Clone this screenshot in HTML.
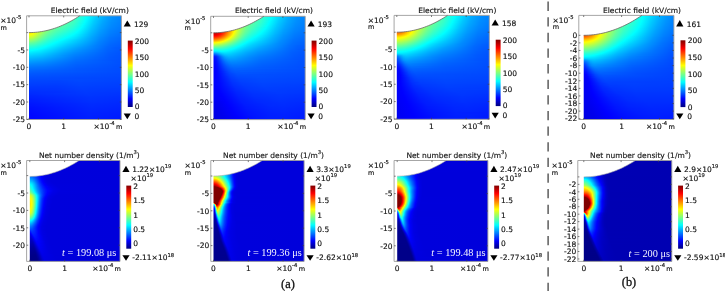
<!DOCTYPE html>
<html><head><meta charset="utf-8"><title>Electric field and net number density</title>
<style>
html,body{margin:0;padding:0;background:#fff}
#fig{position:relative;width:725px;height:291px;overflow:hidden;background:#fff}
.p{position:absolute}
.p i{display:block;height:1px}
svg{position:absolute;left:0;top:0}
.s{font-family:'DejaVu Sans','Liberation Sans',sans-serif;stroke:#111;stroke-width:.15px}
.r{font-family:'Liberation Serif','DejaVu Serif',serif}
</style></head><body>
<div id="fig">
<div class="p" style="clip-path:polygon(0.00px 17.60px,2.11px 17.57px,4.23px 17.48px,6.34px 17.34px,8.45px 17.13px,10.57px 16.87px,12.68px 16.55px,14.79px 16.17px,16.91px 15.73px,19.02px 15.24px,21.13px 14.68px,23.25px 14.07px,25.36px 13.40px,27.47px 12.67px,29.59px 11.88px,31.70px 11.04px,33.81px 10.13px,35.93px 9.17px,38.04px 8.15px,40.16px 7.07px,42.27px 5.93px,44.38px 4.74px,46.50px 3.48px,48.61px 2.17px,50.72px 0.80px,92.40px 0.80px,92.40px 104.50px,0.00px 104.50px);left:29px;top:15px;width:93px">
<i style="background:linear-gradient(90deg,#ff8000 0.5px,#feff01 13.5px,#b4ff4b 21.5px,#82ff7d 28.5px,#6aff95 33.5px,#3dffc2 47.5px,#00feff 58.5px,#00cdff 67.5px,#00a6ff 76.5px,#008eff 84.5px,#0081ff 92.5px)"></i>
<i style="background:linear-gradient(90deg,#ff8f00 0.5px,#ffb200 4.5px,#fffe00 12.5px,#b1ff4e 21.5px,#82ff7d 28.5px,#6bff94 33.5px,#40ffbf 46.5px,#27ffd8 51.5px,#04fffb 57.5px,#00fcff 58.5px,#00c6ff 68.5px,#00a9ff 75.5px,#008eff 84.5px,#0082ff 92.5px)"></i>
<i style="background:linear-gradient(90deg,#ff9d00 0.5px,#ffbd00 4.5px,#fffd00 11.5px,#f8ff07 12.5px,#b5ff4a 20.5px,#86ff79 27.5px,#6bff94 33.5px,#40ffbf 46.5px,#02fffd 57.5px,#00c9ff 67.5px,#00a7ff 75.5px,#0090ff 83.5px,#0081ff 92.5px)"></i>
<i style="background:linear-gradient(90deg,#ffa900 0.5px,#ffc600 4.5px,#fffb00 10.5px,#faff05 11.5px,#b8ff47 19.5px,#84ff7b 27.5px,#6dff92 32.5px,#3effc1 46.5px,#05fffa 56.5px,#00feff 57.5px,#0cf 66.5px,#00a6ff 75.5px,#008fff 83.5px,#0081ff 92.5px)"></i>
<i style="background:linear-gradient(90deg,#ffb300 0.5px,#ffcf00 4.5px,#fff900 9.5px,#fcff03 10.5px,#baff45 18.5px,#87ff78 26.5px,#6cff93 32.5px,#41ffbe 45.5px,#28ffd7 50.5px,#03fffc 56.5px,#00fcff 57.5px,#00c9ff 66.5px,#00a8ff 74.5px,#008eff 83.5px,#0081ff 92.5px)"></i>
<i style="background:linear-gradient(90deg,#fb0 0.5px,#ffd600 4.5px,#feff01 9.5px,#bdff42 17.5px,#8aff75 25.5px,#6eff91 31.5px,#3effc1 45.5px,#25ffda 50.5px,#0ff 56.5px,#0cf 65.5px,#0af 73.5px,#0090ff 82.5px,#0080ff 92.5px)"></i>
<i style="background:linear-gradient(90deg,#ffc200 0.5px,#ffdb00 4.5px,#fffc00 8.5px,#f9ff06 9.5px,#b7ff48 17.5px,#8cff73 24.5px,#6bff94 31.5px,#3cffc3 45.5px,#04fffb 55.5px,#00fcff 56.5px,#00c9ff 65.5px,#00a8ff 73.5px,#008fff 82.5px,#0080ff 92.5px)"></i>
<i style="background:linear-gradient(90deg,#ffc700 0.5px,#ffd800 3.5px,#fdff02 8.5px,#b9ff46 16.5px,#8dff72 23.5px,#6cff93 30.5px,#39ffc6 45.5px,#01fffe 55.5px,#0cf 64.5px,#00a6ff 73.5px,#008dff 82.5px,#007fff 92.5px)"></i>
<i style="background:linear-gradient(90deg,#ffcb00 0.5px,#ffdb00 3.5px,#fffc00 7.5px,#f9ff06 8.5px,#b4ff4b 16.5px,#8f7 23.5px,#69ff96 30.5px,#3affc5 44.5px,#00fcff 55.5px,#00c9ff 64.5px,#00a4ff 73.5px,#008cff 82.5px,#007eff 92.5px)"></i>
<i style="background:linear-gradient(90deg,#ffce00 0.5px,#ffde00 3.5px,#ff0 7.5px,#b7ff48 15.5px,#89ff76 22.5px,#65ff9a 30.5px,#36ffc9 44.5px,#23ffdc 48.5px,#0ff 54.5px,#00cbff 63.5px,#00a5ff 72.5px,#008bff 82.5px,#007dff 92.5px)"></i>
<i style="background:linear-gradient(90deg,#ffcf00 0.5px,#ffdf00 3.5px,#fdff02 7.5px,#b2ff4d 15.5px,#89ff76 21.5px,#64ff9b 29.5px,#32ffcd 44.5px,#02fffd 53.5px,#00c3ff 64.5px,#00a3ff 72.5px,#0089ff 82.5px,#007cff 92.5px)"></i>
<i style="background:linear-gradient(90deg,#ffd100 0.5px,#ffe000 3.5px,#fffa00 6.5px,#faff05 7.5px,#b5ff4a 14.5px,#9dff62 17.5px,#84ff7b 21.5px,#60ff9f 29.5px,#2dffd2 44.5px,#00fdff 53.5px,#00c5ff 63.5px,#00a1ff 72.5px,#08f 82.5px,#007bff 92.5px)"></i>
<i style="background:linear-gradient(90deg,#ffd200 0.5px,#ffe200 3.5px,#fffc00 6.5px,#f8ff07 7.5px,#b0ff4f 14.5px,#97ff68 17.5px,#7eff81 21.5px,#5bffa4 29.5px,#28ffd7 44.5px,#0ff 52.5px,#00c7ff 62.5px,#00a2ff 71.5px,#08f 81.5px,#0079ff 92.5px)"></i>
<i style="background:linear-gradient(90deg,#ffd400 0.5px,#ffe300 3.5px,#ff0 6.5px,#af5 14.5px,#92ff6d 17.5px,#7eff81 20.5px,#59ffa6 28.5px,#23ffdc 44.5px,#01fffe 51.5px,#00c4ff 62.5px,#00a0ff 71.5px,#0086ff 81.5px,#0078ff 92.5px)"></i>
<i style="background:linear-gradient(90deg,#ffd700 0.5px,#ffe000 2.5px,#fcff03 6.5px,#a5ff5a 14.5px,#8cff73 17.5px,#78ff87 20.5px,#57ffa8 27.5px,#25ffda 42.5px,#01fffe 50.5px,#00c1ff 62.5px,#009dff 71.5px,#0084ff 81.5px,#07f 92.5px)"></i>
<i style="background:linear-gradient(90deg,#ffdc00 0.5px,#ffe400 2.5px,#fffc00 5.5px,#f7ff08 6.5px,#9eff61 14.5px,#85ff7a 17.5px,#6cff93 21.5px,#51ffae 27.5px,#20ffdf 42.5px,#02fffd 49.5px,#00bdff 62.5px,#009bff 71.5px,#0082ff 81.5px,#0075ff 92.5px)"></i>
<i style="background:linear-gradient(90deg,#ffe200 0.5px,#ffea00 2.5px,#fcff03 5.5px,#98ff67 14.5px,#7eff81 17.5px,#6f9 21.5px,#4bffb4 27.5px,#1affe5 42.5px,#01fffe 48.5px,#00baff 62.5px,#009cff 70.5px,#0080ff 81.5px,#0073ff 92.5px)"></i>
<i style="background:linear-gradient(90deg,#ffea00 0.5px,#fff200 2.5px,#fdff02 4.5px,#90ff6f 14.5px,#7f8 17.5px,#64ff9b 20.5px,#45ffba 27.5px,#17ffe8 41.5px,#0ff 47.5px,#0bf 61.5px,#09f 70.5px,#007fff 81.5px,#0072ff 92.5px)"></i>
<i style="background:linear-gradient(90deg,#fff500 0.5px,#fffc00 2.5px,#f4ff0b 4.5px,#89ff76 14.5px,#70ff8f 17.5px,#5dffa2 20.5px,#3effc1 27.5px,#02fffd 45.5px,#00f5ff 48.5px,#00b3ff 62.5px,#0097ff 70.5px,#007dff 81.5px,#0070ff 92.5px)"></i>
<i style="background:linear-gradient(90deg,#fdff02 0.5px,#f6ff09 2.5px,#e8ff17 4.5px,#89ff76 13.5px,#6fff90 16.5px,#5bffa4 19.5px,#37ffc8 27.5px,#0ff 44.5px,#00b4ff 61.5px,#0094ff 70.5px,#007bff 81.5px,#006eff 92.5px)"></i>
<i style="background:linear-gradient(90deg,#ef1 0.5px,#e8ff17 2.5px,#dbff24 4.5px,#80ff7f 13.5px,#67ff98 16.5px,#54ffab 19.5px,#30ffcf 27.5px,#0ff 42.5px,#00e9ff 48.5px,#00adff 62.5px,#0092ff 70.5px,#0079ff 81.5px,#006dff 92.5px)"></i>
<i style="background:linear-gradient(90deg,#deff21 0.5px,#d8ff27 2.5px,#cf3 4.5px,#76ff89 13.5px,#5effa1 16.5px,#4cffb3 19.5px,#29ffd6 27.5px,#0ff 40.5px,#00e7ff 47.5px,#00a9ff 62.5px,#008fff 70.5px,#07f 81.5px,#006bff 92.5px)"></i>
<i style="background:linear-gradient(90deg,#cdff32 0.5px,#c7ff38 2.5px,#bcff43 4.5px,#64ff9b 14.5px,#4fb 19.5px,#26ffd9 26.5px,#0ff 38.5px,#00e0ff 47.5px,#00a6ff 62.5px,#008cff 70.5px,#0074ff 81.5px,#0069ff 92.5px)"></i>
<i style="background:linear-gradient(90deg,#bf4 0.5px,#b6ff49 2.5px,#abff54 4.5px,#61ff9e 13.5px,#41ffbe 18.5px,#2fd 25.5px,#01fffe 35.5px,#00e5ff 44.5px,#00a6ff 61.5px,#008aff 70.5px,#0072ff 81.5px,#0067ff 92.5px)"></i>
<i style="background:linear-gradient(90deg,#a8ff57 0.5px,#a3ff5c 2.5px,#94ff6b 5.5px,#56ffa9 13.5px,#38ffc7 18.5px,#1effe1 24.5px,#0ff 33.5px,#0087ff 70.5px,#0071ff 81.5px,#06f 92.5px)"></i>
<i style="background:linear-gradient(90deg,#95ff6a 0.5px,#91ff6e 2.5px,#83ff7c 5.5px,#4cffb3 13.5px,#2fffd0 18.5px,#16ffe9 24.5px,#00feff 31.5px,#0085ff 70.5px,#006fff 81.5px,#0064ff 92.5px)"></i>
<i style="background:linear-gradient(90deg,#82ff7d 0.5px,#7fff80 2.5px,#72ff8d 5.5px,#41ffbe 13.5px,#27ffd8 18.5px,#01fffe 28.5px,#0082ff 70.5px,#006dff 81.5px,#0062ff 92.5px)"></i>
<i style="background:linear-gradient(90deg,#70ff8f 0.5px,#6f9 4.5px,#27ffd8 16.5px,#0ff 26.5px,#0082ff 69.5px,#006bff 81.5px,#0061ff 92.5px)"></i>
<i style="background:linear-gradient(90deg,#5fffa0 0.5px,#53ffac 5.5px,#1effe1 16.5px,#0ff 24.5px,#00d7ff 37.5px,#0080ff 69.5px,#0069ff 81.5px,#005fff 92.5px)"></i>
<i style="background:linear-gradient(90deg,#4fffb0 0.5px,#4fb 5.5px,#15ffea 16.5px,#00feff 22.5px,#00cdff 38.5px,#0080ff 68.5px,#0067ff 81.5px,#005eff 92.5px)"></i>
<i style="background:linear-gradient(90deg,#40ffbf 0.5px,#36ffc9 5.5px,#08fff7 17.5px,#00fdff 20.5px,#00c6ff 38.5px,#007fff 67.5px,#0065ff 81.5px,#005cff 92.5px)"></i>
<i style="background:linear-gradient(90deg,#32ffcd 0.5px,#26ffd9 6.5px,#0ff 17.5px,#00c2ff 37.5px,#0085ff 63.5px,#06f 79.5px,#005bff 92.5px)"></i>
<i style="background:linear-gradient(90deg,#25ffda 0.5px,#1dffe2 5.5px,#00fdff 15.5px,#00c6ff 33.5px,#009dff 50.5px,#0068ff 77.5px,#005dff 85.5px,#0059ff 92.5px)"></i>
<i style="background:linear-gradient(90deg,#18ffe7 0.5px,#1fe 5.5px,#00feff 12.5px,#00c2ff 32.5px,#009eff 47.5px,#06f 77.5px,#005cff 85.5px,#0058ff 92.5px)"></i>
<i style="background:linear-gradient(90deg,#0dfff2 0.5px,#0ff 8.5px,#00b6ff 34.5px,#0095ff 49.5px,#0063ff 78.5px,#0057ff 92.5px)"></i>
<i style="background:linear-gradient(90deg,#02fffd 0.5px,#00feff 3.5px,#00f3ff 9.5px,#00b2ff 33.5px,#0095ff 46.5px,#0061ff 78.5px,#0056ff 92.5px)"></i>
<i style="background:linear-gradient(90deg,#00f7ff 0.5px,#00e8ff 10.5px,#0af 34.5px,#0091ff 46.5px,#005fff 79.5px,#05f 92.5px)"></i>
<i style="background:linear-gradient(90deg,#00edff 0.5px,#0df 11.5px,#00a4ff 34.5px,#008dff 45.5px,#005dff 79.5px,#0054ff 92.5px)"></i>
<i style="background:linear-gradient(90deg,#00e3ff 0.5px,#00d4ff 11.5px,#009eff 34.5px,#0089ff 45.5px,#005cff 79.5px,#0053ff 92.5px)"></i>
<i style="background:linear-gradient(90deg,#00daff 0.5px,#00caff 12.5px,#0097ff 35.5px,#0084ff 45.5px,#005aff 80.5px,#0053ff 92.5px)"></i>
<i style="background:linear-gradient(90deg,#00d0ff 0.5px,#00c2ff 12.5px,#0091ff 35.5px,#0080ff 45.5px,#0059ff 80.5px,#0052ff 92.5px)"></i>
<i style="background:linear-gradient(90deg,#00c7ff 0.5px,#00baff 12.5px,#007cff 45.5px,#0058ff 80.5px,#0052ff 92.5px)"></i>
<i style="background:linear-gradient(90deg,#00bfff 0.5px,#00b1ff 13.5px,#0078ff 45.5px,#0056ff 81.5px,#0051ff 92.5px)"></i>
<i style="background:linear-gradient(90deg,#00b6ff 0.5px,#00a9ff 13.5px,#0075ff 45.5px,#0056ff 81.5px,#0051ff 92.5px)"></i>
<i style="background:linear-gradient(90deg,#00aeff 0.5px,#00a2ff 13.5px,#0070ff 46.5px,#05f 81.5px,#0050ff 92.5px)"></i>
<i style="background:linear-gradient(90deg,#00a5ff 0.5px,#009bff 13.5px,#006dff 46.5px,#0054ff 81.5px,#0050ff 92.5px)"></i>
<i style="background:linear-gradient(90deg,#009dff 0.5px,#0093ff 14.5px,#006aff 46.5px,#004fff 92.5px)"></i>
<i style="background:linear-gradient(90deg,#0096ff 0.5px,#008cff 14.5px,#0067ff 46.5px,#004fff 92.5px)"></i>
<i style="background:linear-gradient(90deg,#008eff 0.5px,#0086ff 14.5px,#0065ff 46.5px,#004fff 92.5px)"></i>
<i style="background:linear-gradient(90deg,#0087ff 0.5px,#007fff 15.5px,#0062ff 46.5px,#004eff 92.5px)"></i>
<i style="background:linear-gradient(90deg,#0080ff 0.5px,#007aff 15.5px,#005fff 47.5px,#004eff 92.5px)"></i>
<i style="background:linear-gradient(90deg,#007aff 0.5px,#0074ff 15.5px,#005dff 47.5px,#004dff 92.5px)"></i>
<i style="background:linear-gradient(90deg,#0074ff 0.5px,#006fff 15.5px,#005bff 47.5px,#004dff 92.5px)"></i>
<i style="background:linear-gradient(90deg,#006fff 0.5px,#006bff 15.5px,#0058ff 48.5px,#004cff 92.5px)"></i>
<i style="background:linear-gradient(90deg,#006aff 0.5px,#06f 15.5px,#0057ff 48.5px,#004cff 92.5px)"></i>
<i style="background:linear-gradient(90deg,#0065ff 0.5px,#05f 49.5px,#004bff 92.5px)"></i>
<i style="background:linear-gradient(90deg,#0061ff 0.5px,#004bff 92.5px)"></i>
<i style="background:linear-gradient(90deg,#005dff 0.5px,#004aff 92.5px)"></i>
<i style="background:linear-gradient(90deg,#0059ff 0.5px,#0049ff 92.5px)"></i>
<i style="background:linear-gradient(90deg,#0056ff 0.5px,#0048ff 92.5px)"></i>
<i style="background:linear-gradient(90deg,#0053ff 0.5px,#0048ff 92.5px)"></i>
<i style="background:linear-gradient(90deg,#0050ff 0.5px,#0047ff 92.5px)"></i>
<i style="background:linear-gradient(90deg,#004dff 0.5px,#0046ff 92.5px)"></i>
<i style="background:linear-gradient(90deg,#004bff 0.5px,#0045ff 92.5px)"></i>
<i style="background:linear-gradient(90deg,#0048ff 0.5px,#0049ff 49.5px,#04f 92.5px)"></i>
<i style="background:linear-gradient(90deg,#0046ff 0.5px,#04f 28.5px,#0048ff 49.5px,#0043ff 92.5px)"></i>
<i style="background:linear-gradient(90deg,#04f 0.5px,#0042ff 28.5px,#0047ff 50.5px,#0042ff 92.5px)"></i>
<i style="background:linear-gradient(90deg,#0042ff 0.5px,#0041ff 28.5px,#0045ff 50.5px,#0041ff 92.5px)"></i>
<i style="background:linear-gradient(90deg,#0040ff 0.5px,#003fff 28.5px,#04f 50.5px,#0040ff 92.5px)"></i>
<i style="background:linear-gradient(90deg,#003eff 0.5px,#003dff 27.5px,#0043ff 51.5px,#003fff 92.5px)"></i>
<i style="background:linear-gradient(90deg,#003cff 0.5px,#003bff 27.5px,#0042ff 51.5px,#003eff 92.5px)"></i>
<i style="background:linear-gradient(90deg,#0039ff 0.5px,#0039ff 27.5px,#0040ff 51.5px,#003dff 92.5px)"></i>
<i style="background:linear-gradient(90deg,#0037ff 0.5px,#0038ff 27.5px,#003fff 52.5px,#003cff 92.5px)"></i>
<i style="background:linear-gradient(90deg,#0035ff 0.5px,#0036ff 27.5px,#003eff 52.5px,#003aff 92.5px)"></i>
<i style="background:linear-gradient(90deg,#03f 0.5px,#0035ff 27.5px,#003dff 53.5px,#0039ff 92.5px)"></i>
<i style="background:linear-gradient(90deg,#0031ff 0.5px,#03f 27.5px,#003bff 54.5px,#0038ff 92.5px)"></i>
<i style="background:linear-gradient(90deg,#002fff 0.5px,#0031ff 27.5px,#003aff 55.5px,#0037ff 92.5px)"></i>
<i style="background:linear-gradient(90deg,#002dff 0.5px,#0030ff 27.5px,#0039ff 56.5px,#0035ff 92.5px)"></i>
<i style="background:linear-gradient(90deg,#002bff 0.5px,#0038ff 57.5px,#0034ff 92.5px)"></i>
<i style="background:linear-gradient(90deg,#0029ff 0.5px,#0037ff 59.5px,#03f 92.5px)"></i>
<i style="background:linear-gradient(90deg,#0026ff 0.5px,#0036ff 60.5px,#0032ff 92.5px)"></i>
<i style="background:linear-gradient(90deg,#0024ff 0.5px,#0034ff 60.5px,#0030ff 92.5px)"></i>
<i style="background:linear-gradient(90deg,#02f 0.5px,#03f 61.5px,#002fff 92.5px)"></i>
<i style="background:linear-gradient(90deg,#0020ff 0.5px,#0032ff 61.5px,#002eff 92.5px)"></i>
<i style="background:linear-gradient(90deg,#001eff 0.5px,#0031ff 61.5px,#002dff 92.5px)"></i>
<i style="background:linear-gradient(90deg,#001cff 0.5px,#0030ff 61.5px,#002bff 92.5px)"></i>
<i style="background:linear-gradient(90deg,#001bff 0.5px,#002fff 61.5px,#002aff 92.5px)"></i>
<i style="background:linear-gradient(90deg,#0019ff 0.5px,#002eff 62.5px,#0029ff 92.5px)"></i>
<i style="background:linear-gradient(90deg,#0017ff 0.5px,#002cff 62.5px,#0028ff 92.5px)"></i>
<i style="background:linear-gradient(90deg,#0015ff 0.5px,#002bff 62.5px,#0027ff 92.5px)"></i>
<i style="background:linear-gradient(90deg,#0014ff 0.5px,#002aff 62.5px,#0026ff 92.5px)"></i>
<i style="background:linear-gradient(90deg,#0012ff 0.5px,#0029ff 62.5px,#0025ff 92.5px)"></i>
<i style="background:linear-gradient(90deg,#0010ff 0.5px,#0028ff 62.5px,#0024ff 92.5px)"></i>
<i style="background:linear-gradient(90deg,#000fff 0.5px,#0027ff 62.5px,#0023ff 92.5px)"></i>
<i style="background:linear-gradient(90deg,#000eff 0.5px,#0026ff 61.5px,#02f 92.5px)"></i>
<i style="background:linear-gradient(90deg,#000cff 0.5px,#0025ff 61.5px,#0021ff 92.5px)"></i>
<i style="background:linear-gradient(90deg,#000bff 0.5px,#0024ff 61.5px,#0020ff 92.5px)"></i>
<i style="background:linear-gradient(90deg,#000aff 0.5px,#0023ff 61.5px,#001fff 92.5px)"></i>
<i style="background:linear-gradient(90deg,#0009ff 0.5px,#02f 61.5px,#001eff 92.5px)"></i>
<i style="background:linear-gradient(90deg,#0008ff 0.5px,#02f 61.5px,#001dff 92.5px)"></i>
<i style="background:linear-gradient(90deg,#0007ff 0.5px,#0021ff 60.5px,#001dff 92.5px)"></i>
<i style="background:linear-gradient(90deg,#0007ff 0.5px,#0020ff 60.5px,#001cff 92.5px)"></i>
<i style="background:linear-gradient(90deg,#0006ff 0.5px,#001fff 59.5px,#001bff 92.5px)"></i>
<i style="background:linear-gradient(90deg,#0006ff 0.5px,#000fff 27.5px,#001fff 58.5px,#001bff 92.5px)"></i>
<i style="background:linear-gradient(90deg,#0005ff 0.5px,#000eff 27.5px,#001eff 57.5px,#001bff 92.5px)"></i>
</div>
<div class="p" style="clip-path:polygon(0.50px 16.80px,2.59px 16.77px,4.69px 16.69px,6.78px 16.54px,8.88px 16.34px,10.97px 16.08px,13.07px 15.77px,15.16px 15.40px,17.26px 14.97px,19.35px 14.48px,21.44px 13.94px,23.54px 13.33px,25.63px 12.67px,27.73px 11.96px,29.82px 11.19px,31.92px 10.35px,34.01px 9.47px,36.11px 8.52px,38.20px 7.52px,40.29px 6.46px,42.39px 5.34px,44.48px 4.17px,46.58px 2.94px,48.67px 1.65px,50.77px 0.30px,92.20px 0.30px,92.20px 103.60px,0.50px 103.60px);left:213px;top:16px;width:93px">
<i style="background:linear-gradient(90deg,#ff5b00 0.5px,#ff9200 6.5px,#feff01 16.5px,#adff52 24.5px,#81ff7e 30.5px,#69ff96 35.5px,#3fffc0 47.5px,#01fffe 58.5px,#00c9ff 68.5px,#00a7ff 76.5px,#008fff 84.5px,#0082ff 92.5px)"></i>
<i style="background:linear-gradient(90deg,#ff5e00 0.5px,#ff9200 6.5px,#ff0 16.5px,#f4ff0b 17.5px,#afff50 24.5px,#82ff7d 30.5px,#6aff95 35.5px,#3effc1 47.5px,#00feff 58.5px,#0cf 67.5px,#00a9ff 75.5px,#008fff 84.5px,#0082ff 92.5px)"></i>
<i style="background:linear-gradient(90deg,#ff5d00 0.5px,#ff8e00 6.5px,#fffb00 16.5px,#f8ff07 17.5px,#b1ff4e 24.5px,#83ff7c 30.5px,#6aff95 35.5px,#3dffc2 47.5px,#03fffc 57.5px,#00fcff 58.5px,#00caff 67.5px,#00a8ff 75.5px,#0091ff 83.5px,#0082ff 92.5px)"></i>
<i style="background:linear-gradient(90deg,#ff5900 0.5px,#ff6d00 3.5px,#ff8700 6.5px,#fcff03 17.5px,#b3ff4c 24.5px,#84ff7b 30.5px,#6aff95 35.5px,#3bffc4 47.5px,#0ff 57.5px,#0cf 66.5px,#0af 74.5px,#0090ff 83.5px,#0081ff 92.5px)"></i>
<i style="background:linear-gradient(90deg,#ff5100 0.5px,#ff6400 3.5px,#ff7e00 6.5px,#ffa800 10.5px,#fffc00 17.5px,#f6ff09 18.5px,#adff52 25.5px,#7fff80 31.5px,#6aff95 35.5px,#39ffc6 47.5px,#00fdff 57.5px,#00cfff 65.5px,#00a8ff 74.5px,#008fff 83.5px,#0081ff 92.5px)"></i>
<i style="background:linear-gradient(90deg,#ff4600 0.5px,#ff5700 3.5px,#ff7b00 7.5px,#fdff02 18.5px,#afff50 25.5px,#7fff80 31.5px,#65ff9a 36.5px,#36ffc9 47.5px,#01fffe 56.5px,#0cf 65.5px,#00a7ff 74.5px,#008eff 83.5px,#0080ff 92.5px)"></i>
<i style="background:linear-gradient(90deg,#ff3700 0.5px,#ff4800 3.5px,#ff6c00 7.5px,#ff9c00 11.5px,#fff900 18.5px,#f8ff07 19.5px,#b2ff4d 25.5px,#96ff69 28.5px,#80ff7f 31.5px,#64ff9b 36.5px,#34ffcb 47.5px,#00fdff 56.5px,#00caff 65.5px,#00a8ff 73.5px,#008fff 82.5px,#0080ff 92.5px)"></i>
<i style="background:linear-gradient(90deg,#ff2700 0.5px,#ff3700 3.5px,#ff5c00 7.5px,#ff8e00 11.5px,#ff0 19.5px,#b5ff4a 25.5px,#98ff67 28.5px,#80ff7f 31.5px,#62ff9d 36.5px,#30ffcf 47.5px,#01fffe 55.5px,#00c7ff 65.5px,#00a6ff 73.5px,#008dff 82.5px,#007fff 92.5px)"></i>
<i style="background:linear-gradient(90deg,#ff1400 0.5px,#ff2400 3.5px,#ff4a00 7.5px,#ff7f00 11.5px,#fff700 19.5px,#f8ff07 20.5px,#d0ff2f 23.5px,#adff52 26.5px,#90ff6f 29.5px,#78ff87 32.5px,#60ff9f 36.5px,#32ffcd 46.5px,#00fdff 55.5px,#00c9ff 64.5px,#00a4ff 73.5px,#008cff 82.5px,#007eff 92.5px)"></i>
<i style="background:linear-gradient(90deg,#ff0100 0.5px,#ff1000 3.5px,#ff2100 5.5px,#ff3700 7.5px,#ff6f00 11.5px,#ff0 20.5px,#d4ff2b 23.5px,#afff50 26.5px,#90ff6f 29.5px,#7f8 32.5px,#5effa1 36.5px,#29ffd6 47.5px,#0ff 54.5px,#00cbff 63.5px,#00a5ff 72.5px,#008aff 82.5px,#007dff 92.5px)"></i>
<i style="background:linear-gradient(90deg,#e00 0.5px,#fc0000 3.5px,#ff0500 4.5px,#ff2600 7.5px,#ff6000 11.5px,#fff900 20.5px,#f6ff09 21.5px,#caff35 24.5px,#a5ff5a 27.5px,#76ff89 32.5px,#56ffa9 37.5px,#25ffda 47.5px,#03fffc 53.5px,#00c4ff 64.5px,#00a3ff 72.5px,#0089ff 82.5px,#007bff 92.5px)"></i>
<i style="background:linear-gradient(90deg,#dc0000 0.5px,#e40000 2.5px,#fc0000 5.5px,#ff0900 6.5px,#ff4200 10.5px,#ffe200 19.5px,#fff300 20.5px,#faff05 21.5px,#cf3 24.5px,#a5ff5a 27.5px,#74ff8b 32.5px,#52ffad 37.5px,#00fdff 53.5px,#00c5ff 63.5px,#00a1ff 72.5px,#0087ff 82.5px,#007aff 92.5px)"></i>
<i style="background:linear-gradient(90deg,#cd0000 0.5px,#db0000 3.5px,#f90000 6.5px,#ff0700 7.5px,#ff4700 11.5px,#fd0 19.5px,#fdff02 21.5px,#cdff32 24.5px,#a5ff5a 27.5px,#71ff8e 32.5px,#4effb1 37.5px,#0ff 52.5px,#00c7ff 62.5px,#00a2ff 71.5px,#0087ff 81.5px,#0079ff 92.5px)"></i>
<i style="background:linear-gradient(90deg,#c20000 0.5px,#d00000 3.5px,#e20000 5.5px,#fc0000 7.5px,#ff0b00 8.5px,#ff3f00 11.5px,#ff0 21.5px,#cdff32 24.5px,#a3ff5c 27.5px,#6eff91 32.5px,#4fb 38.5px,#01fffe 51.5px,#00c4ff 62.5px,#009fff 71.5px,#0086ff 81.5px,#07f 92.5px)"></i>
<i style="background:linear-gradient(90deg,#bc0000 0.5px,#c90000 3.5px,#dc0000 5.5px,#f50000 7.5px,#ff0500 8.5px,#ff3a00 11.5px,#feff01 21.5px,#cf3 24.5px,#a0ff5f 27.5px,#8f7 29.5px,#69ff96 32.5px,#3fffc0 38.5px,#01fffe 50.5px,#00c0ff 62.5px,#009dff 71.5px,#0084ff 81.5px,#0076ff 92.5px)"></i>
<i style="background:linear-gradient(90deg,#b00 0.5px,#c10000 2.5px,#d00000 4.5px,#f40000 7.5px,#ff0400 8.5px,#ff3900 11.5px,#ffdc00 19.5px,#fcff03 21.5px,#c8ff37 24.5px,#9cff63 27.5px,#83ff7c 29.5px,#65ff9a 32.5px,#39ffc6 38.5px,#01fffe 49.5px,#00bdff 62.5px,#009eff 70.5px,#0082ff 81.5px,#0074ff 92.5px)"></i>
<i style="background:linear-gradient(90deg,#bf0000 0.5px,#c00 3.5px,#de0000 5.5px,#f80000 7.5px,#ff0800 8.5px,#ff5100 12.5px,#fff400 20.5px,#f7ff08 21.5px,#c3ff3c 24.5px,#97ff68 27.5px,#7eff81 29.5px,#5fffa0 32.5px,#3fc 38.5px,#01fffe 48.5px,#00beff 61.5px,#009bff 70.5px,#0080ff 81.5px,#0072ff 92.5px)"></i>
<i style="background:linear-gradient(90deg,#ca0000 0.5px,#d60000 3.5px,#ff0300 7.5px,#ff4700 11.5px,#fffc00 20.5px,#efff10 21.5px,#bcff43 24.5px,#90ff6f 27.5px,#7f8 29.5px,#58ffa7 32.5px,#2dffd2 38.5px,#0ff 47.5px,#0bf 61.5px,#09f 70.5px,#007eff 81.5px,#0071ff 92.5px)"></i>
<i style="background:linear-gradient(90deg,#db0000 0.5px,#e60000 3.5px,#f80000 5.5px,#ff0500 6.5px,#ff2100 8.5px,#ff4200 10.5px,#fff300 19.5px,#f8ff07 20.5px,#c3ff3c 23.5px,#95ff6a 26.5px,#7bff84 28.5px,#5affa5 31.5px,#40ffbf 34.5px,#2cffd3 37.5px,#03fffc 45.5px,#00feff 46.5px,#00b3ff 62.5px,#0096ff 70.5px,#007cff 81.5px,#006fff 92.5px)"></i>
<i style="background:linear-gradient(90deg,#f20000 0.5px,#fd0000 3.5px,#ff0500 4.5px,#ff2700 7.5px,#ff6700 11.5px,#feff01 19.5px,#c8ff37 22.5px,#9f6 25.5px,#7eff81 27.5px,#5cffa3 30.5px,#40ffbf 33.5px,#2bffd4 36.5px,#01fffe 44.5px,#00b3ff 61.5px,#0093ff 70.5px,#007aff 81.5px,#006dff 92.5px)"></i>
<i style="background:linear-gradient(90deg,#ff0f00 0.5px,#ff1900 3.5px,#ff2900 5.5px,#ff4000 7.5px,#ff7d00 11.5px,#fffe00 18.5px,#9cff63 24.5px,#5dffa2 29.5px,#40ffbf 32.5px,#29ffd6 35.5px,#03fffc 42.5px,#00feff 43.5px,#00b0ff 61.5px,#0091ff 70.5px,#0078ff 81.5px,#006cff 92.5px)"></i>
<i style="background:linear-gradient(90deg,#ff2f00 0.5px,#ff3900 3.5px,#ff4800 5.5px,#ff5e00 7.5px,#ff9700 11.5px,#ff0 17.5px,#9dff62 23.5px,#5dffa2 28.5px,#3fffc0 31.5px,#28ffd7 34.5px,#01fffe 41.5px,#00b4ff 59.5px,#0091ff 69.5px,#0076ff 81.5px,#006aff 92.5px)"></i>
<i style="background:linear-gradient(90deg,#ff5300 0.5px,#ff5c00 3.5px,#ff6a00 5.5px,#ff7e00 7.5px,#ffa500 10.5px,#fff400 15.5px,#f9ff06 16.5px,#9bff64 22.5px,#5cffa3 27.5px,#3effc1 30.5px,#26ffd9 33.5px,#02fffd 39.5px,#00b0ff 59.5px,#008fff 69.5px,#0074ff 81.5px,#0068ff 92.5px)"></i>
<i style="background:linear-gradient(90deg,#ff7a00 0.5px,#ff8200 3.5px,#ff9700 6.5px,#ffc500 10.5px,#ff0 14.5px,#97ff68 21.5px,#59ffa6 26.5px,#3bffc4 29.5px,#23ffdc 32.5px,#00feff 38.5px,#00b7ff 56.5px,#008fff 68.5px,#0073ff 80.5px,#06f 92.5px)"></i>
<i style="background:linear-gradient(90deg,#ffa100 0.5px,#ffa500 2.5px,#ffb400 5.5px,#ffcf00 8.5px,#ff0 12.5px,#91ff6e 20.5px,#56ffa9 25.5px,#27ffd8 30.5px,#01fffe 36.5px,#00c0ff 52.5px,#008cff 68.5px,#0071ff 80.5px,#0065ff 92.5px)"></i>
<i style="background:linear-gradient(90deg,#ffc900 0.5px,#fc0 2.5px,#ffd500 4.5px,#ffe200 6.5px,#fffd00 9.5px,#ecff13 11.5px,#7dff82 20.5px,#51ffae 24.5px,#23ffdc 29.5px,#02fffd 34.5px,#00cfff 46.5px,#008cff 67.5px,#006fff 80.5px,#0063ff 92.5px)"></i>
<i style="background:linear-gradient(90deg,#fff000 0.5px,#fff300 2.5px,#feff01 5.5px,#f0ff0f 7.5px,#cf3 11.5px,#69ff96 20.5px,#41ffbe 24.5px,#18ffe7 29.5px,#00fdff 33.5px,#00eaff 37.5px,#00d3ff 43.5px,#008cff 66.5px,#006dff 80.5px,#0061ff 92.5px)"></i>
<i style="background:linear-gradient(90deg,#e8ff17 0.5px,#deff21 4.5px,#c7ff38 8.5px,#a4ff5b 12.5px,#3affc5 23.5px,#1affe5 27.5px,#0ff 31.5px,#00e5ff 36.5px,#00cfff 42.5px,#008eff 64.5px,#006dff 79.5px,#0060ff 92.5px)"></i>
<i style="background:linear-gradient(90deg,#c4ff3b 0.5px,#bf4 4.5px,#a6ff59 8.5px,#8f7 12.5px,#2affd5 23.5px,#01fffe 29.5px,#00e5ff 34.5px,#00ceff 40.5px,#0093ff 61.5px,#006dff 78.5px,#005eff 92.5px)"></i>
<i style="background:linear-gradient(90deg,#a2ff5d 0.5px,#9bff64 4.5px,#8f7 8.5px,#6eff91 12.5px,#2fd 22.5px,#01fffe 27.5px,#00e1ff 33.5px,#00cdff 38.5px,#00a0ff 54.5px,#006eff 76.5px,#0062ff 84.5px,#005dff 92.5px)"></i>
<i style="background:linear-gradient(90deg,#80ff7f 0.5px,#78ff87 5.5px,#67ff98 9.5px,#01fffe 25.5px,#00d0ff 35.5px,#00a7ff 49.5px,#006dff 76.5px,#0061ff 84.5px,#005bff 92.5px)"></i>
<i style="background:linear-gradient(90deg,#5fffa0 0.5px,#5affa5 5.5px,#4effb1 9.5px,#00feff 23.5px,#00cfff 33.5px,#00a9ff 46.5px,#006bff 76.5px,#005fff 84.5px,#005aff 92.5px)"></i>
<i style="background:linear-gradient(90deg,#3effc1 0.5px,#3dffc2 6.5px,#37ffc8 9.5px,#26ffd9 13.5px,#02fffd 20.5px,#00fcff 21.5px,#00cbff 32.5px,#00a5ff 45.5px,#0069ff 76.5px,#005dff 85.5px,#0058ff 92.5px)"></i>
<i style="background:linear-gradient(90deg,#1effe1 0.5px,#23ffdc 6.5px,#21ffde 9.5px,#00fdff 18.5px,#00c6ff 31.5px,#00a2ff 44.5px,#06f 77.5px,#005bff 85.5px,#0057ff 92.5px)"></i>
<i style="background:linear-gradient(90deg,#00feff 0.5px,#0efff1 8.5px,#0afff5 11.5px,#01fffe 14.5px,#00c2ff 30.5px,#009eff 43.5px,#0064ff 77.5px,#0056ff 92.5px)"></i>
<i style="background:linear-gradient(90deg,#00e0ff 0.5px,#00e3ff 2.5px,#00f8ff 8.5px,#00f8ff 11.5px,#00efff 15.5px,#00b4ff 32.5px,#0096ff 44.5px,#0061ff 78.5px,#05f 92.5px)"></i>
<i style="background:linear-gradient(90deg,#00b5ff 0.5px,#00baff 2.5px,#00e0ff 8.5px,#00e6ff 10.5px,#00e7ff 12.5px,#00dfff 16.5px,#0af 33.5px,#0091ff 44.5px,#005eff 79.5px,#0054ff 92.5px)"></i>
<i style="background:linear-gradient(90deg,#0086ff 0.5px,#0087ff 1.5px,#0094ff 3.5px,#00beff 7.5px,#00cdff 9.5px,#00d6ff 11.5px,#00d8ff 13.5px,#00d1ff 17.5px,#009fff 35.5px,#008bff 45.5px,#005dff 79.5px,#0054ff 92.5px)"></i>
<i style="background:linear-gradient(90deg,#005dff 0.5px,#005fff 1.5px,#006fff 3.5px,#00a2ff 7.5px,#00b8ff 9.5px,#00c5ff 11.5px,#00caff 14.5px,#00c5ff 18.5px,#009cff 34.5px,#0086ff 45.5px,#005bff 80.5px,#0053ff 92.5px)"></i>
<i style="background:linear-gradient(90deg,#0037ff 0.5px,#0039ff 1.5px,#004bff 3.5px,#0095ff 8.5px,#00acff 10.5px,#00b9ff 12.5px,#00bfff 15.5px,#00baff 19.5px,#0094ff 35.5px,#0080ff 46.5px,#005aff 80.5px,#0052ff 92.5px)"></i>
<i style="background:linear-gradient(90deg,#0018ff 0.5px,#001bff 1.5px,#002dff 3.5px,#007fff 8.5px,#09f 10.5px,#0af 12.5px,#00b4ff 15.5px,#00b1ff 19.5px,#008dff 36.5px,#007cff 46.5px,#0058ff 81.5px,#0052ff 92.5px)"></i>
<i style="background:linear-gradient(90deg,#000eff 0.5px,#0010ff 1.5px,#02f 3.5px,#0071ff 8.5px,#0096ff 11.5px,#00a3ff 13.5px,#00abff 16.5px,#00a8ff 20.5px,#08f 36.5px,#0078ff 46.5px,#0057ff 81.5px,#0051ff 92.5px)"></i>
<i style="background:linear-gradient(90deg,#000aff 0.5px,#000cff 1.5px,#001cff 3.5px,#0075ff 9.5px,#008bff 11.5px,#09f 13.5px,#00a2ff 16.5px,#009fff 21.5px,#0082ff 37.5px,#0074ff 47.5px,#0056ff 81.5px,#0051ff 92.5px)"></i>
<i style="background:linear-gradient(90deg,#0007ff 0.5px,#0009ff 1.5px,#0018ff 3.5px,#006aff 9.5px,#0080ff 11.5px,#0094ff 14.5px,#009aff 17.5px,#0097ff 22.5px,#0070ff 47.5px,#05f 81.5px,#0050ff 92.5px)"></i>
<i style="background:linear-gradient(90deg,#0005ff 0.5px,#0007ff 1.5px,#0014ff 3.5px,#002bff 5.5px,#0061ff 9.5px,#07f 11.5px,#008bff 14.5px,#0092ff 17.5px,#0090ff 22.5px,#006dff 47.5px,#0050ff 92.5px)"></i>
<i style="background:linear-gradient(90deg,#0004ff 0.5px,#0005ff 1.5px,#01f 3.5px,#0026ff 5.5px,#0059ff 9.5px,#0076ff 12.5px,#0086ff 15.5px,#008bff 18.5px,#0089ff 23.5px,#006aff 47.5px,#004fff 92.5px)"></i>
<i style="background:linear-gradient(90deg,#0003ff 0.5px,#0008ff 2.5px,#0018ff 4.5px,#0052ff 9.5px,#006eff 12.5px,#007eff 15.5px,#0084ff 18.5px,#0083ff 23.5px,#0067ff 48.5px,#004fff 92.5px)"></i>
<i style="background:linear-gradient(90deg,#0002ff 0.5px,#0007ff 2.5px,#0015ff 4.5px,#05f 10.5px,#006dff 13.5px,#007aff 16.5px,#007fff 19.5px,#007dff 24.5px,#0064ff 48.5px,#004fff 92.5px)"></i>
<i style="background:linear-gradient(90deg,#0002ff 0.5px,#0006ff 2.5px,#0013ff 4.5px,#004eff 10.5px,#0065ff 13.5px,#0073ff 16.5px,#0078ff 19.5px,#07f 25.5px,#0062ff 48.5px,#004eff 92.5px)"></i>
<i style="background:linear-gradient(90deg,#0001ff 0.5px,#0005ff 2.5px,#01f 4.5px,#0048ff 10.5px,#005eff 13.5px,#006cff 16.5px,#0072ff 19.5px,#0072ff 25.5px,#005fff 49.5px,#004eff 92.5px)"></i>
<i style="background:linear-gradient(90deg,#0001ff 0.5px,#0004ff 2.5px,#000fff 4.5px,#004aff 11.5px,#005dff 14.5px,#0069ff 17.5px,#006eff 20.5px,#006dff 26.5px,#005dff 49.5px,#004dff 92.5px)"></i>
<i style="background:linear-gradient(90deg,#00f 0.5px,#0003ff 2.5px,#000dff 4.5px,#0045ff 11.5px,#0057ff 14.5px,#0063ff 17.5px,#0068ff 20.5px,#0069ff 25.5px,#005bff 48.5px,#004dff 92.5px)"></i>
<i style="background:linear-gradient(90deg,#0000fe 0.5px,#0002ff 2.5px,#000bff 4.5px,#003fff 11.5px,#0052ff 14.5px,#005dff 17.5px,#0064ff 21.5px,#004dff 92.5px)"></i>
<i style="background:linear-gradient(90deg,#0000fd 0.5px,#0001ff 2.5px,#000aff 4.5px,#0041ff 12.5px,#0051ff 15.5px,#005bff 18.5px,#0060ff 21.5px,#0061ff 27.5px,#0057ff 49.5px,#004cff 92.5px)"></i>
<i style="background:linear-gradient(90deg,#0000fd 0.5px,#0001ff 2.5px,#0008ff 4.5px,#003dff 12.5px,#004cff 15.5px,#0056ff 18.5px,#005cff 22.5px,#004bff 92.5px)"></i>
<i style="background:linear-gradient(90deg,#0000fd 0.5px,#00f 2.5px,#0007ff 4.5px,#0048ff 15.5px,#0052ff 18.5px,#0058ff 22.5px,#005aff 29.5px,#004bff 92.5px)"></i>
<i style="background:linear-gradient(90deg,#0000fd 0.5px,#00f 2.5px,#0007ff 4.5px,#003aff 13.5px,#0047ff 16.5px,#0050ff 19.5px,#0056ff 23.5px,#004aff 92.5px)"></i>
<i style="background:linear-gradient(90deg,#0000fd 0.5px,#00f 2.5px,#0006ff 4.5px,#04f 16.5px,#0052ff 23.5px,#0054ff 31.5px,#0049ff 92.5px)"></i>
<i style="background:linear-gradient(90deg,#0000fd 0.5px,#00f 2.5px,#000aff 5.5px,#03f 13.5px,#0043ff 17.5px,#0050ff 24.5px,#0049ff 92.5px)"></i>
<i style="background:linear-gradient(90deg,#0000fd 0.5px,#00f 2.5px,#0009ff 5.5px,#0030ff 13.5px,#0040ff 17.5px,#004dff 24.5px,#004eff 44.5px,#0048ff 92.5px)"></i>
<i style="background:linear-gradient(90deg,#0000fd 0.5px,#00f 2.5px,#0009ff 5.5px,#003dff 17.5px,#004aff 24.5px,#004dff 45.5px,#0047ff 92.5px)"></i>
<i style="background:linear-gradient(90deg,#0000fe 0.5px,#00f 2.5px,#0008ff 5.5px,#003aff 17.5px,#0048ff 25.5px,#004cff 46.5px,#0046ff 92.5px)"></i>
<i style="background:linear-gradient(90deg,#0000fe 0.5px,#0001ff 2.5px,#0008ff 5.5px,#003aff 18.5px,#0045ff 25.5px,#004aff 47.5px,#0045ff 92.5px)"></i>
<i style="background:linear-gradient(90deg,#0000fe 0.5px,#0007ff 5.5px,#0037ff 18.5px,#0043ff 26.5px,#0049ff 47.5px,#04f 92.5px)"></i>
<i style="background:linear-gradient(90deg,#0000fe 0.5px,#0007ff 5.5px,#0035ff 18.5px,#0041ff 26.5px,#0048ff 48.5px,#04f 92.5px)"></i>
<i style="background:linear-gradient(90deg,#0000fe 0.5px,#0007ff 5.5px,#0035ff 19.5px,#0040ff 27.5px,#0047ff 48.5px,#0043ff 92.5px)"></i>
<i style="background:linear-gradient(90deg,#0000fe 0.5px,#0006ff 5.5px,#0032ff 19.5px,#003eff 28.5px,#0046ff 48.5px,#0042ff 92.5px)"></i>
<i style="background:linear-gradient(90deg,#0000fe 0.5px,#0008ff 6.5px,#0030ff 19.5px,#003cff 28.5px,#04f 49.5px,#0041ff 92.5px)"></i>
<i style="background:linear-gradient(90deg,#0000fe 0.5px,#0008ff 6.5px,#0030ff 20.5px,#003bff 29.5px,#0043ff 49.5px,#003fff 92.5px)"></i>
<i style="background:linear-gradient(90deg,#0000fe 0.5px,#0007ff 6.5px,#002eff 20.5px,#003aff 30.5px,#0042ff 50.5px,#003eff 92.5px)"></i>
<i style="background:linear-gradient(90deg,#0000fd 0.5px,#00f 3.5px,#0006ff 6.5px,#002dff 21.5px,#0039ff 32.5px,#0041ff 51.5px,#003dff 92.5px)"></i>
<i style="background:linear-gradient(90deg,#0000fc 0.5px,#0005ff 6.5px,#002dff 22.5px,#0038ff 33.5px,#003fff 51.5px,#003cff 92.5px)"></i>
<i style="background:linear-gradient(90deg,#0000fc 0.5px,#0002ff 5.5px,#002cff 23.5px,#0038ff 35.5px,#003eff 53.5px,#003bff 92.5px)"></i>
<i style="background:linear-gradient(90deg,#0000fb 0.5px,#0001ff 5.5px,#002aff 23.5px,#0037ff 36.5px,#003dff 54.5px,#003aff 92.5px)"></i>
<i style="background:linear-gradient(90deg,#0000fa 0.5px,#00f 5.5px,#0027ff 22.5px,#0036ff 37.5px,#003cff 56.5px,#0038ff 92.5px)"></i>
<i style="background:linear-gradient(90deg,#0000fa 0.5px,#0001ff 6.5px,#0026ff 23.5px,#0035ff 38.5px,#003bff 60.5px,#0037ff 92.5px)"></i>
<i style="background:linear-gradient(90deg,#0000f9 0.5px,#00f 6.5px,#0024ff 23.5px,#0034ff 39.5px,#003aff 66.5px,#0036ff 92.5px)"></i>
<i style="background:linear-gradient(90deg,#0000f8 0.5px,#00f 7.5px,#0024ff 24.5px,#0032ff 39.5px,#0039ff 65.5px,#0035ff 92.5px)"></i>
<i style="background:linear-gradient(90deg,#0000f7 0.5px,#0001ff 8.5px,#02f 24.5px,#0031ff 40.5px,#0037ff 66.5px,#03f 92.5px)"></i>
<i style="background:linear-gradient(90deg,#0000f6 0.5px,#00f 8.5px,#02f 25.5px,#0030ff 40.5px,#0036ff 66.5px,#0032ff 92.5px)"></i>
<i style="background:linear-gradient(90deg,#0000f5 0.5px,#00f 9.5px,#0020ff 25.5px,#002fff 41.5px,#0035ff 66.5px,#0031ff 92.5px)"></i>
<i style="background:linear-gradient(90deg,#0000f4 0.5px,#0001ff 10.5px,#0020ff 26.5px,#002dff 41.5px,#0034ff 66.5px,#0030ff 92.5px)"></i>
<i style="background:linear-gradient(90deg,#0000f3 0.5px,#00f 10.5px,#001eff 26.5px,#002cff 42.5px,#03f 66.5px,#002eff 92.5px)"></i>
<i style="background:linear-gradient(90deg,#0000f2 0.5px,#00f 11.5px,#001eff 27.5px,#002aff 42.5px,#0032ff 66.5px,#002dff 92.5px)"></i>
<i style="background:linear-gradient(90deg,#0000f1 0.5px,#0001ff 12.5px,#001cff 27.5px,#0029ff 43.5px,#0030ff 66.5px,#002cff 92.5px)"></i>
<i style="background:linear-gradient(90deg,#0000f0 0.5px,#0000f4 6.5px,#0000fe 12.5px,#001cff 28.5px,#0028ff 44.5px,#002fff 66.5px,#002bff 92.5px)"></i>
<i style="background:linear-gradient(90deg,#0000ef 0.5px,#0000f3 6.5px,#00f 13.5px,#001cff 29.5px,#0029ff 48.5px,#002eff 68.5px,#0029ff 92.5px)"></i>
<i style="background:linear-gradient(90deg,#00e 0.5px,#0000f2 6.5px,#0001ff 14.5px,#001dff 31.5px,#0029ff 52.5px,#002dff 69.5px,#0028ff 92.5px)"></i>
<i style="background:linear-gradient(90deg,#0000ed 0.5px,#0000f1 6.5px,#0001ff 15.5px,#001bff 31.5px,#0029ff 54.5px,#002cff 70.5px,#0027ff 92.5px)"></i>
<i style="background:linear-gradient(90deg,#0000ec 0.5px,#0000f2 7.5px,#00f 15.5px,#001bff 32.5px,#0029ff 56.5px,#002bff 70.5px,#0026ff 92.5px)"></i>
<i style="background:linear-gradient(90deg,#0000eb 0.5px,#0000f1 7.5px,#0001ff 16.5px,#0019ff 32.5px,#0028ff 57.5px,#002aff 71.5px,#0025ff 92.5px)"></i>
<i style="background:linear-gradient(90deg,#0000ea 0.5px,#0000f0 7.5px,#0001ff 17.5px,#0019ff 33.5px,#0026ff 55.5px,#0029ff 70.5px,#0024ff 92.5px)"></i>
<i style="background:linear-gradient(90deg,#0000ea 0.5px,#0000ef 7.5px,#00f 17.5px,#0018ff 33.5px,#0025ff 55.5px,#0028ff 69.5px,#0023ff 92.5px)"></i>
<i style="background:linear-gradient(90deg,#0000e9 0.5px,#00e 7.5px,#0001ff 18.5px,#0016ff 33.5px,#0024ff 56.5px,#0027ff 70.5px,#02f 92.5px)"></i>
<i style="background:linear-gradient(90deg,#0000e8 0.5px,#0000ed 7.5px,#0001ff 19.5px,#0016ff 34.5px,#0024ff 57.5px,#0026ff 70.5px,#0021ff 92.5px)"></i>
<i style="background:linear-gradient(90deg,#0000e7 0.5px,#00e 8.5px,#00f 19.5px,#0014ff 34.5px,#0023ff 57.5px,#0025ff 70.5px,#0020ff 92.5px)"></i>
<i style="background:linear-gradient(90deg,#0000e7 0.5px,#0000ed 8.5px,#00f 20.5px,#0014ff 35.5px,#02f 57.5px,#0024ff 70.5px,#001fff 92.5px)"></i>
<i style="background:linear-gradient(90deg,#0000e6 0.5px,#0000ec 8.5px,#0001ff 21.5px,#0014ff 36.5px,#0021ff 57.5px,#0023ff 71.5px,#001eff 92.5px)"></i>
<i style="background:linear-gradient(90deg,#0000e6 0.5px,#0000ec 8.5px,#0001ff 22.5px,#0014ff 37.5px,#0020ff 57.5px,#02f 71.5px,#001eff 92.5px)"></i>
<i style="background:linear-gradient(90deg,#0000e5 0.5px,#0000ec 9.5px,#00f 22.5px,#0013ff 37.5px,#001fff 56.5px,#02f 70.5px,#001dff 92.5px)"></i>
<i style="background:linear-gradient(90deg,#0000e5 0.5px,#0000ec 9.5px,#00f 23.5px,#0013ff 39.5px,#001fff 56.5px,#0021ff 71.5px,#001cff 92.5px)"></i>
<i style="background:linear-gradient(90deg,#0000e5 0.5px,#0000eb 9.5px,#00f 24.5px,#0014ff 41.5px,#001eff 56.5px,#0020ff 71.5px,#001cff 92.5px)"></i>
<i style="background:linear-gradient(90deg,#0000e4 0.5px,#0000eb 9.5px,#0001ff 25.5px,#0015ff 42.5px,#001dff 55.5px,#0020ff 71.5px,#001bff 92.5px)"></i>
<i style="background:linear-gradient(90deg,#0000e4 0.5px,#0000ec 10.5px,#0001ff 26.5px,#0014ff 42.5px,#001dff 54.5px,#001fff 71.5px,#001bff 92.5px)"></i>
</div>
<div class="p" style="clip-path:polygon(0.80px 17.20px,2.91px 17.17px,5.03px 17.08px,7.14px 16.94px,9.25px 16.73px,11.37px 16.47px,13.48px 16.15px,15.59px 15.77px,17.71px 15.33px,19.82px 14.84px,21.93px 14.28px,24.05px 13.67px,26.16px 13.00px,28.27px 12.27px,30.39px 11.48px,32.50px 10.64px,34.61px 9.73px,36.73px 8.77px,38.84px 7.75px,40.96px 6.67px,43.07px 5.53px,45.18px 4.34px,47.30px 3.08px,49.41px 1.77px,51.52px 0.40px,93.30px 0.40px,93.30px 104.30px,0.80px 104.30px);left:396px;top:15px;width:94px">
<i style="background:linear-gradient(90deg,#ff5e00 0.5px,#ff6d00 2.5px,#ff9300 6.5px,#fffc00 16.5px,#f7ff08 17.5px,#af5 25.5px,#80ff7f 31.5px,#68ff97 36.5px,#41ffbe 47.5px,#00fdff 59.5px,#00cbff 68.5px,#00a9ff 76.5px,#008eff 85.5px,#0081ff 93.5px)"></i>
<i style="background:linear-gradient(90deg,#ff6900 0.5px,#ff7600 2.5px,#f90 6.5px,#fffe00 16.5px,#f6ff09 17.5px,#abff54 25.5px,#81ff7e 31.5px,#6aff95 36.5px,#41ffbe 47.5px,#02fffd 58.5px,#00c9ff 68.5px,#00a7ff 76.5px,#008eff 85.5px,#0081ff 93.5px)"></i>
<i style="background:linear-gradient(90deg,#ff7100 0.5px,#ff7d00 2.5px,#ff9e00 6.5px,#fffe00 16.5px,#f6ff09 17.5px,#b4ff4b 24.5px,#8f7 30.5px,#6eff91 35.5px,#40ffbf 47.5px,#0ff 58.5px,#0cf 67.5px,#0af 75.5px,#008fff 84.5px,#0081ff 93.5px)"></i>
<i style="background:linear-gradient(90deg,#ff7800 0.5px,#ff8300 2.5px,#ffa100 6.5px,#ff0 16.5px,#f5ff0a 17.5px,#adff52 25.5px,#83ff7c 31.5px,#6fff90 35.5px,#3effc1 47.5px,#00fcff 58.5px,#00cfff 66.5px,#00a8ff 75.5px,#008fff 84.5px,#0081ff 93.5px)"></i>
<i style="background:linear-gradient(90deg,#ff7e00 0.5px,#ff8e00 3.5px,#ffac00 7.5px,#ff0 16.5px,#f6ff09 17.5px,#b6ff49 24.5px,#89ff76 30.5px,#6fff90 35.5px,#3dffc2 47.5px,#01fffe 57.5px,#0cf 66.5px,#00a7ff 75.5px,#008eff 84.5px,#0081ff 93.5px)"></i>
<i style="background:linear-gradient(90deg,#ff8200 0.5px,#ff9100 3.5px,#ffad00 7.5px,#fffe00 16.5px,#b6ff49 24.5px,#89ff76 30.5px,#6eff91 35.5px,#3affc5 47.5px,#05fffa 56.5px,#00fdff 57.5px,#00c5ff 67.5px,#00a5ff 75.5px,#008dff 84.5px,#0080ff 93.5px)"></i>
<i style="background:linear-gradient(90deg,#ff8500 0.5px,#ff9300 3.5px,#ffae00 7.5px,#fffe00 16.5px,#b7ff48 24.5px,#89ff76 30.5px,#6dff92 35.5px,#38ffc7 47.5px,#02fffd 56.5px,#00c7ff 66.5px,#00a6ff 74.5px,#008eff 83.5px,#007fff 93.5px)"></i>
<i style="background:linear-gradient(90deg,#f80 0.5px,#ff9400 3.5px,#ffa600 6.5px,#ffc600 10.5px,#fffd00 16.5px,#f8ff07 17.5px,#aeff51 25.5px,#82ff7d 31.5px,#67ff98 36.5px,#35ffca 47.5px,#05fffa 55.5px,#00feff 56.5px,#00c5ff 66.5px,#00a5ff 74.5px,#008cff 83.5px,#007eff 93.5px)"></i>
<i style="background:linear-gradient(90deg,#ff8900 0.5px,#ff9500 3.5px,#ffa600 6.5px,#ffc500 10.5px,#fffc00 16.5px,#f8ff07 17.5px,#aeff51 25.5px,#81ff7e 31.5px,#65ff9a 36.5px,#31ffce 47.5px,#02fffd 55.5px,#00c7ff 65.5px,#00a6ff 73.5px,#008bff 83.5px,#007dff 93.5px)"></i>
<i style="background:linear-gradient(90deg,#ff8b00 0.5px,#ff9500 3.5px,#ffad00 7.5px,#ffcd00 11.5px,#fffc00 16.5px,#f9ff06 17.5px,#adff52 25.5px,#7fff80 31.5px,#62ff9d 36.5px,#2effd1 47.5px,#04fffb 54.5px,#00fdff 55.5px,#00c4ff 65.5px,#00a4ff 73.5px,#008aff 83.5px,#007cff 93.5px)"></i>
<i style="background:linear-gradient(90deg,#ff8b00 0.5px,#ff9400 3.5px,#ffac00 7.5px,#fc0 11.5px,#fffb00 16.5px,#f9ff06 17.5px,#acff53 25.5px,#7dff82 31.5px,#60ff9f 36.5px,#2affd5 47.5px,#01fffe 54.5px,#00c6ff 64.5px,#00a5ff 72.5px,#008aff 82.5px,#007bff 93.5px)"></i>
<i style="background:linear-gradient(90deg,#ff8900 0.5px,#ff9200 3.5px,#ffa300 6.5px,#ffc200 10.5px,#fffc00 16.5px,#f8ff07 17.5px,#af5 25.5px,#7aff85 31.5px,#5cffa3 36.5px,#2bffd4 46.5px,#03fffc 53.5px,#00fcff 54.5px,#00c3ff 64.5px,#00a3ff 72.5px,#08f 82.5px,#007aff 93.5px)"></i>
<i style="background:linear-gradient(90deg,#ff8500 0.5px,#ff8e00 3.5px,#ff9f00 6.5px,#ffc000 10.5px,#fffc00 16.5px,#f7ff08 17.5px,#a8ff57 25.5px,#7f8 31.5px,#58ffa7 36.5px,#04fffb 52.5px,#00feff 53.5px,#00c0ff 64.5px,#00a0ff 72.5px,#0087ff 82.5px,#0079ff 93.5px)"></i>
<i style="background:linear-gradient(90deg,#ff7c00 0.5px,#ff8500 3.5px,#ff9800 6.5px,#ffbd00 10.5px,#fffd00 16.5px,#a5ff5a 25.5px,#73ff8c 31.5px,#54ffab 36.5px,#06fff9 51.5px,#0ff 52.5px,#00bdff 64.5px,#009eff 72.5px,#0085ff 82.5px,#07f 93.5px)"></i>
<i style="background:linear-gradient(90deg,#ff7000 0.5px,#ff7400 2.5px,#ff8700 5.5px,#ffae00 9.5px,#ff0 16.5px,#f4ff0b 17.5px,#af5 24.5px,#6fff90 31.5px,#49ffb6 37.5px,#01fffe 51.5px,#00c3ff 62.5px,#009fff 71.5px,#0083ff 82.5px,#0076ff 93.5px)"></i>
<i style="background:linear-gradient(90deg,#ff6300 0.5px,#ff6800 2.5px,#ff7d00 5.5px,#ff9d00 8.5px,#fff500 15.5px,#fdff02 16.5px,#a6ff59 24.5px,#6aff95 31.5px,#4fb 37.5px,#01fffe 50.5px,#00c0ff 62.5px,#009dff 71.5px,#0081ff 82.5px,#0074ff 93.5px)"></i>
<i style="background:linear-gradient(90deg,#ff5e00 0.5px,#ff6200 2.5px,#ff7900 5.5px,#ff9c00 8.5px,#fffa00 15.5px,#f8ff07 16.5px,#caff35 20.5px,#a0ff5f 24.5px,#64ff9b 31.5px,#3effc1 37.5px,#01fffe 49.5px,#00bdff 62.5px,#009aff 71.5px,#007fff 82.5px,#0073ff 93.5px)"></i>
<i style="background:linear-gradient(90deg,#ff6400 0.5px,#ff6900 2.5px,#ff8000 5.5px,#ff9600 7.5px,#fdff02 15.5px,#ceff31 19.5px,#a4ff5b 23.5px,#65ff9a 30.5px,#38ffc7 37.5px,#01fffe 48.5px,#00beff 61.5px,#009bff 70.5px,#007fff 81.5px,#0071ff 93.5px)"></i>
<i style="background:linear-gradient(90deg,#ff7900 0.5px,#ff7d00 2.5px,#ff9200 5.5px,#ffb200 8.5px,#fffe00 14.5px,#a6ff59 22.5px,#6f9 29.5px,#37ffc8 36.5px,#05fffa 46.5px,#0ff 47.5px,#00b6ff 62.5px,#0095ff 71.5px,#007bff 82.5px,#006fff 93.5px)"></i>
<i style="background:linear-gradient(90deg,#ff9700 0.5px,#ff9a00 2.5px,#ffac00 5.5px,#ffc800 8.5px,#feff01 13.5px,#9dff62 22.5px,#5fffa0 29.5px,#30ffcf 36.5px,#00fdff 46.5px,#00b6ff 61.5px,#0095ff 70.5px,#007bff 81.5px,#006eff 93.5px)"></i>
<i style="background:linear-gradient(90deg,#ffb700 0.5px,#ffba00 2.5px,#ffc800 5.5px,#ffdf00 8.5px,#fffc00 11.5px,#f8ff07 12.5px,#8aff75 23.5px,#56ffa9 29.5px,#28ffd7 36.5px,#01fffe 44.5px,#00b7ff 60.5px,#0093ff 70.5px,#0079ff 81.5px,#006cff 93.5px)"></i>
<i style="background:linear-gradient(90deg,#ffd500 0.5px,#ffde00 4.5px,#fffe00 9.5px,#e7ff18 12.5px,#76ff89 24.5px,#4effb1 29.5px,#21ffde 36.5px,#00fdff 43.5px,#00b7ff 59.5px,#0093ff 69.5px,#07f 81.5px,#006aff 93.5px)"></i>
<i style="background:linear-gradient(90deg,#ffef00 0.5px,#fff400 3.5px,#feff01 6.5px,#f3ff0c 8.5px,#cdff32 13.5px,#6cff93 24.5px,#4fb 29.5px,#1effe1 35.5px,#0ff 41.5px,#00b3ff 59.5px,#0091ff 69.5px,#0075ff 81.5px,#0068ff 93.5px)"></i>
<i style="background:linear-gradient(90deg,#f8ff07 0.5px,#f2ff0d 4.5px,#d9ff26 9.5px,#b5ff4a 14.5px,#42ffbd 28.5px,#21ffde 33.5px,#01fffe 39.5px,#00b2ff 58.5px,#008eff 69.5px,#0073ff 81.5px,#0067ff 93.5px)"></i>
<i style="background:linear-gradient(90deg,#e3ff1c 0.5px,#df2 4.5px,#c7ff38 9.5px,#a5ff5a 14.5px,#37ffc8 28.5px,#12ffed 34.5px,#00fdff 38.5px,#00b5ff 56.5px,#008eff 68.5px,#0071ff 81.5px,#0065ff 93.5px)"></i>
<i style="background:linear-gradient(90deg,#cfff30 0.5px,#c7ff38 5.5px,#afff50 10.5px,#95ff6a 14.5px,#2dffd2 28.5px,#00feff 36.5px,#00bfff 52.5px,#008bff 68.5px,#006fff 81.5px,#0063ff 93.5px)"></i>
<i style="background:linear-gradient(90deg,#bf4 0.5px,#b3ff4c 5.5px,#9dff62 10.5px,#7eff81 15.5px,#29ffd6 27.5px,#0ff 34.5px,#00caff 47.5px,#008bff 67.5px,#006dff 81.5px,#0062ff 93.5px)"></i>
<i style="background:linear-gradient(90deg,#a8ff57 0.5px,#a0ff5f 5.5px,#8bff74 10.5px,#6eff91 15.5px,#24ffdb 26.5px,#01fffe 32.5px,#00cbff 45.5px,#008bff 66.5px,#006dff 80.5px,#0060ff 93.5px)"></i>
<i style="background:linear-gradient(90deg,#94ff6b 0.5px,#8dff72 5.5px,#79ff86 10.5px,#5effa1 15.5px,#13ffec 27.5px,#02fffd 30.5px,#00fcff 31.5px,#00e0ff 37.5px,#00c7ff 44.5px,#008aff 65.5px,#006bff 80.5px,#005eff 93.5px)"></i>
<i style="background:linear-gradient(90deg,#81ff7e 0.5px,#7aff85 5.5px,#68ff97 10.5px,#4effb1 15.5px,#08fff7 27.5px,#00fcff 29.5px,#00e0ff 35.5px,#00c6ff 42.5px,#0091ff 61.5px,#006bff 79.5px,#0061ff 86.5px,#005dff 93.5px)"></i>
<i style="background:linear-gradient(90deg,#6eff91 0.5px,#67ff98 5.5px,#57ffa8 10.5px,#02fffd 26.5px,#00fcff 27.5px,#00e0ff 33.5px,#00c9ff 39.5px,#009cff 55.5px,#006aff 78.5px,#0060ff 86.5px,#005bff 93.5px)"></i>
<i style="background:linear-gradient(90deg,#5cffa3 0.5px,#58ffa7 4.5px,#4affb5 9.5px,#30ffcf 15.5px,#02fffd 24.5px,#00fcff 25.5px,#00c8ff 37.5px,#00a1ff 51.5px,#006aff 77.5px,#005fff 85.5px,#005aff 93.5px)"></i>
<i style="background:linear-gradient(90deg,#4affb5 0.5px,#46ffb9 4.5px,#39ffc6 9.5px,#0ff 22.5px,#00c7ff 35.5px,#00a2ff 48.5px,#0068ff 77.5px,#005dff 86.5px,#0059ff 93.5px)"></i>
<i style="background:linear-gradient(90deg,#39ffc6 0.5px,#36ffc9 4.5px,#2dffd2 8.5px,#00fdff 20.5px,#00c3ff 34.5px,#009fff 47.5px,#0067ff 77.5px,#005bff 86.5px,#0058ff 93.5px)"></i>
<i style="background:linear-gradient(90deg,#29ffd6 0.5px,#20ffdf 7.5px,#00feff 17.5px,#00c2ff 32.5px,#009eff 45.5px,#0064ff 78.5px,#005aff 86.5px,#0057ff 93.5px)"></i>
<i style="background:linear-gradient(90deg,#1affe5 0.5px,#13ffec 6.5px,#01fffe 13.5px,#0bf 32.5px,#0098ff 45.5px,#0062ff 78.5px,#0056ff 93.5px)"></i>
<i style="background:linear-gradient(90deg,#0bfff4 0.5px,#00feff 9.5px,#00b0ff 33.5px,#0091ff 46.5px,#005fff 79.5px,#05f 93.5px)"></i>
<i style="background:linear-gradient(90deg,#00f9ff 0.5px,#00f6ff 6.5px,#00ecff 11.5px,#00a9ff 33.5px,#008cff 46.5px,#005dff 80.5px,#0054ff 93.5px)"></i>
<i style="background:linear-gradient(90deg,#00e4ff 0.5px,#00e7ff 6.5px,#00e2ff 10.5px,#00a0ff 34.5px,#0086ff 47.5px,#005cff 80.5px,#0053ff 93.5px)"></i>
<i style="background:linear-gradient(90deg,#00c2ff 0.5px,#00c5ff 2.5px,#00d7ff 7.5px,#00d6ff 10.5px,#0098ff 35.5px,#0084ff 45.5px,#005aff 80.5px,#0052ff 93.5px)"></i>
<i style="background:linear-gradient(90deg,#009aff 0.5px,#009fff 2.5px,#00c6ff 7.5px,#00cbff 10.5px,#00c0ff 16.5px,#0090ff 36.5px,#0080ff 45.5px,#0058ff 81.5px,#0052ff 93.5px)"></i>
<i style="background:linear-gradient(90deg,#007cff 0.5px,#007dff 1.5px,#0083ff 2.5px,#00a6ff 5.5px,#00b8ff 7.5px,#00bfff 9.5px,#00c0ff 11.5px,#008bff 36.5px,#007cff 45.5px,#0058ff 81.5px,#0051ff 93.5px)"></i>
<i style="background:linear-gradient(90deg,#006aff 0.5px,#006bff 1.5px,#0072ff 2.5px,#0098ff 5.5px,#00acff 7.5px,#00b5ff 9.5px,#00b6ff 11.5px,#0084ff 37.5px,#07f 46.5px,#0057ff 81.5px,#0051ff 93.5px)"></i>
<i style="background:linear-gradient(90deg,#005aff 0.5px,#005cff 1.5px,#0063ff 2.5px,#008cff 5.5px,#00a2ff 7.5px,#00abff 9.5px,#00adff 11.5px,#0073ff 46.5px,#05f 82.5px,#0050ff 93.5px)"></i>
<i style="background:linear-gradient(90deg,#004dff 0.5px,#004fff 1.5px,#0057ff 2.5px,#0081ff 5.5px,#0098ff 7.5px,#00a2ff 9.5px,#00a4ff 11.5px,#0070ff 46.5px,#0054ff 82.5px,#0050ff 93.5px)"></i>
<i style="background:linear-gradient(90deg,#0042ff 0.5px,#0043ff 1.5px,#004bff 2.5px,#0082ff 6.5px,#008dff 7.5px,#09f 9.5px,#009cff 11.5px,#006dff 46.5px,#0054ff 82.5px,#0050ff 93.5px)"></i>
<i style="background:linear-gradient(90deg,#0038ff 0.5px,#0039ff 1.5px,#0040ff 2.5px,#0075ff 6.5px,#08f 8.5px,#0091ff 10.5px,#0093ff 12.5px,#006aff 46.5px,#004fff 93.5px)"></i>
<i style="background:linear-gradient(90deg,#002eff 0.5px,#0036ff 2.5px,#0068ff 6.5px,#007dff 8.5px,#08f 10.5px,#008bff 12.5px,#0089ff 17.5px,#06f 47.5px,#004fff 93.5px)"></i>
<i style="background:linear-gradient(90deg,#0026ff 0.5px,#002cff 2.5px,#0068ff 7.5px,#0079ff 9.5px,#0081ff 11.5px,#0084ff 13.5px,#0063ff 47.5px,#004eff 93.5px)"></i>
<i style="background:linear-gradient(90deg,#001dff 0.5px,#001fff 1.5px,#002cff 3.5px,#005cff 7.5px,#006eff 9.5px,#0079ff 11.5px,#007dff 14.5px,#0061ff 47.5px,#004eff 93.5px)"></i>
<i style="background:linear-gradient(90deg,#0016ff 0.5px,#0017ff 1.5px,#0024ff 3.5px,#0052ff 7.5px,#0065ff 9.5px,#0070ff 11.5px,#07f 14.5px,#0076ff 19.5px,#005eff 48.5px,#004eff 93.5px)"></i>
<i style="background:linear-gradient(90deg,#000fff 0.5px,#0010ff 1.5px,#001cff 3.5px,#0052ff 8.5px,#0062ff 10.5px,#006cff 12.5px,#0071ff 15.5px,#005cff 48.5px,#004dff 93.5px)"></i>
<i style="background:linear-gradient(90deg,#0009ff 0.5px,#000aff 1.5px,#0015ff 3.5px,#0049ff 8.5px,#005aff 10.5px,#0064ff 12.5px,#006bff 15.5px,#006bff 21.5px,#0059ff 49.5px,#004dff 93.5px)"></i>
<i style="background:linear-gradient(90deg,#0004ff 0.5px,#0005ff 1.5px,#000fff 3.5px,#0041ff 8.5px,#0058ff 11.5px,#0061ff 13.5px,#06f 16.5px,#0058ff 49.5px,#004cff 93.5px)"></i>
<i style="background:linear-gradient(90deg,#00f 0.5px,#0001ff 1.5px,#000aff 3.5px,#0042ff 9.5px,#0051ff 11.5px,#005eff 14.5px,#0062ff 17.5px,#0056ff 50.5px,#004bff 93.5px)"></i>
<i style="background:linear-gradient(90deg,#0000fc 0.5px,#0001ff 2.5px,#0006ff 3.5px,#003cff 9.5px,#0050ff 12.5px,#0058ff 14.5px,#005eff 17.5px,#004bff 93.5px)"></i>
<i style="background:linear-gradient(90deg,#0000fa 0.5px,#0003ff 3.5px,#0036ff 9.5px,#004aff 12.5px,#05f 15.5px,#005aff 18.5px,#004aff 93.5px)"></i>
<i style="background:linear-gradient(90deg,#0000f9 0.5px,#0001ff 3.5px,#0045ff 12.5px,#0051ff 15.5px,#0056ff 18.5px,#004aff 93.5px)"></i>
<i style="background:linear-gradient(90deg,#0000f8 0.5px,#00f 3.5px,#0040ff 12.5px,#004cff 15.5px,#0053ff 19.5px,#0049ff 93.5px)"></i>
<i style="background:linear-gradient(90deg,#0000f7 0.5px,#0000fe 3.5px,#0004ff 4.5px,#002fff 10.5px,#0040ff 13.5px,#004aff 16.5px,#0050ff 20.5px,#0048ff 93.5px)"></i>
<i style="background:linear-gradient(90deg,#0000f7 0.5px,#0002ff 4.5px,#003cff 13.5px,#0046ff 16.5px,#004dff 20.5px,#004dff 47.5px,#0047ff 93.5px)"></i>
<i style="background:linear-gradient(90deg,#0000f7 0.5px,#0002ff 4.5px,#002dff 11.5px,#003cff 14.5px,#0045ff 17.5px,#004bff 21.5px,#004cff 48.5px,#0046ff 93.5px)"></i>
<i style="background:linear-gradient(90deg,#0000f7 0.5px,#0001ff 4.5px,#0038ff 14.5px,#0042ff 17.5px,#0048ff 21.5px,#004bff 48.5px,#0045ff 93.5px)"></i>
<i style="background:linear-gradient(90deg,#0000f8 0.5px,#0001ff 4.5px,#0035ff 14.5px,#0041ff 18.5px,#0046ff 22.5px,#004aff 48.5px,#0045ff 93.5px)"></i>
<i style="background:linear-gradient(90deg,#0000f8 0.5px,#0001ff 4.5px,#0032ff 14.5px,#003eff 18.5px,#0043ff 22.5px,#0048ff 48.5px,#04f 93.5px)"></i>
<i style="background:linear-gradient(90deg,#0000f9 0.5px,#0001ff 4.5px,#0032ff 15.5px,#003dff 19.5px,#0041ff 23.5px,#0047ff 49.5px,#0043ff 93.5px)"></i>
<i style="background:linear-gradient(90deg,#0000f9 0.5px,#0001ff 4.5px,#0030ff 15.5px,#003aff 19.5px,#003fff 23.5px,#0046ff 49.5px,#0042ff 93.5px)"></i>
<i style="background:linear-gradient(90deg,#0000fa 0.5px,#0001ff 4.5px,#0030ff 16.5px,#003dff 24.5px,#0045ff 49.5px,#0041ff 93.5px)"></i>
<i style="background:linear-gradient(90deg,#0000fa 0.5px,#00f 4.5px,#002dff 16.5px,#0036ff 20.5px,#003cff 25.5px,#04f 50.5px,#0040ff 93.5px)"></i>
<i style="background:linear-gradient(90deg,#0000fa 0.5px,#00f 4.5px,#002bff 16.5px,#0034ff 20.5px,#0039ff 25.5px,#0042ff 50.5px,#003eff 93.5px)"></i>
<i style="background:linear-gradient(90deg,#0000fa 0.5px,#00f 4.5px,#002bff 17.5px,#0038ff 26.5px,#0041ff 50.5px,#003dff 93.5px)"></i>
<i style="background:linear-gradient(90deg,#0000fa 0.5px,#0002ff 5.5px,#0029ff 17.5px,#0037ff 27.5px,#0040ff 51.5px,#003cff 93.5px)"></i>
<i style="background:linear-gradient(90deg,#0000fa 0.5px,#0001ff 5.5px,#0029ff 18.5px,#0035ff 28.5px,#003fff 51.5px,#003bff 93.5px)"></i>
<i style="background:linear-gradient(90deg,#0000fa 0.5px,#0001ff 5.5px,#0026ff 18.5px,#0034ff 29.5px,#003dff 52.5px,#003aff 93.5px)"></i>
<i style="background:linear-gradient(90deg,#0000fa 0.5px,#00f 5.5px,#0026ff 19.5px,#03f 30.5px,#003cff 53.5px,#003cff 78.5px,#0039ff 93.5px)"></i>
<i style="background:linear-gradient(90deg,#0000f9 0.5px,#00f 5.5px,#0026ff 20.5px,#0032ff 32.5px,#003bff 55.5px,#0037ff 93.5px)"></i>
<i style="background:linear-gradient(90deg,#0000f9 0.5px,#0001ff 6.5px,#0026ff 21.5px,#0032ff 34.5px,#003aff 58.5px,#0036ff 93.5px)"></i>
<i style="background:linear-gradient(90deg,#0000f9 0.5px,#00f 6.5px,#0024ff 21.5px,#0031ff 35.5px,#0039ff 62.5px,#0035ff 93.5px)"></i>
<i style="background:linear-gradient(90deg,#0000f9 0.5px,#00f 6.5px,#0023ff 22.5px,#0030ff 36.5px,#0038ff 64.5px,#0034ff 93.5px)"></i>
<i style="background:linear-gradient(90deg,#0000f8 0.5px,#0001ff 7.5px,#0021ff 22.5px,#002fff 37.5px,#0037ff 65.5px,#0032ff 93.5px)"></i>
<i style="background:linear-gradient(90deg,#0000f8 0.5px,#00f 7.5px,#0021ff 23.5px,#002eff 38.5px,#0036ff 66.5px,#0031ff 93.5px)"></i>
<i style="background:linear-gradient(90deg,#0000f7 0.5px,#0001ff 8.5px,#001fff 23.5px,#002cff 38.5px,#0034ff 66.5px,#0030ff 93.5px)"></i>
<i style="background:linear-gradient(90deg,#0000f7 0.5px,#00f 8.5px,#001fff 24.5px,#002bff 39.5px,#03f 66.5px,#002fff 93.5px)"></i>
<i style="background:linear-gradient(90deg,#0000f7 0.5px,#0000fe 8.5px,#001dff 24.5px,#002aff 39.5px,#0032ff 66.5px,#002dff 93.5px)"></i>
<i style="background:linear-gradient(90deg,#0000f6 0.5px,#00f 9.5px,#001dff 25.5px,#0029ff 40.5px,#0031ff 66.5px,#002cff 93.5px)"></i>
<i style="background:linear-gradient(90deg,#0000f6 0.5px,#00f 9.5px,#001bff 25.5px,#0027ff 40.5px,#0030ff 66.5px,#002bff 93.5px)"></i>
<i style="background:linear-gradient(90deg,#0000f5 0.5px,#00f 10.5px,#001bff 26.5px,#0026ff 41.5px,#002fff 66.5px,#002aff 93.5px)"></i>
<i style="background:linear-gradient(90deg,#0000f5 0.5px,#00f 10.5px,#001bff 27.5px,#0025ff 42.5px,#002eff 66.5px,#0029ff 93.5px)"></i>
<i style="background:linear-gradient(90deg,#0000f4 0.5px,#00f 11.5px,#001dff 30.5px,#0029ff 53.5px,#002cff 70.5px,#0027ff 93.5px)"></i>
<i style="background:linear-gradient(90deg,#0000f4 0.5px,#0001ff 12.5px,#001bff 30.5px,#0028ff 55.5px,#002bff 70.5px,#0026ff 93.5px)"></i>
<i style="background:linear-gradient(90deg,#0000f4 0.5px,#00f 12.5px,#001bff 31.5px,#0028ff 57.5px,#002aff 71.5px,#0025ff 93.5px)"></i>
<i style="background:linear-gradient(90deg,#0000f3 0.5px,#0001ff 13.5px,#0019ff 31.5px,#0027ff 57.5px,#0029ff 71.5px,#0024ff 93.5px)"></i>
<i style="background:linear-gradient(90deg,#0000f3 0.5px,#00f 13.5px,#0018ff 31.5px,#0026ff 58.5px,#0028ff 71.5px,#0023ff 93.5px)"></i>
<i style="background:linear-gradient(90deg,#0000f3 0.5px,#0001ff 14.5px,#0018ff 32.5px,#0026ff 59.5px,#0027ff 72.5px,#02f 93.5px)"></i>
<i style="background:linear-gradient(90deg,#0000f2 0.5px,#00f 14.5px,#0016ff 32.5px,#0025ff 59.5px,#0026ff 72.5px,#0021ff 93.5px)"></i>
<i style="background:linear-gradient(90deg,#0000f2 0.5px,#0001ff 15.5px,#0016ff 33.5px,#0024ff 59.5px,#0025ff 72.5px,#0020ff 93.5px)"></i>
<i style="background:linear-gradient(90deg,#0000f2 0.5px,#00f 15.5px,#0015ff 33.5px,#0023ff 59.5px,#0024ff 72.5px,#001fff 93.5px)"></i>
<i style="background:linear-gradient(90deg,#0000f2 0.5px,#0001ff 16.5px,#0014ff 34.5px,#02f 60.5px,#001eff 93.5px)"></i>
<i style="background:linear-gradient(90deg,#0000f2 0.5px,#00f 16.5px,#0014ff 35.5px,#02f 60.5px,#001eff 93.5px)"></i>
<i style="background:linear-gradient(90deg,#0000f2 0.5px,#0001ff 17.5px,#0014ff 36.5px,#0021ff 59.5px,#02f 72.5px,#001dff 93.5px)"></i>
<i style="background:linear-gradient(90deg,#0000f2 0.5px,#00f 17.5px,#0014ff 38.5px,#0020ff 59.5px,#0021ff 73.5px,#001cff 93.5px)"></i>
<i style="background:linear-gradient(90deg,#0000f2 0.5px,#00f 17.5px,#0016ff 41.5px,#001fff 59.5px,#0020ff 73.5px,#001cff 93.5px)"></i>
<i style="background:linear-gradient(90deg,#0000f2 0.5px,#00f 18.5px,#0017ff 43.5px,#001eff 58.5px,#0020ff 73.5px,#001bff 93.5px)"></i>
<i style="background:linear-gradient(90deg,#0000f3 0.5px,#00f 19.5px,#0017ff 44.5px,#001eff 57.5px,#001fff 73.5px,#001bff 93.5px)"></i>
<i style="background:linear-gradient(90deg,#0000f3 0.5px,#00f 19.5px,#0018ff 45.5px,#001eff 57.5px,#001fff 74.5px,#001aff 93.5px)"></i>
</div>
<div class="p" style="clip-path:polygon(0.70px 20.30px,3.12px 20.27px,5.54px 20.16px,7.97px 19.99px,10.39px 19.75px,12.81px 19.44px,15.23px 19.06px,17.65px 18.61px,20.08px 18.09px,22.50px 17.50px,24.92px 16.85px,27.34px 16.12px,29.76px 15.32px,32.18px 14.46px,34.61px 13.53px,37.03px 12.53px,39.45px 11.46px,41.87px 10.32px,44.29px 9.11px,46.72px 7.83px,49.14px 6.48px,51.56px 5.06px,53.98px 3.58px,56.40px 2.02px,58.83px 0.40px,90.90px 0.40px,90.90px 104.50px,0.70px 104.50px);left:583px;top:15px;width:91px">
<i style="background:linear-gradient(90deg,#ff7b00 0.5px,#ffa300 5.5px,#fff900 14.5px,#fbff04 15.5px,#9eff61 25.5px,#7fff80 29.5px,#6f9 33.5px,#4cffb3 39.5px,#27ffd8 51.5px,#03fffc 59.5px,#00fdff 60.5px,#00d0ff 69.5px,#00adff 77.5px,#0094ff 84.5px,#0084ff 90.5px)"></i>
<i style="background:linear-gradient(90deg,#ff7600 0.5px,#ffa600 6.5px,#fffe00 15.5px,#f6ff09 16.5px,#a1ff5e 25.5px,#82ff7d 29.5px,#68ff97 33.5px,#4dffb2 39.5px,#27ffd8 51.5px,#03fffc 59.5px,#00fdff 60.5px,#00cfff 69.5px,#00b0ff 76.5px,#0097ff 83.5px,#0084ff 90.5px)"></i>
<i style="background:linear-gradient(90deg,#ff7d00 0.5px,#fa0 6.5px,#ff0 15.5px,#f6ff09 16.5px,#9aff65 26.5px,#6aff95 33.5px,#4fffb0 39.5px,#27ffd8 51.5px,#02fffd 59.5px,#00afff 76.5px,#0096ff 83.5px,#0083ff 90.5px)"></i>
<i style="background:linear-gradient(90deg,#ff8300 0.5px,#ffad00 6.5px,#fffe00 15.5px,#a4ff5b 25.5px,#85ff7a 29.5px,#6cff93 33.5px,#50ffaf 39.5px,#27ffd8 51.5px,#01fffe 59.5px,#00d1ff 68.5px,#00b1ff 75.5px,#0095ff 83.5px,#0083ff 90.5px)"></i>
<i style="background:linear-gradient(90deg,#ff8700 0.5px,#ffaf00 6.5px,#fffe00 15.5px,#9eff61 26.5px,#6dff92 33.5px,#51ffae 39.5px,#26ffd9 51.5px,#04fffb 58.5px,#00feff 59.5px,#00cfff 68.5px,#00acff 76.5px,#0094ff 83.5px,#0082ff 90.5px)"></i>
<i style="background:linear-gradient(90deg,#ff8b00 0.5px,#ffaf00 6.5px,#fffc00 15.5px,#f8ff07 16.5px,#9fff60 26.5px,#6eff91 33.5px,#51ffae 39.5px,#25ffda 51.5px,#03fffc 58.5px,#00c8ff 69.5px,#00aeff 75.5px,#0096ff 82.5px,#0081ff 90.5px)"></i>
<i style="background:linear-gradient(90deg,#ff8d00 0.5px,#ffaf00 6.5px,#fffb00 15.5px,#faff05 16.5px,#a1ff5e 26.5px,#6fff90 33.5px,#51ffae 39.5px,#24ffdb 51.5px,#01fffe 58.5px,#00cfff 67.5px,#00b0ff 74.5px,#0094ff 82.5px,#0081ff 90.5px)"></i>
<i style="background:linear-gradient(90deg,#ff8e00 0.5px,#ff9c00 3.5px,#ffae00 6.5px,#ffcd00 10.5px,#fff900 15.5px,#fcff03 16.5px,#a2ff5d 26.5px,#70ff8f 33.5px,#5fa 38.5px,#26ffd9 50.5px,#04fffb 57.5px,#00fdff 58.5px,#00c8ff 68.5px,#0af 75.5px,#0093ff 82.5px,#0080ff 90.5px)"></i>
<i style="background:linear-gradient(90deg,#ff8f00 0.5px,#ff9b00 3.5px,#ffb400 7.5px,#feff01 16.5px,#a3ff5c 26.5px,#70ff8f 33.5px,#5fa 38.5px,#24ffdb 50.5px,#01fffe 57.5px,#00cbff 67.5px,#00acff 74.5px,#0091ff 82.5px,#007fff 90.5px)"></i>
<i style="background:linear-gradient(90deg,#ff8e00 0.5px,#ff9a00 3.5px,#ffb200 7.5px,#ffd000 11.5px,#fffd00 16.5px,#a4ff5b 26.5px,#70ff8f 33.5px,#4fffb0 39.5px,#2fd 50.5px,#04fffb 56.5px,#00feff 57.5px,#00c8ff 67.5px,#0af 74.5px,#0090ff 82.5px,#007eff 90.5px)"></i>
<i style="background:linear-gradient(90deg,#ff8e00 0.5px,#ff9800 3.5px,#ffaf00 7.5px,#ffce00 11.5px,#fffb00 16.5px,#f9ff06 17.5px,#a5ff5a 26.5px,#6fff90 33.5px,#4effb1 39.5px,#1fffe0 50.5px,#01fffe 56.5px,#00c6ff 67.5px,#00acff 73.5px,#0091ff 81.5px,#007cff 90.5px)"></i>
<i style="background:linear-gradient(90deg,#ff8d00 0.5px,#ff9600 3.5px,#ffad00 7.5px,#ffcb00 11.5px,#fff900 16.5px,#fbff04 17.5px,#9dff62 27.5px,#68ff97 34.5px,#48ffb7 40.5px,#03fffc 55.5px,#00fdff 56.5px,#00c8ff 66.5px,#00a9ff 73.5px,#008fff 81.5px,#007bff 90.5px)"></i>
<i style="background:linear-gradient(90deg,#ff8b00 0.5px,#ff9400 3.5px,#fa0 7.5px,#ffc900 11.5px,#fdff02 17.5px,#9dff62 27.5px,#67ff98 34.5px,#45ffba 40.5px,#0ff 55.5px,#00c5ff 66.5px,#00a7ff 73.5px,#008dff 81.5px,#007aff 90.5px)"></i>
<i style="background:linear-gradient(90deg,#ff8900 0.5px,#ff9100 3.5px,#ffa700 7.5px,#ffc600 11.5px,#feff01 17.5px,#9cff63 27.5px,#65ff9a 34.5px,#43ffbc 40.5px,#02fffd 54.5px,#00c2ff 66.5px,#00a5ff 73.5px,#008cff 81.5px,#0079ff 90.5px)"></i>
<i style="background:linear-gradient(90deg,#ff8400 0.5px,#ff8c00 3.5px,#ffa300 7.5px,#ffc400 11.5px,#ff0 17.5px,#9bff64 27.5px,#63ff9c 34.5px,#40ffbf 40.5px,#03fffc 53.5px,#00fdff 54.5px,#0bf 67.5px,#00a2ff 73.5px,#008aff 81.5px,#07f 90.5px)"></i>
<i style="background:linear-gradient(90deg,#ff7c00 0.5px,#ff8400 3.5px,#ff9d00 7.5px,#ffc000 11.5px,#fffe00 17.5px,#a3ff5c 26.5px,#67ff98 33.5px,#3cffc3 40.5px,#04fffb 52.5px,#00feff 53.5px,#00c1ff 65.5px,#00a0ff 73.5px,#08f 81.5px,#0076ff 90.5px)"></i>
<i style="background:linear-gradient(90deg,#ff7000 0.5px,#ff7900 3.5px,#ff8c00 6.5px,#ffb100 10.5px,#fffe00 17.5px,#f5ff0a 18.5px,#97ff68 27.5px,#5dffa2 34.5px,#3fc 41.5px,#0ff 52.5px,#00beff 65.5px,#00a1ff 72.5px,#0086ff 81.5px,#0074ff 90.5px)"></i>
<i style="background:linear-gradient(90deg,#ff6100 0.5px,#ff6a00 3.5px,#ff8000 6.5px,#fa0 10.5px,#fffe00 17.5px,#f4ff0b 18.5px,#9dff62 26.5px,#61ff9e 33.5px,#34ffcb 40.5px,#0ff 51.5px,#0bf 65.5px,#009fff 72.5px,#0084ff 81.5px,#0073ff 90.5px)"></i>
<i style="background:linear-gradient(90deg,#ff5300 0.5px,#ff5d00 3.5px,#ff7600 6.5px,#ff9800 9.5px,#feff01 17.5px,#a4ff5b 25.5px,#7dff82 29.5px,#5cffa3 33.5px,#30ffcf 40.5px,#0ff 50.5px,#00bcff 64.5px,#00a0ff 71.5px,#0085ff 80.5px,#0071ff 90.5px)"></i>
<i style="background:linear-gradient(90deg,#ff4b00 0.5px,#f50 3.5px,#ff7000 6.5px,#ff9600 9.5px,#fff600 16.5px,#fbff04 17.5px,#9fff60 25.5px,#5fffa0 32.5px,#30ffcf 39.5px,#0ff 49.5px,#00b9ff 64.5px,#009dff 71.5px,#0083ff 80.5px,#006fff 90.5px)"></i>
<i style="background:linear-gradient(90deg,#ff4f00 0.5px,#ff5400 2.5px,#ff6a00 5.5px,#ff8d00 8.5px,#fffc00 16.5px,#f5ff0a 17.5px,#c5ff3a 21.5px,#9aff65 25.5px,#5affa5 32.5px,#2bffd4 39.5px,#03fffc 47.5px,#00feff 48.5px,#00baff 63.5px,#009bff 71.5px,#0081ff 80.5px,#006eff 90.5px)"></i>
<i style="background:linear-gradient(90deg,#ff6100 0.5px,#ff6500 2.5px,#ff7a00 5.5px,#ff9b00 8.5px,#fff800 15.5px,#f9ff06 16.5px,#9dff62 24.5px,#5cffa3 31.5px,#2bffd4 38.5px,#02fffd 46.5px,#00b2ff 64.5px,#0098ff 71.5px,#007fff 80.5px,#006cff 90.5px)"></i>
<i style="background:linear-gradient(90deg,#ff7c00 0.5px,#ff8000 2.5px,#ff9200 5.5px,#ffaf00 8.5px,#fff800 14.5px,#faff05 15.5px,#a0ff5f 23.5px,#5effa1 30.5px,#2bffd4 37.5px,#01fffe 45.5px,#00b7ff 62.5px,#0098ff 70.5px,#007cff 80.5px,#006aff 90.5px)"></i>
<i style="background:linear-gradient(90deg,#ff9c00 0.5px,#ff9f00 2.5px,#ffae00 5.5px,#ffc700 8.5px,#fffb00 13.5px,#f8ff07 14.5px,#8dff72 24.5px,#56ffa9 30.5px,#24ffdb 37.5px,#00feff 44.5px,#00b7ff 61.5px,#0096ff 70.5px,#007aff 80.5px,#0069ff 90.5px)"></i>
<i style="background:linear-gradient(90deg,#fb0 0.5px,#ffbe00 2.5px,#ffca00 5.5px,#ffdf00 8.5px,#fff900 11.5px,#fcff03 12.5px,#8dff72 23.5px,#57ffa8 29.5px,#2affd5 35.5px,#02fffd 42.5px,#0096ff 69.5px,#007bff 79.5px,#0067ff 90.5px)"></i>
<i style="background:linear-gradient(90deg,#ffd700 0.5px,#ffdf00 4.5px,#fffc00 9.5px,#fbff04 10.5px,#4effb1 29.5px,#2fd 35.5px,#01fffe 41.5px,#00c5ff 55.5px,#0096ff 68.5px,#0079ff 79.5px,#0065ff 90.5px)"></i>
<i style="background:linear-gradient(90deg,#fe0 0.5px,#fff200 3.5px,#fffd00 6.5px,#efff10 9.5px,#c9ff36 14.5px,#6f9 25.5px,#3dffc2 30.5px,#1affe5 35.5px,#00feff 40.5px,#00cfff 51.5px,#0093ff 68.5px,#07f 79.5px,#0063ff 90.5px)"></i>
<i style="background:linear-gradient(90deg,#fbff04 0.5px,#f1ff0e 5.5px,#d7ff28 10.5px,#b2ff4d 15.5px,#3bffc4 29.5px,#18ffe7 34.5px,#01fffe 38.5px,#00d1ff 49.5px,#0093ff 67.5px,#0074ff 79.5px,#0062ff 90.5px)"></i>
<i style="background:linear-gradient(90deg,#e7ff18 0.5px,#deff21 5.5px,#c6ff39 10.5px,#a2ff5d 15.5px,#31ffce 29.5px,#10ffef 34.5px,#00feff 37.5px,#00d2ff 47.5px,#0096ff 65.5px,#0074ff 78.5px,#0060ff 90.5px)"></i>
<i style="background:linear-gradient(90deg,#d4ff2b 0.5px,#cbff34 5.5px,#aeff51 11.5px,#8bff74 16.5px,#2effd1 28.5px,#02fffd 35.5px,#00cfff 46.5px,#0098ff 63.5px,#0075ff 77.5px,#005eff 90.5px)"></i>
<i style="background:linear-gradient(90deg,#c0ff3f 0.5px,#b8ff47 5.5px,#9dff62 11.5px,#7cff83 16.5px,#24ffdb 28.5px,#00feff 34.5px,#00d0ff 44.5px,#009dff 60.5px,#0074ff 76.5px,#005dff 90.5px)"></i>
<i style="background:linear-gradient(90deg,#adff52 0.5px,#a5ff5a 5.5px,#8cff73 11.5px,#01fffe 32.5px,#00d0ff 42.5px,#00a4ff 56.5px,#07f 74.5px,#005bff 90.5px)"></i>
<i style="background:linear-gradient(90deg,#9aff65 0.5px,#92ff6d 5.5px,#7fff80 10.5px,#63ff9c 15.5px,#09fff6 29.5px,#00fcff 31.5px,#00cdff 41.5px,#00a7ff 53.5px,#0074ff 74.5px,#0059ff 90.5px)"></i>
<i style="background:linear-gradient(90deg,#86ff79 0.5px,#80ff7f 5.5px,#6eff91 10.5px,#54ffab 15.5px,#00fdff 29.5px,#00cdff 39.5px,#00a7ff 51.5px,#0074ff 73.5px,#0058ff 90.5px)"></i>
<i style="background:linear-gradient(90deg,#74ff8b 0.5px,#6dff92 5.5px,#5cffa3 10.5px,#4fb 15.5px,#00feff 27.5px,#00ceff 37.5px,#00a7ff 49.5px,#0074ff 72.5px,#0056ff 90.5px)"></i>
<i style="background:linear-gradient(90deg,#61ff9e 0.5px,#5bffa4 5.5px,#4bffb4 10.5px,#35ffca 15.5px,#00feff 25.5px,#00caff 36.5px,#00a3ff 48.5px,#0071ff 72.5px,#05f 90.5px)"></i>
<i style="background:linear-gradient(90deg,#4fffb0 0.5px,#4cffb3 4.5px,#3fffc0 9.5px,#00fdff 23.5px,#00c6ff 35.5px,#00a0ff 47.5px,#0071ff 71.5px,#0054ff 90.5px)"></i>
<i style="background:linear-gradient(90deg,#3effc1 0.5px,#3bffc4 4.5px,#31ffce 8.5px,#20ffdf 13.5px,#01fffe 20.5px,#00fbff 21.5px,#00c2ff 34.5px,#009dff 46.5px,#007fff 61.5px,#0052ff 90.5px)"></i>
<i style="background:linear-gradient(90deg,#2effd1 0.5px,#2fd 8.5px,#00fdff 18.5px,#00baff 34.5px,#0097ff 46.5px,#007fff 59.5px,#0051ff 90.5px)"></i>
<i style="background:linear-gradient(90deg,#1effe1 0.5px,#15ffea 7.5px,#01fffe 14.5px,#00b6ff 33.5px,#0094ff 45.5px,#007eff 57.5px,#0050ff 90.5px)"></i>
<i style="background:linear-gradient(90deg,#0ffff0 0.5px,#0afff5 5.5px,#00feff 10.5px,#00acff 34.5px,#0089ff 48.5px,#004fff 90.5px)"></i>
<i style="background:linear-gradient(90deg,#00fdff 0.5px,#00f9ff 6.5px,#00efff 11.5px,#00a5ff 34.5px,#08f 46.5px,#0078ff 56.5px,#004eff 90.5px)"></i>
<i style="background:linear-gradient(90deg,#00e9ff 0.5px,#00e9ff 6.5px,#00e2ff 11.5px,#009cff 35.5px,#0080ff 48.5px,#004dff 90.5px)"></i>
<i style="background:linear-gradient(90deg,#00cfff 0.5px,#00d9ff 7.5px,#00d8ff 10.5px,#00cbff 16.5px,#0096ff 35.5px,#007fff 46.5px,#004cff 90.5px)"></i>
<i style="background:linear-gradient(90deg,#0af 0.5px,#00aeff 2.5px,#00c8ff 7.5px,#00caff 11.5px,#0090ff 35.5px,#007aff 46.5px,#004bff 90.5px)"></i>
<i style="background:linear-gradient(90deg,#08f 0.5px,#008eff 2.5px,#00b7ff 7.5px,#00beff 9.5px,#00bfff 11.5px,#00b7ff 16.5px,#0086ff 37.5px,#0075ff 47.5px,#004aff 90.5px)"></i>
<i style="background:linear-gradient(90deg,#0071ff 0.5px,#0078ff 2.5px,#0af 7.5px,#00b3ff 9.5px,#00b5ff 11.5px,#00b0ff 15.5px,#0083ff 36.5px,#0071ff 47.5px,#004aff 90.5px)"></i>
<i style="background:linear-gradient(90deg,#005fff 0.5px,#0067ff 2.5px,#009eff 7.5px,#00a9ff 9.5px,#00acff 11.5px,#00a6ff 16.5px,#007dff 37.5px,#006cff 48.5px,#0049ff 90.5px)"></i>
<i style="background:linear-gradient(90deg,#0050ff 0.5px,#0052ff 1.5px,#0058ff 2.5px,#0094ff 7.5px,#009fff 9.5px,#00a3ff 11.5px,#009eff 16.5px,#0078ff 37.5px,#0069ff 48.5px,#0048ff 90.5px)"></i>
<i style="background:linear-gradient(90deg,#0043ff 0.5px,#0045ff 1.5px,#004cff 2.5px,#007fff 6.5px,#0091ff 8.5px,#09f 10.5px,#009aff 12.5px,#06f 48.5px,#0048ff 90.5px)"></i>
<i style="background:linear-gradient(90deg,#0038ff 0.5px,#0039ff 1.5px,#0041ff 2.5px,#0076ff 6.5px,#0089ff 8.5px,#0091ff 10.5px,#0093ff 12.5px,#0062ff 48.5px,#0047ff 90.5px)"></i>
<i style="background:linear-gradient(90deg,#002eff 0.5px,#0036ff 2.5px,#0069ff 6.5px,#007dff 8.5px,#0087ff 10.5px,#008aff 12.5px,#0087ff 17.5px,#005fff 49.5px,#0047ff 90.5px)"></i>
<i style="background:linear-gradient(90deg,#0025ff 0.5px,#002cff 2.5px,#0067ff 7.5px,#07f 9.5px,#0080ff 11.5px,#0083ff 13.5px,#005cff 49.5px,#0046ff 90.5px)"></i>
<i style="background:linear-gradient(90deg,#001dff 0.5px,#001eff 1.5px,#002cff 3.5px,#005bff 7.5px,#006cff 9.5px,#0076ff 11.5px,#007bff 14.5px,#0059ff 50.5px,#0045ff 90.5px)"></i>
<i style="background:linear-gradient(90deg,#0016ff 0.5px,#0017ff 1.5px,#0023ff 3.5px,#0059ff 8.5px,#0068ff 10.5px,#0071ff 12.5px,#0075ff 15.5px,#0057ff 50.5px,#0045ff 90.5px)"></i>
<i style="background:linear-gradient(90deg,#000fff 0.5px,#0010ff 1.5px,#001bff 3.5px,#004eff 8.5px,#005eff 10.5px,#0068ff 12.5px,#006eff 15.5px,#006cff 21.5px,#0054ff 51.5px,#04f 90.5px)"></i>
<i style="background:linear-gradient(90deg,#0009ff 0.5px,#000aff 1.5px,#0014ff 3.5px,#04f 8.5px,#005bff 11.5px,#0063ff 13.5px,#0068ff 16.5px,#0067ff 22.5px,#0052ff 51.5px,#04f 90.5px)"></i>
<i style="background:linear-gradient(90deg,#0004ff 0.5px,#000eff 3.5px,#04f 9.5px,#0052ff 11.5px,#005fff 14.5px,#0063ff 17.5px,#0050ff 51.5px,#0043ff 90.5px)"></i>
<i style="background:linear-gradient(90deg,#00f 0.5px,#0009ff 3.5px,#003cff 9.5px,#0050ff 12.5px,#0058ff 14.5px,#005eff 17.5px,#005eff 23.5px,#004dff 53.5px,#0043ff 90.5px)"></i>
<i style="background:linear-gradient(90deg,#0000fb 0.5px,#00f 2.5px,#0004ff 3.5px,#0048ff 12.5px,#0054ff 15.5px,#0059ff 18.5px,#005aff 24.5px,#004cff 53.5px,#0042ff 90.5px)"></i>
<i style="background:linear-gradient(90deg,#0000f9 0.5px,#0001ff 3.5px,#0042ff 12.5px,#004eff 15.5px,#05f 19.5px,#0042ff 90.5px)"></i>
<i style="background:linear-gradient(90deg,#0000f7 0.5px,#0003ff 4.5px,#0041ff 13.5px,#004cff 16.5px,#0052ff 20.5px,#0041ff 90.5px)"></i>
<i style="background:linear-gradient(90deg,#0000f5 0.5px,#0000f7 2.5px,#0001ff 4.5px,#0030ff 11.5px,#003fff 14.5px,#0049ff 17.5px,#004eff 21.5px,#0041ff 90.5px)"></i>
<i style="background:linear-gradient(90deg,#0000f4 0.5px,#0000f6 2.5px,#0000fd 4.5px,#0003ff 5.5px,#003aff 14.5px,#04f 17.5px,#004bff 21.5px,#0040ff 90.5px)"></i>
<i style="background:linear-gradient(90deg,#0000f3 0.5px,#0000f5 2.5px,#0001ff 5.5px,#0035ff 14.5px,#0042ff 18.5px,#0048ff 22.5px,#0040ff 90.5px)"></i>
<i style="background:linear-gradient(90deg,#0000f2 0.5px,#0000f4 2.5px,#0000fe 5.5px,#0035ff 15.5px,#0040ff 19.5px,#0045ff 23.5px,#003fff 90.5px)"></i>
<i style="background:linear-gradient(90deg,#0000f1 0.5px,#0000f3 2.5px,#0002ff 6.5px,#0031ff 15.5px,#003dff 19.5px,#0042ff 23.5px,#003eff 90.5px)"></i>
<i style="background:linear-gradient(90deg,#0000f1 0.5px,#0000f5 3.5px,#0001ff 6.5px,#0030ff 16.5px,#003bff 20.5px,#0040ff 24.5px,#003eff 90.5px)"></i>
<i style="background:linear-gradient(90deg,#0000f1 0.5px,#0000f4 3.5px,#0000fe 6.5px,#0030ff 17.5px,#003eff 25.5px,#0040ff 49.5px,#003dff 90.5px)"></i>
<i style="background:linear-gradient(90deg,#0000f1 0.5px,#0000f4 3.5px,#0000fd 6.5px,#002dff 17.5px,#0036ff 21.5px,#003cff 26.5px,#003fff 50.5px,#003cff 90.5px)"></i>
<i style="background:linear-gradient(90deg,#0000f1 0.5px,#0000f4 3.5px,#0001ff 7.5px,#0029ff 17.5px,#03f 21.5px,#0039ff 26.5px,#003eff 50.5px,#003cff 90.5px)"></i>
<i style="background:linear-gradient(90deg,#0000f1 0.5px,#0000f4 3.5px,#00f 7.5px,#0029ff 18.5px,#0038ff 27.5px,#003dff 51.5px,#003bff 90.5px)"></i>
<i style="background:linear-gradient(90deg,#0000f1 0.5px,#0000f4 3.5px,#0000fe 7.5px,#0029ff 19.5px,#0036ff 28.5px,#003cff 51.5px,#003aff 90.5px)"></i>
<i style="background:linear-gradient(90deg,#0000f1 0.5px,#0000f4 3.5px,#0002ff 8.5px,#0026ff 19.5px,#0034ff 29.5px,#003bff 51.5px,#0039ff 90.5px)"></i>
<i style="background:linear-gradient(90deg,#0000f1 0.5px,#0000f5 4.5px,#0001ff 8.5px,#0026ff 20.5px,#03f 30.5px,#003aff 52.5px,#0039ff 90.5px)"></i>
<i style="background:linear-gradient(90deg,#0000f1 0.5px,#0000f5 4.5px,#00f 8.5px,#0024ff 20.5px,#0032ff 31.5px,#0039ff 52.5px,#0038ff 90.5px)"></i>
<i style="background:linear-gradient(90deg,#0000f1 0.5px,#0000f5 4.5px,#0001ff 9.5px,#0023ff 21.5px,#0030ff 32.5px,#0038ff 52.5px,#0037ff 90.5px)"></i>
<i style="background:linear-gradient(90deg,#0000f1 0.5px,#0000f4 4.5px,#00f 9.5px,#0023ff 22.5px,#002fff 33.5px,#0036ff 52.5px,#0036ff 90.5px)"></i>
<i style="background:linear-gradient(90deg,#0000f1 0.5px,#0000f4 4.5px,#0000fe 9.5px,#02f 23.5px,#002fff 35.5px,#0035ff 53.5px,#0035ff 90.5px)"></i>
<i style="background:linear-gradient(90deg,#0000f0 0.5px,#0000f5 5.5px,#00f 10.5px,#0020ff 23.5px,#002eff 37.5px,#0034ff 54.5px,#0034ff 90.5px)"></i>
<i style="background:linear-gradient(90deg,#0000f0 0.5px,#0000f4 5.5px,#0000fe 10.5px,#0020ff 24.5px,#002eff 39.5px,#03f 55.5px,#03f 90.5px)"></i>
<i style="background:linear-gradient(90deg,#0000ef 0.5px,#0000f3 5.5px,#00f 11.5px,#001fff 25.5px,#002dff 41.5px,#0032ff 56.5px,#0032ff 90.5px)"></i>
<i style="background:linear-gradient(90deg,#0000ef 0.5px,#0000f3 5.5px,#0000fe 11.5px,#001eff 26.5px,#002cff 42.5px,#0031ff 57.5px,#0031ff 90.5px)"></i>
<i style="background:linear-gradient(90deg,#00e 0.5px,#0000f2 5.5px,#00f 12.5px,#001eff 27.5px,#002cff 43.5px,#0030ff 58.5px,#0030ff 90.5px)"></i>
<i style="background:linear-gradient(90deg,#00e 0.5px,#0000f3 6.5px,#0001ff 13.5px,#001cff 27.5px,#002bff 44.5px,#002fff 59.5px,#002fff 90.5px)"></i>
<i style="background:linear-gradient(90deg,#0000ed 0.5px,#0000f2 6.5px,#0001ff 14.5px,#001cff 28.5px,#002aff 45.5px,#002eff 61.5px,#002eff 90.5px)"></i>
<i style="background:linear-gradient(90deg,#0000ed 0.5px,#0000f1 6.5px,#00f 14.5px,#001bff 29.5px,#0029ff 46.5px,#002dff 63.5px,#002dff 90.5px)"></i>
<i style="background:linear-gradient(90deg,#0000ec 0.5px,#0000f0 6.5px,#0001ff 15.5px,#001bff 30.5px,#0027ff 46.5px,#002cff 65.5px,#002cff 90.5px)"></i>
<i style="background:linear-gradient(90deg,#0000ec 0.5px,#0000f0 6.5px,#0001ff 16.5px,#001aff 31.5px,#0026ff 47.5px,#002bff 67.5px,#002bff 90.5px)"></i>
<i style="background:linear-gradient(90deg,#0000eb 0.5px,#0000f0 7.5px,#00f 16.5px,#0017ff 30.5px,#0023ff 44.5px,#002aff 65.5px,#0029ff 90.5px)"></i>
<i style="background:linear-gradient(90deg,#0000eb 0.5px,#0000ef 7.5px,#00f 17.5px,#0017ff 31.5px,#0023ff 45.5px,#0029ff 66.5px,#0028ff 90.5px)"></i>
<i style="background:linear-gradient(90deg,#0000ea 0.5px,#00e 7.5px,#0001ff 18.5px,#0016ff 32.5px,#02f 46.5px,#0028ff 67.5px,#0027ff 90.5px)"></i>
<i style="background:linear-gradient(90deg,#0000e9 0.5px,#00e 7.5px,#0001ff 19.5px,#0016ff 33.5px,#0021ff 47.5px,#0027ff 68.5px,#0026ff 90.5px)"></i>
<i style="background:linear-gradient(90deg,#0000e9 0.5px,#00e 8.5px,#00f 19.5px,#0015ff 33.5px,#001fff 47.5px,#0026ff 68.5px,#0025ff 90.5px)"></i>
<i style="background:linear-gradient(90deg,#0000e8 0.5px,#0000ed 8.5px,#00f 20.5px,#0014ff 34.5px,#001fff 48.5px,#0025ff 69.5px,#0024ff 90.5px)"></i>
<i style="background:linear-gradient(90deg,#0000e7 0.5px,#0000ec 8.5px,#0001ff 21.5px,#0014ff 35.5px,#001eff 49.5px,#0024ff 69.5px,#0023ff 90.5px)"></i>
<i style="background:linear-gradient(90deg,#0000e7 0.5px,#0000ed 9.5px,#0001ff 22.5px,#0013ff 36.5px,#001dff 51.5px,#0023ff 70.5px,#02f 90.5px)"></i>
<i style="background:linear-gradient(90deg,#0000e6 0.5px,#0000ec 9.5px,#0001ff 23.5px,#0013ff 37.5px,#001dff 53.5px,#0023ff 70.5px,#0021ff 90.5px)"></i>
<i style="background:linear-gradient(90deg,#0000e6 0.5px,#0000eb 9.5px,#00f 23.5px,#01f 37.5px,#001dff 55.5px,#02f 71.5px,#0020ff 90.5px)"></i>
<i style="background:linear-gradient(90deg,#0000e5 0.5px,#0000ec 10.5px,#00f 24.5px,#01f 38.5px,#001dff 57.5px,#0021ff 72.5px,#001fff 90.5px)"></i>
<i style="background:linear-gradient(90deg,#0000e4 0.5px,#0000eb 10.5px,#0001ff 25.5px,#01f 39.5px,#001cff 59.5px,#0020ff 73.5px,#001eff 90.5px)"></i>
<i style="background:linear-gradient(90deg,#0000e4 0.5px,#0000ea 10.5px,#0001ff 26.5px,#0010ff 40.5px,#001cff 60.5px,#001fff 73.5px,#001dff 90.5px)"></i>
<i style="background:linear-gradient(90deg,#0000e3 0.5px,#0000ea 10.5px,#0001ff 27.5px,#0010ff 41.5px,#001bff 61.5px,#001eff 74.5px,#001cff 90.5px)"></i>
<i style="background:linear-gradient(90deg,#0000e3 0.5px,#0000ea 11.5px,#00f 27.5px,#000eff 41.5px,#001bff 62.5px,#001bff 90.5px)"></i>
<i style="background:linear-gradient(90deg,#0000e3 0.5px,#0000e9 11.5px,#00f 28.5px,#000eff 42.5px,#001aff 62.5px,#001aff 90.5px)"></i>
</div>
<div class="p" style="clip-path:polygon(0.80px 16.40px,2.86px 16.37px,4.91px 16.29px,6.97px 16.15px,9.02px 15.96px,11.08px 15.71px,13.14px 15.41px,15.19px 15.05px,17.25px 14.63px,19.30px 14.16px,21.36px 13.64px,23.42px 13.06px,25.47px 12.43px,27.53px 11.73px,29.58px 10.99px,31.64px 10.19px,33.70px 9.33px,35.75px 8.42px,37.81px 7.46px,39.86px 6.43px,41.92px 5.36px,43.98px 4.23px,46.03px 3.04px,48.09px 1.80px,50.14px 0.50px,91.00px 0.50px,91.00px 101.40px,0.80px 101.40px);left:29px;top:160px;width:91px">
<i style="background:linear-gradient(90deg,#0068ff 0.5px,#0063ff 2.5px,#0053ff 4.5px,#0015ff 9.5px,#00f 11.5px,#0000f0 13.5px,#0000e6 15.5px,#0000dc 21.5px,#0000db 90.5px)"></i>
<i style="background:linear-gradient(90deg,#0068ff 0.5px,#0063ff 2.5px,#0053ff 4.5px,#0015ff 9.5px,#00f 11.5px,#0000f0 13.5px,#0000e6 15.5px,#0000dc 21.5px,#0000db 90.5px)"></i>
<i style="background:linear-gradient(90deg,#0068ff 0.5px,#0063ff 2.5px,#0053ff 4.5px,#0015ff 9.5px,#00f 11.5px,#0000f0 13.5px,#0000e6 15.5px,#0000dc 21.5px,#0000db 90.5px)"></i>
<i style="background:linear-gradient(90deg,#0068ff 0.5px,#0064ff 2.5px,#0054ff 4.5px,#0016ff 9.5px,#0001ff 11.5px,#0000e6 15.5px,#0000dc 21.5px,#0000db 90.5px)"></i>
<i style="background:linear-gradient(90deg,#0069ff 0.5px,#0064ff 2.5px,#0054ff 4.5px,#0016ff 9.5px,#0001ff 11.5px,#0000e6 15.5px,#0000dc 21.5px,#0000db 90.5px)"></i>
<i style="background:linear-gradient(90deg,#006aff 0.5px,#0065ff 2.5px,#05f 4.5px,#0016ff 9.5px,#0001ff 11.5px,#0000e6 15.5px,#0000dc 21.5px,#0000db 90.5px)"></i>
<i style="background:linear-gradient(90deg,#006bff 0.5px,#06f 2.5px,#0056ff 4.5px,#0017ff 9.5px,#0001ff 11.5px,#0000e6 15.5px,#0000dc 21.5px,#0000db 90.5px)"></i>
<i style="background:linear-gradient(90deg,#006cff 0.5px,#006bff 1.5px,#0060ff 3.5px,#004bff 5.5px,#000cff 10.5px,#0001ff 11.5px,#0000f8 12.5px,#0000eb 14.5px,#0000e3 16.5px,#0000dc 21.5px,#0000db 90.5px)"></i>
<i style="background:linear-gradient(90deg,#006dff 0.5px,#006cff 1.5px,#0061ff 3.5px,#004cff 5.5px,#000cff 10.5px,#0002ff 11.5px,#0000f8 12.5px,#0000eb 14.5px,#0000e3 16.5px,#0000dc 21.5px,#0000db 90.5px)"></i>
<i style="background:linear-gradient(90deg,#006fff 0.5px,#006eff 1.5px,#0063ff 3.5px,#004dff 5.5px,#000cff 10.5px,#0002ff 11.5px,#0000f8 12.5px,#0000eb 14.5px,#0000e3 16.5px,#0000dc 21.5px,#0000db 90.5px)"></i>
<i style="background:linear-gradient(90deg,#0070ff 0.5px,#0070ff 1.5px,#0064ff 3.5px,#004eff 5.5px,#000dff 10.5px,#0003ff 11.5px,#0000f9 12.5px,#0000eb 14.5px,#0000e3 16.5px,#0000dc 21.5px,#0000db 90.5px)"></i>
<i style="background:linear-gradient(90deg,#0072ff 0.5px,#0072ff 1.5px,#06f 3.5px,#0050ff 5.5px,#000eff 10.5px,#0003ff 11.5px,#0000f9 12.5px,#0000ec 14.5px,#0000e3 16.5px,#0000dc 21.5px,#0000db 90.5px)"></i>
<i style="background:linear-gradient(90deg,#0074ff 0.5px,#0074ff 1.5px,#0068ff 3.5px,#0052ff 5.5px,#000eff 10.5px,#0004ff 11.5px,#0000f9 12.5px,#0000ec 14.5px,#0000e4 16.5px,#0000dc 21.5px,#0000db 90.5px)"></i>
<i style="background:linear-gradient(90deg,#07f 0.5px,#0076ff 1.5px,#006aff 3.5px,#0053ff 5.5px,#000fff 10.5px,#0004ff 11.5px,#0000fa 12.5px,#0000ec 14.5px,#0000e4 16.5px,#0000dc 21.5px,#0000db 90.5px)"></i>
<i style="background:linear-gradient(90deg,#0079ff 0.5px,#0078ff 1.5px,#006cff 3.5px,#05f 5.5px,#0010ff 10.5px,#0005ff 11.5px,#0000fa 12.5px,#0000ec 14.5px,#0000e4 16.5px,#0000dc 21.5px,#0000db 90.5px)"></i>
<i style="background:linear-gradient(90deg,#007cff 0.5px,#007bff 1.5px,#006fff 3.5px,#0057ff 5.5px,#01f 10.5px,#0006ff 11.5px,#0000fb 12.5px,#0000ed 14.5px,#0000e4 16.5px,#0000dc 21.5px,#0000db 90.5px)"></i>
<i style="background:linear-gradient(90deg,#007fff 0.5px,#007eff 1.5px,#0072ff 3.5px,#005aff 5.5px,#0012ff 10.5px,#0006ff 11.5px,#0000fc 12.5px,#0000ed 14.5px,#0000e4 16.5px,#0000dc 21.5px,#0000db 90.5px)"></i>
<i style="background:linear-gradient(90deg,#0087ff 0.5px,#0086ff 1.5px,#0079ff 3.5px,#0060ff 5.5px,#0014ff 10.5px,#0000fd 12.5px,#00e 14.5px,#0000e5 16.5px,#0000dc 21.5px,#0000db 90.5px)"></i>
<i style="background:linear-gradient(90deg,#0094ff 0.5px,#0093ff 1.5px,#0085ff 3.5px,#006aff 5.5px,#0019ff 10.5px,#0001ff 12.5px,#0000ef 14.5px,#0000e5 16.5px,#0000dc 22.5px,#0000db 90.5px)"></i>
<i style="background:linear-gradient(90deg,#00a5ff 0.5px,#00a4ff 1.5px,#0094ff 3.5px,#07f 5.5px,#001eff 10.5px,#0004ff 12.5px,#0000f9 13.5px,#0000eb 15.5px,#0000e3 17.5px,#0000dc 22.5px,#0000db 90.5px)"></i>
<i style="background:linear-gradient(90deg,#00b5ff 0.5px,#00b4ff 1.5px,#00a3ff 3.5px,#0083ff 5.5px,#0024ff 10.5px,#0007ff 12.5px,#0000fc 13.5px,#0000ec 15.5px,#0000e3 17.5px,#0000dc 22.5px,#0000db 90.5px)"></i>
<i style="background:linear-gradient(90deg,#00c7ff 0.5px,#00c6ff 1.5px,#00b3ff 3.5px,#0090ff 5.5px,#002aff 10.5px,#0001ff 13.5px,#0000ef 15.5px,#0000e5 17.5px,#0000dc 22.5px,#0000db 90.5px)"></i>
<i style="background:linear-gradient(90deg,#00dcff 0.5px,#00daff 1.5px,#00d2ff 2.5px,#00c4ff 3.5px,#009fff 5.5px,#005bff 8.5px,#03f 10.5px,#0012ff 12.5px,#0006ff 13.5px,#0000fb 14.5px,#0000ec 16.5px,#0000e4 18.5px,#0000dc 23.5px,#0000db 90.5px)"></i>
<i style="background:linear-gradient(90deg,#00f0ff 0.5px,#00edff 1.5px,#00e4ff 2.5px,#00d5ff 3.5px,#00acff 5.5px,#0065ff 8.5px,#003bff 10.5px,#001aff 12.5px,#0001ff 14.5px,#0000e6 18.5px,#0000dc 24.5px,#0000db 90.5px)"></i>
<i style="background:linear-gradient(90deg,#02fffd 0.5px,#00feff 1.5px,#00f3ff 2.5px,#00e2ff 3.5px,#00b6ff 5.5px,#006eff 8.5px,#0043ff 10.5px,#0013ff 13.5px,#0000fd 15.5px,#0000ef 17.5px,#0000e6 19.5px,#00d 25.5px,#0000db 90.5px)"></i>
<i style="background:linear-gradient(90deg,#1fe 0.5px,#0dfff2 1.5px,#0ff 2.5px,#00d6ff 4.5px,#005fff 9.5px,#0038ff 11.5px,#000eff 14.5px,#0004ff 15.5px,#0000fb 16.5px,#00e 18.5px,#0000e4 21.5px,#00d 27.5px,#0000db 90.5px)"></i>
<i style="background:linear-gradient(90deg,#1fffe0 0.5px,#1affe5 1.5px,#0afff5 2.5px,#00f5ff 3.5px,#007bff 8.5px,#0051ff 10.5px,#0021ff 13.5px,#0002ff 16.5px,#0000e7 21.5px,#00d 28.5px,#0000db 90.5px)"></i>
<i style="background:linear-gradient(90deg,#2cffd3 0.5px,#26ffd9 1.5px,#00fdff 3.5px,#09f 7.5px,#0058ff 10.5px,#0027ff 13.5px,#0010ff 15.5px,#00f 17.5px,#0000f3 19.5px,#0000e7 22.5px,#00d 30.5px,#0000db 90.5px)"></i>
<i style="background:linear-gradient(90deg,#3affc5 0.5px,#32ffcd 1.5px,#07fff8 3.5px,#00ecff 4.5px,#0087ff 8.5px,#004cff 11.5px,#002dff 13.5px,#0016ff 15.5px,#0004ff 17.5px,#0000fd 18.5px,#0000e7 23.5px,#00d 31.5px,#0000db 90.5px)"></i>
<i style="background:linear-gradient(90deg,#49ffb6 0.5px,#40ffbf 1.5px,#12ffed 3.5px,#00f6ff 4.5px,#008eff 8.5px,#0051ff 11.5px,#0026ff 14.5px,#01f 16.5px,#0001ff 18.5px,#0000f0 21.5px,#0000e7 24.5px,#00d 32.5px,#0000db 90.5px)"></i>
<i style="background:linear-gradient(90deg,#59ffa6 0.5px,#50ffaf 1.5px,#3affc5 2.5px,#04fffb 4.5px,#00e6ff 5.5px,#0096ff 8.5px,#0057ff 11.5px,#0029ff 14.5px,#0013ff 16.5px,#0003ff 18.5px,#0000e7 24.5px,#00d 32.5px,#0000db 90.5px)"></i>
<i style="background:linear-gradient(90deg,#6bff94 0.5px,#62ff9d 1.5px,#4cffb3 2.5px,#13ffec 4.5px,#00f4ff 5.5px,#009fff 8.5px,#005bff 11.5px,#002aff 14.5px,#0013ff 16.5px,#0002ff 18.5px,#0000e6 24.5px,#0000de 31.5px,#0000db 90.5px)"></i>
<i style="background:linear-gradient(90deg,#7fff80 0.5px,#7f8 1.5px,#61ff9e 2.5px,#07fff8 5.5px,#00e6ff 6.5px,#008fff 9.5px,#004cff 12.5px,#001eff 15.5px,#00f 18.5px,#0000f3 20.5px,#0000e7 23.5px,#00d 30.5px,#0000db 90.5px)"></i>
<i style="background:linear-gradient(90deg,#9dff62 0.5px,#95ff6a 1.5px,#80ff7f 2.5px,#64ff9b 3.5px,#00fdff 6.5px,#009bff 9.5px,#06f 11.5px,#0050ff 12.5px,#003cff 13.5px,#001dff 15.5px,#0006ff 17.5px,#0000fd 18.5px,#0000f0 20.5px,#0000e5 23.5px,#00d 29.5px,#0000db 90.5px)"></i>
<i style="background:linear-gradient(90deg,#c0ff3f 0.5px,#baff45 1.5px,#a5ff5a 2.5px,#8f7 3.5px,#65ff9a 4.5px,#19ffe6 6.5px,#00f1ff 7.5px,#00a9ff 9.5px,#0089ff 10.5px,#006dff 11.5px,#003dff 13.5px,#002bff 14.5px,#000eff 16.5px,#0003ff 17.5px,#0000f9 18.5px,#0000e5 22.5px,#0000dc 29.5px,#0000db 90.5px)"></i>
<i style="background:linear-gradient(90deg,#df2 0.5px,#d7ff28 1.5px,#c4ff3b 2.5px,#a6ff59 3.5px,#5affa5 5.5px,#05fffa 7.5px,#00daff 8.5px,#0090ff 10.5px,#0054ff 12.5px,#0028ff 14.5px,#0009ff 16.5px,#0000fe 17.5px,#00e 19.5px,#0000e5 21.5px,#0000dc 27.5px,#0000db 90.5px)"></i>
<i style="background:linear-gradient(90deg,#eaff15 0.5px,#e6ff19 1.5px,#d4ff2b 2.5px,#b7ff48 3.5px,#92ff6d 4.5px,#68ff97 5.5px,#0efff1 7.5px,#00e0ff 8.5px,#0090ff 10.5px,#006eff 11.5px,#0037ff 13.5px,#01f 15.5px,#0004ff 16.5px,#0000f8 17.5px,#0000ea 19.5px,#0000e2 21.5px,#0000dc 26.5px,#0000db 90.5px)"></i>
<i style="background:linear-gradient(90deg,#f4ff0b 0.5px,#f0ff0f 1.5px,#dfff20 2.5px,#c3ff3c 3.5px,#9eff61 4.5px,#72ff8d 5.5px,#13ffec 7.5px,#00e3ff 8.5px,#008eff 10.5px,#006aff 11.5px,#004bff 12.5px,#001cff 14.5px,#000bff 15.5px,#0000fd 16.5px,#0000ec 18.5px,#0000e3 20.5px,#0000dc 25.5px,#0000db 90.5px)"></i>
<i style="background:linear-gradient(90deg,#fcff03 0.5px,#f9ff06 1.5px,#e9ff16 2.5px,#cdff32 3.5px,#a7ff58 4.5px,#7aff85 5.5px,#17ffe8 7.5px,#00e4ff 8.5px,#008bff 10.5px,#0065ff 11.5px,#0045ff 12.5px,#002bff 13.5px,#0016ff 14.5px,#0006ff 15.5px,#0000f8 16.5px,#0000e4 19.5px,#0000dc 24.5px,#0000db 90.5px)"></i>
<i style="background:linear-gradient(90deg,#fffa00 0.5px,#fffe00 1.5px,#f0ff0f 2.5px,#d4ff2b 3.5px,#adff52 4.5px,#7fff80 5.5px,#18ffe7 7.5px,#00e3ff 8.5px,#0087ff 10.5px,#0061ff 11.5px,#0041ff 12.5px,#0026ff 13.5px,#0002ff 15.5px,#0000e7 18.5px,#0000e0 20.5px,#0000dc 23.5px,#0000db 90.5px)"></i>
<i style="background:linear-gradient(90deg,#fff400 0.5px,#fff800 1.5px,#f6ff09 2.5px,#d8ff27 3.5px,#b0ff4f 4.5px,#81ff7e 5.5px,#17ffe8 7.5px,#00e1ff 8.5px,#0084ff 10.5px,#005dff 11.5px,#003dff 12.5px,#0023ff 13.5px,#000fff 14.5px,#0000fe 15.5px,#0000f3 16.5px,#0000e5 18.5px,#0000dc 23.5px,#0000db 90.5px)"></i>
<i style="background:linear-gradient(90deg,#fff000 0.5px,#fff300 1.5px,#faff05 2.5px,#dbff24 3.5px,#b2ff4d 4.5px,#81ff7e 5.5px,#15ffea 7.5px,#00deff 8.5px,#00adff 9.5px,#0080ff 10.5px,#005aff 11.5px,#003aff 12.5px,#0020ff 13.5px,#000cff 14.5px,#0000fc 15.5px,#0000f2 16.5px,#0000e5 18.5px,#0000dc 23.5px,#0000db 90.5px)"></i>
<i style="background:linear-gradient(90deg,#ffec00 0.5px,#fff000 1.5px,#fcff03 2.5px,#df2 3.5px,#b3ff4c 4.5px,#81ff7e 5.5px,#13ffec 7.5px,#00dbff 8.5px,#00a9ff 9.5px,#007cff 10.5px,#0056ff 11.5px,#0037ff 12.5px,#001dff 13.5px,#000aff 14.5px,#0000fb 15.5px,#0000f0 16.5px,#0000e4 18.5px,#0000dc 23.5px,#0000db 90.5px)"></i>
<i style="background:linear-gradient(90deg,#ffeb00 0.5px,#fe0 1.5px,#fdff02 2.5px,#deff21 3.5px,#b3ff4c 4.5px,#80ff7f 5.5px,#10ffef 7.5px,#00d8ff 8.5px,#00a6ff 9.5px,#0079ff 10.5px,#0053ff 11.5px,#0034ff 12.5px,#001bff 13.5px,#0008ff 14.5px,#0000f9 15.5px,#0000ef 16.5px,#0000e3 18.5px,#0000dc 23.5px,#0000db 90.5px)"></i>
<i style="background:linear-gradient(90deg,#ffeb00 0.5px,#ffef00 1.5px,#fdff02 2.5px,#df2 3.5px,#b1ff4e 4.5px,#7eff81 5.5px,#0cfff3 7.5px,#00d4ff 8.5px,#00a2ff 9.5px,#0075ff 10.5px,#004fff 11.5px,#0031ff 12.5px,#0018ff 13.5px,#0006ff 14.5px,#0000f7 15.5px,#00e 16.5px,#0000e3 18.5px,#0000dc 22.5px,#0000db 90.5px)"></i>
<i style="background:linear-gradient(90deg,#ffed00 0.5px,#fff100 1.5px,#fbff04 2.5px,#daff25 3.5px,#aeff51 4.5px,#7aff85 5.5px,#08fff7 7.5px,#00d0ff 8.5px,#009dff 9.5px,#0071ff 10.5px,#004cff 11.5px,#002dff 12.5px,#0016ff 13.5px,#0004ff 14.5px,#0000f6 15.5px,#0000ec 16.5px,#0000e2 18.5px,#0000dc 22.5px,#0000db 90.5px)"></i>
<i style="background:linear-gradient(90deg,#fff000 0.5px,#fff400 1.5px,#f7ff08 2.5px,#d6ff29 3.5px,#a9ff56 4.5px,#75ff8a 5.5px,#03fffc 7.5px,#00cbff 8.5px,#0098ff 9.5px,#006cff 10.5px,#0048ff 11.5px,#002aff 12.5px,#0013ff 13.5px,#0002ff 14.5px,#0000eb 16.5px,#0000e5 17.5px,#0000df 19.5px,#0000dc 22.5px,#0000db 90.5px)"></i>
<i style="background:linear-gradient(90deg,#fff500 0.5px,#fff900 1.5px,#f2ff0d 2.5px,#d0ff2f 3.5px,#a4ff5b 4.5px,#00fbff 7.5px,#00c5ff 8.5px,#0093ff 9.5px,#0068ff 10.5px,#04f 11.5px,#0027ff 12.5px,#0010ff 13.5px,#00f 14.5px,#0000f2 15.5px,#0000e5 17.5px,#0000dc 22.5px,#0000db 90.5px)"></i>
<i style="background:linear-gradient(90deg,#fffc00 0.5px,#feff01 1.5px,#ebff14 2.5px,#caff35 3.5px,#9dff62 4.5px,#2fffd0 6.5px,#00f5ff 7.5px,#00beff 8.5px,#008dff 9.5px,#0063ff 10.5px,#003fff 11.5px,#0023ff 12.5px,#000dff 13.5px,#0000fc 14.5px,#0000f1 15.5px,#0000e4 17.5px,#0000dc 21.5px,#0000db 90.5px)"></i>
<i style="background:linear-gradient(90deg,#fbff04 0.5px,#f7ff08 1.5px,#e4ff1b 2.5px,#c2ff3d 3.5px,#95ff6a 4.5px,#27ffd8 6.5px,#0ef 7.5px,#00b8ff 8.5px,#0087ff 9.5px,#005dff 10.5px,#003bff 11.5px,#001fff 12.5px,#000bff 13.5px,#0000fa 14.5px,#0000ef 15.5px,#0000e3 17.5px,#0000dc 21.5px,#0000db 90.5px)"></i>
<i style="background:linear-gradient(90deg,#f3ff0c 0.5px,#efff10 1.5px,#dbff24 2.5px,#baff45 3.5px,#8dff72 4.5px,#1fffe0 6.5px,#00e6ff 7.5px,#00b1ff 8.5px,#0081ff 9.5px,#0058ff 10.5px,#0036ff 11.5px,#001cff 12.5px,#0008ff 13.5px,#0000f8 14.5px,#00e 15.5px,#0000e2 17.5px,#0000dc 21.5px,#0000db 90.5px)"></i>
<i style="background:linear-gradient(90deg,#eaff15 0.5px,#e6ff19 1.5px,#d2ff2d 2.5px,#b1ff4e 3.5px,#84ff7b 4.5px,#17ffe8 6.5px,#00deff 7.5px,#0af 8.5px,#007bff 9.5px,#0053ff 10.5px,#0032ff 11.5px,#0019ff 12.5px,#0005ff 13.5px,#0000f6 14.5px,#0000ed 15.5px,#0000e2 17.5px,#0000dc 21.5px,#0000db 90.5px)"></i>
<i style="background:linear-gradient(90deg,#e0ff1f 0.5px,#dcff23 1.5px,#c8ff37 2.5px,#a7ff58 3.5px,#7aff85 4.5px,#0efff1 6.5px,#00d6ff 7.5px,#00a2ff 8.5px,#0074ff 9.5px,#004dff 10.5px,#002eff 11.5px,#0015ff 12.5px,#0003ff 13.5px,#0000eb 15.5px,#0000e5 16.5px,#0000df 18.5px,#0000dc 21.5px,#0000db 90.5px)"></i>
<i style="background:linear-gradient(90deg,#d0ff2f 0.5px,#cf3 1.5px,#b9ff46 2.5px,#98ff67 3.5px,#6cff93 4.5px,#02fffd 6.5px,#09f 8.5px,#006dff 9.5px,#0047ff 10.5px,#0029ff 11.5px,#01f 12.5px,#00f 13.5px,#0000f2 14.5px,#0000e4 16.5px,#0000dc 20.5px,#0000db 90.5px)"></i>
<i style="background:linear-gradient(90deg,#bcff43 0.5px,#b8ff47 1.5px,#a5ff5a 2.5px,#85ff7a 3.5px,#5affa5 4.5px,#28ffd7 5.5px,#00f3ff 6.5px,#008eff 8.5px,#0064ff 9.5px,#0040ff 10.5px,#0023ff 11.5px,#000dff 12.5px,#0000fc 13.5px,#0000f0 14.5px,#0000e3 16.5px,#0000dc 20.5px,#0000db 90.5px)"></i>
<i style="background:linear-gradient(90deg,#a5ff5a 0.5px,#a1ff5e 1.5px,#8fff70 2.5px,#70ff8f 3.5px,#46ffb9 4.5px,#16ffe9 5.5px,#00e2ff 6.5px,#0083ff 8.5px,#005aff 9.5px,#0038ff 10.5px,#001dff 11.5px,#0009ff 12.5px,#0000f9 13.5px,#00e 14.5px,#0000e2 16.5px,#0000dc 20.5px,#0000db 90.5px)"></i>
<i style="background:linear-gradient(90deg,#8cff73 0.5px,#8f7 1.5px,#7f8 2.5px,#59ffa6 3.5px,#31ffce 4.5px,#03fffc 5.5px,#07f 8.5px,#0051ff 9.5px,#0031ff 10.5px,#0018ff 11.5px,#0005ff 12.5px,#0000f6 13.5px,#0000ec 14.5px,#0000e1 16.5px,#0000dc 20.5px,#0000db 90.5px)"></i>
<i style="background:linear-gradient(90deg,#71ff8e 0.5px,#6eff91 1.5px,#5dffa2 2.5px,#41ffbe 3.5px,#1bffe4 4.5px,#0ef 5.5px,#0094ff 7.5px,#006bff 8.5px,#0047ff 9.5px,#0029ff 10.5px,#0012ff 11.5px,#0001ff 12.5px,#0000f3 13.5px,#0000e4 15.5px,#0000dc 19.5px,#0000db 90.5px)"></i>
<i style="background:linear-gradient(90deg,#51ffae 0.5px,#4effb1 1.5px,#3effc1 2.5px,#23ffdc 3.5px,#0ff 4.5px,#0083ff 7.5px,#005dff 8.5px,#003cff 9.5px,#0021ff 10.5px,#000cff 11.5px,#0000fb 12.5px,#0000f0 13.5px,#0000e3 15.5px,#0000dc 19.5px,#0000db 90.5px)"></i>
<i style="background:linear-gradient(90deg,#2effd1 0.5px,#2bffd4 1.5px,#1cffe3 2.5px,#04fffb 3.5px,#00e2ff 4.5px,#0071ff 7.5px,#0031ff 9.5px,#0019ff 10.5px,#0006ff 11.5px,#0000f7 12.5px,#0000ed 13.5px,#0000e2 15.5px,#0000dc 19.5px,#0000db 90.5px)"></i>
<i style="background:linear-gradient(90deg,#0cfff3 0.5px,#09fff6 1.5px,#00fbff 2.5px,#00e5ff 3.5px,#00c7ff 4.5px,#0060ff 7.5px,#0041ff 8.5px,#0027ff 9.5px,#00f 11.5px,#0000f3 12.5px,#0000e5 14.5px,#0000dc 18.5px,#0000db 90.5px)"></i>
<i style="background:linear-gradient(90deg,#0ef 0.5px,#00ecff 1.5px,#00e0ff 2.5px,#00cbff 3.5px,#00b0ff 4.5px,#0052ff 7.5px,#0036ff 8.5px,#000bff 10.5px,#0000fb 11.5px,#0000f0 12.5px,#0000e3 14.5px,#0000dc 18.5px,#0000db 90.5px)"></i>
<i style="background:linear-gradient(90deg,#00d3ff 0.5px,#00d1ff 1.5px,#00c6ff 2.5px,#00b3ff 3.5px,#002bff 8.5px,#0005ff 10.5px,#0000f7 11.5px,#0000ed 12.5px,#0000e2 14.5px,#0000dc 18.5px,#0000db 90.5px)"></i>
<i style="background:linear-gradient(90deg,#00b9ff 0.5px,#00b7ff 1.5px,#00adff 2.5px,#009cff 3.5px,#02f 8.5px,#0000fe 10.5px,#0000f3 11.5px,#0000e5 13.5px,#0000df 15.5px,#0000dc 18.5px,#0000db 90.5px)"></i>
<i style="background:linear-gradient(90deg,#00a2ff 0.5px,#00a0ff 1.5px,#0097ff 2.5px,#0087ff 3.5px,#0019ff 8.5px,#0008ff 9.5px,#0000fa 10.5px,#0000f0 11.5px,#0000e3 13.5px,#0000dc 18.5px,#0000db 90.5px)"></i>
<i style="background:linear-gradient(90deg,#008dff 0.5px,#008bff 1.5px,#0083ff 2.5px,#0062ff 4.5px,#01f 8.5px,#0002ff 9.5px,#0000f6 10.5px,#0000e2 13.5px,#0000dc 17.5px,#0000db 90.5px)"></i>
<i style="background:linear-gradient(90deg,#007aff 0.5px,#0079ff 1.5px,#0072ff 2.5px,#0065ff 3.5px,#001cff 7.5px,#0000fd 9.5px,#0000f2 10.5px,#0000e5 12.5px,#0000df 14.5px,#0000dc 17.5px,#0000db 90.5px)"></i>
<i style="background:linear-gradient(90deg,#0067ff 0.5px,#0069ff 1.5px,#0063ff 2.5px,#0059ff 3.5px,#0008ff 8.5px,#0000fb 9.5px,#0000e4 12.5px,#0000dc 17.5px,#0000db 90.5px)"></i>
<i style="background:linear-gradient(90deg,#004fff 0.5px,#0059ff 1.5px,#004eff 3.5px,#0008ff 8.5px,#0000fb 9.5px,#0000e5 12.5px,#0000dc 17.5px,#0000db 90.5px)"></i>
<i style="background:linear-gradient(90deg,#0037ff 0.5px,#0046ff 1.5px,#004aff 2.5px,#0045ff 3.5px,#0030ff 5.5px,#0008ff 8.5px,#0000fb 9.5px,#0000e5 12.5px,#0000df 14.5px,#0000dc 17.5px,#0000db 90.5px)"></i>
<i style="background:linear-gradient(90deg,#02f 0.5px,#003eff 2.5px,#003cff 3.5px,#002cff 5.5px,#0008ff 8.5px,#0000fc 9.5px,#0000e6 12.5px,#0000df 14.5px,#0000dc 17.5px,#0000db 90.5px)"></i>
<i style="background:linear-gradient(90deg,#01f 0.5px,#001dff 1.5px,#0030ff 2.5px,#03f 3.5px,#0029ff 5.5px,#0000fd 9.5px,#0000ed 11.5px,#0000e3 13.5px,#0000dc 17.5px,#0000db 90.5px)"></i>
<i style="background:linear-gradient(90deg,#0003ff 0.5px,#000cff 1.5px,#0021ff 2.5px,#002cff 3.5px,#0026ff 5.5px,#0000fe 9.5px,#00e 11.5px,#0000e3 13.5px,#0000dc 17.5px,#0000db 90.5px)"></i>
<i style="background:linear-gradient(90deg,#0000f4 0.5px,#0000fb 1.5px,#0023ff 3.5px,#0026ff 4.5px,#001cff 6.5px,#00f 9.5px,#0000ef 11.5px,#0000e4 13.5px,#0000dc 18.5px,#0000db 90.5px)"></i>
<i style="background:linear-gradient(90deg,#0000e9 0.5px,#0000ed 1.5px,#00f 2.5px,#0016ff 3.5px,#0020ff 4.5px,#001aff 6.5px,#0002ff 9.5px,#0000f8 10.5px,#0000ea 12.5px,#0000e1 14.5px,#0000dc 18.5px,#0000db 90.5px)"></i>
<i style="background:linear-gradient(90deg,#0000df 0.5px,#0000e1 1.5px,#0000f0 2.5px,#0007ff 3.5px,#0018ff 4.5px,#001bff 5.5px,#0012ff 7.5px,#0002ff 9.5px,#0000e6 13.5px,#0000dc 18.5px,#0000db 90.5px)"></i>
<i style="background:linear-gradient(90deg,#0000d8 0.5px,#0000d8 1.5px,#0000e2 2.5px,#0000f7 3.5px,#000dff 4.5px,#0016ff 5.5px,#0015ff 6.5px,#0003ff 9.5px,#0000fa 10.5px,#0000e3 14.5px,#0000dc 18.5px,#0000db 90.5px)"></i>
<i style="background:linear-gradient(90deg,#0000d1 0.5px,#0000d1 1.5px,#0000d7 2.5px,#0000fe 4.5px,#000fff 5.5px,#01f 6.5px,#000fff 7.5px,#0004ff 9.5px,#0000fb 10.5px,#0000e4 14.5px,#0000dc 19.5px,#0000db 90.5px)"></i>
<i style="background:linear-gradient(90deg,#0000ca 0.5px,#0000cd 2.5px,#0000dc 3.5px,#0000f1 4.5px,#0005ff 5.5px,#000dff 6.5px,#0004ff 9.5px,#0000fc 10.5px,#0000e5 14.5px,#0000dc 19.5px,#0000db 90.5px)"></i>
<i style="background:linear-gradient(90deg,#0000c4 0.5px,#0000c5 2.5px,#0000d0 3.5px,#0000f8 5.5px,#0007ff 6.5px,#000aff 7.5px,#0000fc 10.5px,#0000e6 14.5px,#0000dc 19.5px,#0000db 90.5px)"></i>
<i style="background:linear-gradient(90deg,#0000be 0.5px,#0000be 2.5px,#0000c6 3.5px,#0000fd 6.5px,#0006ff 7.5px,#0000fc 10.5px,#0000e7 14.5px,#0000e0 16.5px,#0000dc 20.5px,#0000db 90.5px)"></i>
<i style="background:linear-gradient(90deg,#0000b8 0.5px,#0000b8 2.5px,#0000bc 3.5px,#0000cb 4.5px,#0000f3 6.5px,#0001ff 7.5px,#0000fc 10.5px,#0000e1 16.5px,#0000dc 20.5px,#0000db 90.5px)"></i>
<i style="background:linear-gradient(90deg,#0000b3 0.5px,#0000b5 3.5px,#0000c0 4.5px,#0000f9 7.5px,#00f 8.5px,#0000fc 10.5px,#0000e1 16.5px,#0000dc 20.5px,#0000db 90.5px)"></i>
<i style="background:linear-gradient(90deg,#0000ae 0.5px,#0000ae 3.5px,#0000b7 4.5px,#0000f0 7.5px,#0000fb 8.5px,#0000fd 9.5px,#0000e2 16.5px,#0000dc 20.5px,#0000db 90.5px)"></i>
<i style="background:linear-gradient(90deg,#0000a9 0.5px,#0000a9 3.5px,#0000af 4.5px,#0000be 5.5px,#0000e6 7.5px,#0000f5 8.5px,#0000fb 9.5px,#0000f7 11.5px,#0000e0 17.5px,#0000dc 21.5px,#0000db 90.5px)"></i>
<i style="background:linear-gradient(90deg,#0000a5 0.5px,#0000a8 4.5px,#0000b5 5.5px,#0000ed 8.5px,#0000f8 9.5px,#0000f6 11.5px,#0000e1 17.5px,#0000dc 21.5px,#0000db 90.5px)"></i>
<i style="background:linear-gradient(90deg,#0000a1 0.5px,#0000a2 4.5px,#0000ac 5.5px,#0000e4 8.5px,#0000f2 9.5px,#0000f6 10.5px,#0000e0 18.5px,#0000dc 22.5px,#0000db 90.5px)"></i>
<i style="background:linear-gradient(90deg,#00009d 0.5px,#00009d 4.5px,#0000a5 5.5px,#0000eb 9.5px,#0000f4 10.5px,#0000f2 12.5px,#0000e0 18.5px,#0000dc 22.5px,#0000db 90.5px)"></i>
<i style="background:linear-gradient(90deg,#009 0.5px,#009 4.5px,#00009e 5.5px,#0000ab 6.5px,#0000e3 9.5px,#0000ef 10.5px,#0000f2 11.5px,#0000e1 18.5px,#0000dc 23.5px,#0000db 90.5px)"></i>
<i style="background:linear-gradient(90deg,#000096 0.5px,#000098 5.5px,#0000a3 6.5px,#0000e9 10.5px,#0000f0 11.5px,#00e 13.5px,#0000df 19.5px,#0000dc 23.5px,#0000db 90.5px)"></i>
<i style="background:linear-gradient(90deg,#000092 0.5px,#000093 5.5px,#00009c 6.5px,#0000ac 7.5px,#0000e2 10.5px,#0000ed 11.5px,#00e 12.5px,#0000df 19.5px,#0000dc 24.5px,#0000db 90.5px)"></i>
<i style="background:linear-gradient(90deg,#00008f 0.5px,#000090 5.5px,#000096 6.5px,#0000a4 7.5px,#0000da 10.5px,#0000e7 11.5px,#0000ed 12.5px,#0000de 20.5px,#0000dc 24.5px,#0000db 90.5px)"></i>
<i style="background:linear-gradient(90deg,#00008d 0.5px,#00008d 5.5px,#000091 6.5px,#00009d 7.5px,#0000e1 11.5px,#0000ea 12.5px,#0000eb 13.5px,#0000df 20.5px,#0000dc 24.5px,#0000db 90.5px)"></i>
<i style="background:linear-gradient(90deg,#00008b 0.5px,#00008d 6.5px,#000097 7.5px,#0000a6 8.5px,#0000da 11.5px,#0000e6 12.5px,#0000e9 13.5px,#0000de 21.5px,#0000dc 25.5px,#0000db 90.5px)"></i>
<i style="background:linear-gradient(90deg,#000089 0.5px,#00008a 6.5px,#000092 7.5px,#00009f 8.5px,#0000d3 11.5px,#0000e1 12.5px,#0000e8 13.5px,#0000dc 25.5px,#0000db 90.5px)"></i>
<i style="background:linear-gradient(90deg,#008 0.5px,#008 6.5px,#00008e 7.5px,#00009a 8.5px,#0000db 12.5px,#0000e4 13.5px,#0000e7 14.5px,#0000db 26.5px,#0000db 90.5px)"></i>
<i style="background:linear-gradient(90deg,#000087 0.5px,#000087 6.5px,#00008b 7.5px,#0000a4 9.5px,#0000d5 12.5px,#0000e0 13.5px,#0000e5 14.5px,#0000dc 26.5px,#0000db 90.5px)"></i>
<i style="background:linear-gradient(90deg,#000086 0.5px,#008 7.5px,#00009e 9.5px,#0000cf 12.5px,#0000dc 13.5px,#0000e3 14.5px,#0000e4 15.5px,#0000dc 26.5px,#0000db 90.5px)"></i>
<i style="background:linear-gradient(90deg,#000086 0.5px,#000087 7.5px,#00008d 8.5px,#009 9.5px,#0000d7 13.5px,#0000e0 14.5px,#0000e4 15.5px,#0000db 27.5px,#0000db 90.5px)"></i>
<i style="background:linear-gradient(90deg,#000085 0.5px,#000085 7.5px,#00008a 8.5px,#0000a3 10.5px,#0000d2 13.5px,#0000e3 15.5px,#0000db 27.5px,#0000db 90.5px)"></i>
<i style="background:linear-gradient(90deg,#000085 0.5px,#000085 7.5px,#008 8.5px,#00009f 10.5px,#0000d9 14.5px,#0000e1 15.5px,#0000e3 16.5px,#0000db 28.5px,#0000db 90.5px)"></i>
<i style="background:linear-gradient(90deg,#000084 0.5px,#000087 8.5px,#00009a 10.5px,#0000d5 14.5px,#0000de 15.5px,#0000e2 16.5px,#0000db 28.5px,#0000db 90.5px)"></i>
</div>
<div class="p" style="clip-path:polygon(0.50px 16.00px,2.53px 15.97px,4.56px 15.89px,6.59px 15.76px,8.62px 15.57px,10.65px 15.33px,12.68px 15.03px,14.71px 14.68px,16.74px 14.28px,18.77px 13.82px,20.80px 13.31px,22.83px 12.74px,24.86px 12.12px,26.89px 11.45px,28.92px 10.73px,30.95px 9.95px,32.98px 9.11px,35.01px 8.22px,37.04px 7.28px,39.07px 6.29px,41.10px 5.24px,43.13px 4.13px,45.16px 2.98px,47.19px 1.76px,49.22px 0.50px,91.10px 0.50px,91.10px 101.40px,0.50px 101.40px);left:213px;top:160px;width:92px">
<i style="background:linear-gradient(90deg,#7fff80 0.5px,#78ff87 2.5px,#62ff9d 4.5px,#41ffbe 6.5px,#01fffe 9.5px,#005eff 16.5px,#0013ff 19.5px,#00f 20.5px,#0000e6 22.5px,#0000df 23.5px,#0000db 25.5px,#0000db 91.5px)"></i>
<i style="background:linear-gradient(90deg,#80ff7f 0.5px,#78ff87 2.5px,#63ff9c 4.5px,#42ffbd 6.5px,#01fffe 9.5px,#005fff 16.5px,#0013ff 19.5px,#00f 20.5px,#0000e6 22.5px,#0000df 23.5px,#0000db 25.5px,#0000db 91.5px)"></i>
<i style="background:linear-gradient(90deg,#80ff7f 0.5px,#79ff86 2.5px,#64ff9b 4.5px,#42ffbd 6.5px,#02fffd 9.5px,#005fff 16.5px,#0013ff 19.5px,#00f 20.5px,#0000e6 22.5px,#0000df 23.5px,#0000db 25.5px,#0000db 91.5px)"></i>
<i style="background:linear-gradient(90deg,#82ff7d 0.5px,#7bff84 2.5px,#65ff9a 4.5px,#4fb 6.5px,#03fffc 9.5px,#07f 15.5px,#0013ff 19.5px,#00f 20.5px,#0000e6 22.5px,#0000df 23.5px,#0000db 25.5px,#0000db 91.5px)"></i>
<i style="background:linear-gradient(90deg,#84ff7b 0.5px,#7cff83 2.5px,#67ff98 4.5px,#45ffba 6.5px,#04fffb 9.5px,#00ebff 10.5px,#0078ff 15.5px,#002bff 18.5px,#00f 20.5px,#0000e6 22.5px,#0000df 23.5px,#0000db 25.5px,#0000db 91.5px)"></i>
<i style="background:linear-gradient(90deg,#86ff79 0.5px,#7fff80 2.5px,#69ff96 4.5px,#48ffb7 6.5px,#06fff9 9.5px,#00edff 10.5px,#0061ff 16.5px,#002bff 18.5px,#00f 20.5px,#0000e6 22.5px,#0000e0 23.5px,#0000db 25.5px,#0000db 91.5px)"></i>
<i style="background:linear-gradient(90deg,#89ff76 0.5px,#82ff7d 2.5px,#6cff93 4.5px,#4affb5 6.5px,#08fff7 9.5px,#00efff 10.5px,#0062ff 16.5px,#002cff 18.5px,#00f 20.5px,#0000e6 22.5px,#0000e0 23.5px,#0000db 25.5px,#0000db 91.5px)"></i>
<i style="background:linear-gradient(90deg,#8dff72 0.5px,#85ff7a 2.5px,#6fff90 4.5px,#4dffb2 6.5px,#0bfff4 9.5px,#00f1ff 10.5px,#0063ff 16.5px,#002dff 18.5px,#0001ff 20.5px,#0000e6 22.5px,#0000e0 23.5px,#0000db 25.5px,#0000db 91.5px)"></i>
<i style="background:linear-gradient(90deg,#91ff6e 0.5px,#8aff75 2.5px,#73ff8c 4.5px,#51ffae 6.5px,#0dfff2 9.5px,#00f4ff 10.5px,#0064ff 16.5px,#002dff 18.5px,#0001ff 20.5px,#0000e6 22.5px,#0000e0 23.5px,#0000db 25.5px,#0000db 91.5px)"></i>
<i style="background:linear-gradient(90deg,#96ff69 0.5px,#8eff71 2.5px,#78ff87 4.5px,#5fa 6.5px,#1fe 9.5px,#00f7ff 10.5px,#06f 16.5px,#002eff 18.5px,#0002ff 20.5px,#0000e6 22.5px,#0000e0 23.5px,#0000db 25.5px,#0000db 91.5px)"></i>
<i style="background:linear-gradient(90deg,#9bff64 0.5px,#94ff6b 2.5px,#7dff82 4.5px,#59ffa6 6.5px,#15ffea 9.5px,#00faff 10.5px,#0067ff 16.5px,#002fff 18.5px,#0002ff 20.5px,#0000e7 22.5px,#0000e0 23.5px,#0000db 25.5px,#0000db 91.5px)"></i>
<i style="background:linear-gradient(90deg,#a1ff5e 0.5px,#9f6 2.5px,#82ff7d 4.5px,#72ff8d 5.5px,#49ffb6 7.5px,#00feff 10.5px,#0069ff 16.5px,#0030ff 18.5px,#0003ff 20.5px,#0000e7 22.5px,#0000e0 23.5px,#0000db 25.5px,#0000db 91.5px)"></i>
<i style="background:linear-gradient(90deg,#a8ff57 0.5px,#a0ff5f 2.5px,#89ff76 4.5px,#78ff87 5.5px,#4effb1 7.5px,#03fffc 10.5px,#00e8ff 11.5px,#0085ff 15.5px,#0018ff 19.5px,#0003ff 20.5px,#0000f2 21.5px,#0000e0 23.5px,#0000db 25.5px,#0000db 91.5px)"></i>
<i style="background:linear-gradient(90deg,#afff50 0.5px,#a7ff58 2.5px,#8fff70 4.5px,#7eff81 5.5px,#54ffab 7.5px,#08fff7 10.5px,#00edff 11.5px,#08f 15.5px,#0019ff 19.5px,#0004ff 20.5px,#0000f2 21.5px,#0000e0 23.5px,#0000db 25.5px,#0000db 91.5px)"></i>
<i style="background:linear-gradient(90deg,#b7ff48 0.5px,#afff50 2.5px,#97ff68 4.5px,#86ff79 5.5px,#5bffa4 7.5px,#0dfff2 10.5px,#00f1ff 11.5px,#0070ff 16.5px,#001aff 19.5px,#0004ff 20.5px,#0000f3 21.5px,#0000e0 23.5px,#0000db 25.5px,#0000db 91.5px)"></i>
<i style="background:linear-gradient(90deg,#c0ff3f 0.5px,#b8ff47 2.5px,#9fff60 4.5px,#8dff72 5.5px,#62ff9d 7.5px,#13ffec 10.5px,#00f6ff 11.5px,#0073ff 16.5px,#001bff 19.5px,#0005ff 20.5px,#0000f3 21.5px,#0000e0 23.5px,#0000db 25.5px,#0000db 91.5px)"></i>
<i style="background:linear-gradient(90deg,#cdff32 0.5px,#c4ff3b 2.5px,#b9ff46 3.5px,#9f6 5.5px,#6cff93 7.5px,#00feff 11.5px,#07f 16.5px,#001dff 19.5px,#0006ff 20.5px,#0000f4 21.5px,#0000e0 23.5px,#0000db 25.5px,#0000db 91.5px)"></i>
<i style="background:linear-gradient(90deg,#ecff13 0.5px,#e3ff1c 2.5px,#d7ff28 3.5px,#b5ff4a 5.5px,#85ff7a 7.5px,#1fe 11.5px,#00f2ff 12.5px,#0080ff 16.5px,#003eff 18.5px,#0021ff 19.5px,#0009ff 20.5px,#0000f5 21.5px,#0000e1 23.5px,#0000db 25.5px,#0000db 91.5px)"></i>
<i style="background:linear-gradient(90deg,#ffec00 0.5px,#ffef00 1.5px,#fcff03 3.5px,#ebff14 4.5px,#d6ff29 5.5px,#a3ff5c 7.5px,#07fff8 12.5px,#00e7ff 13.5px,#008cff 16.5px,#0045ff 18.5px,#0026ff 19.5px,#000cff 20.5px,#0000f7 21.5px,#0000e9 22.5px,#0000e1 23.5px,#0000db 25.5px,#0000db 91.5px)"></i>
<i style="background:linear-gradient(90deg,#ffbf00 0.5px,#ffc200 1.5px,#ffca00 2.5px,#ffd700 3.5px,#ff0 5.5px,#e5ff1a 6.5px,#a8ff57 8.5px,#1fffe0 12.5px,#00fcff 13.5px,#009aff 16.5px,#004eff 18.5px,#002cff 19.5px,#0010ff 20.5px,#0000fa 21.5px,#0000eb 22.5px,#0000e1 23.5px,#0000db 25.5px,#0000db 91.5px)"></i>
<i style="background:linear-gradient(90deg,#ff8e00 0.5px,#ff9100 1.5px,#f90 2.5px,#ffa700 3.5px,#fb0 4.5px,#ffef00 6.5px,#efff10 7.5px,#a9ff56 9.5px,#14ffeb 13.5px,#00f0ff 14.5px,#0af 16.5px,#0057ff 18.5px,#0032ff 19.5px,#0014ff 20.5px,#0000fc 21.5px,#0000ec 22.5px,#0000e2 23.5px,#0000db 25.5px,#0000db 91.5px)"></i>
<i style="background:linear-gradient(90deg,#ff6100 0.5px,#ff6400 1.5px,#ff6d00 2.5px,#ff7d00 3.5px,#ffab00 5.5px,#ffeb00 7.5px,#efff10 8.5px,#04fffb 14.5px,#00dfff 15.5px,#00b8ff 16.5px,#005fff 18.5px,#0038ff 19.5px,#0018ff 20.5px,#0000fe 21.5px,#0000ed 22.5px,#0000e2 23.5px,#0000db 25.5px,#0000db 91.5px)"></i>
<i style="background:linear-gradient(90deg,#ff3600 0.5px,#ff3900 1.5px,#ff4300 2.5px,#ff5300 3.5px,#ff6900 4.5px,#ffa500 6.5px,#ffef00 8.5px,#e6ff19 9.5px,#16ffe9 14.5px,#00efff 15.5px,#00c5ff 16.5px,#0067ff 18.5px,#003eff 19.5px,#001bff 20.5px,#0001ff 21.5px,#00e 22.5px,#0000e3 23.5px,#0000db 25.5px,#0000db 91.5px)"></i>
<i style="background:linear-gradient(90deg,#ff0b00 0.5px,#ff0f00 1.5px,#ff1900 2.5px,#ff2a00 3.5px,#ff4100 4.5px,#ff8000 6.5px,#ffa600 7.5px,#fffa00 9.5px,#d8ff27 10.5px,#28ffd7 14.5px,#0ff 15.5px,#00d2ff 16.5px,#006fff 18.5px,#0043ff 19.5px,#001fff 20.5px,#0003ff 21.5px,#0000ef 22.5px,#0000e3 23.5px,#0000db 25.5px,#0000db 91.5px)"></i>
<i style="background:linear-gradient(90deg,#e00000 0.5px,#e40000 1.5px,#ef0000 2.5px,#ff0200 3.5px,#ff1a00 4.5px,#ff3900 5.5px,#ff5c00 6.5px,#ff8400 7.5px,#fd0 9.5px,#f2ff0d 10.5px,#6f9 13.5px,#0ffff0 15.5px,#00dfff 16.5px,#07f 18.5px,#0049ff 19.5px,#0023ff 20.5px,#0006ff 21.5px,#0000f0 22.5px,#0000e4 23.5px,#0000db 25.5px,#0000db 91.5px)"></i>
<i style="background:linear-gradient(90deg,#b70000 0.5px,#b00 1.5px,#c70000 2.5px,#d90000 3.5px,#f30000 4.5px,#ff1400 5.5px,#ff6300 7.5px,#fff100 10.5px,#dbff24 11.5px,#79ff86 13.5px,#1effe1 15.5px,#00ecff 16.5px,#007eff 18.5px,#004eff 19.5px,#0026ff 20.5px,#0008ff 21.5px,#0000f1 22.5px,#0000e4 23.5px,#0000db 25.5px,#0000db 91.5px)"></i>
<i style="background:linear-gradient(90deg,#850000 0.5px,#890000 1.5px,#950000 2.5px,#a90000 3.5px,#c30000 4.5px,#e50000 5.5px,#ff0d00 6.5px,#ff6900 8.5px,#ffd100 10.5px,#f8ff07 11.5px,#5dffa2 14.5px,#2effd1 15.5px,#00f9ff 16.5px,#0085ff 18.5px,#0052ff 19.5px,#0028ff 20.5px,#0009ff 21.5px,#0000f2 22.5px,#0000e4 23.5px,#0000db 25.5px,#0000db 91.5px)"></i>
<i style="background:linear-gradient(90deg,#800000 0.5px,#800000 4.5px,#930000 5.5px,#bd0000 6.5px,#ed0000 7.5px,#ff2400 8.5px,#ffd900 11.5px,#e7ff18 12.5px,#70ff8f 14.5px,#00fdff 16.5px,#007fff 18.5px,#004bff 19.5px,#02f 20.5px,#0004ff 21.5px,#00e 22.5px,#0000e2 23.5px,#0000db 25.5px,#0000db 91.5px)"></i>
<i style="background:linear-gradient(90deg,#800000 0.5px,#800000 6.5px,#930000 7.5px,#d00000 8.5px,#ff1400 9.5px,#fff200 12.5px,#c2ff3d 13.5px,#3affc5 15.5px,#00f4ff 16.5px,#00aeff 17.5px,#006fff 18.5px,#003bff 19.5px,#0015ff 20.5px,#0000f9 21.5px,#0000e9 22.5px,#0000e0 23.5px,#0000db 25.5px,#0000db 91.5px)"></i>
<i style="background:linear-gradient(90deg,#800000 0.5px,#800000 7.5px,#8f0000 8.5px,#d90000 9.5px,#ff2c00 10.5px,#ffda00 12.5px,#cdff32 13.5px,#7aff85 14.5px,#2effd1 15.5px,#00e0ff 16.5px,#0096ff 17.5px,#0057ff 18.5px,#0027ff 19.5px,#0006ff 20.5px,#0000f0 21.5px,#0000e4 22.5px,#0000de 23.5px,#0000db 25.5px,#0000db 91.5px)"></i>
<i style="background:linear-gradient(90deg,#800000 0.5px,#800000 8.5px,#9c0000 9.5px,#f80000 10.5px,#ff5d00 11.5px,#ffc500 12.5px,#d1ff2e 13.5px,#6eff91 14.5px,#14ffeb 15.5px,#00beff 16.5px,#0072ff 17.5px,#0036ff 18.5px,#000dff 19.5px,#0000f3 20.5px,#0000e5 21.5px,#0000df 22.5px,#0000db 24.5px,#0000db 91.5px)"></i>
<i style="background:linear-gradient(90deg,#800000 0.5px,#800000 8.5px,#850000 9.5px,#e80000 10.5px,#ff5800 11.5px,#fc0 12.5px,#beff41 13.5px,#50ffaf 14.5px,#00edff 15.5px,#0096ff 16.5px,#004dff 17.5px,#001aff 18.5px,#0000f9 19.5px,#0000e8 20.5px,#0000e0 21.5px,#0000dc 23.5px,#0000db 91.5px)"></i>
<i style="background:linear-gradient(90deg,#800000 0.5px,#800000 8.5px,#920000 9.5px,#fa0000 10.5px,#ff6e00 11.5px,#ffe500 12.5px,#a2ff5d 13.5px,#34ffcb 14.5px,#00d2ff 15.5px,#007fff 16.5px,#003cff 17.5px,#000eff 18.5px,#0000f2 19.5px,#0000e4 20.5px,#0000de 21.5px,#0000db 23.5px,#0000db 91.5px)"></i>
<i style="background:linear-gradient(90deg,#800000 0.5px,#800000 8.5px,#af0000 9.5px,#ff1a00 10.5px,#fbff04 12.5px,#89ff76 13.5px,#20ffdf 14.5px,#00c4ff 15.5px,#0075ff 16.5px,#0037ff 17.5px,#000cff 18.5px,#0000f1 19.5px,#0000e4 20.5px,#0000de 21.5px,#0000db 23.5px,#0000db 91.5px)"></i>
<i style="background:linear-gradient(90deg,#800000 0.5px,#800000 8.5px,#d40000 9.5px,#ff3f00 10.5px,#ffaf00 11.5px,#deff21 12.5px,#73ff8c 13.5px,#12ffed 14.5px,#00bdff 15.5px,#0074ff 16.5px,#0039ff 17.5px,#000fff 18.5px,#0000f4 19.5px,#0000e6 20.5px,#0000df 21.5px,#0000dc 23.5px,#0000db 91.5px)"></i>
<i style="background:linear-gradient(90deg,#800000 0.5px,#800000 7.5px,#9c0000 8.5px,#fe0000 9.5px,#ffd200 11.5px,#c2ff3d 12.5px,#60ff9f 13.5px,#07fff8 14.5px,#00b9ff 15.5px,#0076ff 16.5px,#003dff 17.5px,#0014ff 18.5px,#0000f8 19.5px,#0000e8 20.5px,#0000e0 21.5px,#0000dc 23.5px,#0000db 91.5px)"></i>
<i style="background:linear-gradient(90deg,#800000 0.5px,#800000 7.5px,#c50000 8.5px,#ff2800 9.5px,#fff400 11.5px,#a7ff58 12.5px,#4cffb3 13.5px,#00faff 14.5px,#00b4ff 15.5px,#0075ff 16.5px,#0040ff 17.5px,#0017ff 18.5px,#0000fb 19.5px,#0000eb 20.5px,#0000e2 21.5px,#0000db 24.5px,#0000db 91.5px)"></i>
<i style="background:linear-gradient(90deg,#800000 0.5px,#800000 6.5px,#8f0000 7.5px,#ec0000 8.5px,#ff5000 9.5px,#ffb500 10.5px,#e6ff19 11.5px,#8f7 12.5px,#3fc 13.5px,#00e6ff 14.5px,#00a6ff 15.5px,#006cff 16.5px,#003bff 17.5px,#0015ff 18.5px,#0000fa 19.5px,#0000ea 20.5px,#0000e2 21.5px,#0000db 24.5px,#0000db 91.5px)"></i>
<i style="background:linear-gradient(90deg,#800000 0.5px,#800000 6.5px,#bc0000 7.5px,#ff1f00 8.5px,#ffe900 10.5px,#b5ff4a 11.5px,#5bffa4 12.5px,#0bfff4 13.5px,#00c5ff 14.5px,#008bff 15.5px,#0058ff 16.5px,#002dff 17.5px,#000cff 18.5px,#0000f5 19.5px,#0000e8 20.5px,#0000e1 21.5px,#0000db 24.5px,#0000db 91.5px)"></i>
<i style="background:linear-gradient(90deg,#800000 0.5px,#800000 5.5px,#910000 6.5px,#f20000 7.5px,#ff5900 8.5px,#ffbf00 9.5px,#dbff24 10.5px,#7eff81 11.5px,#2affd5 12.5px,#00dfff 13.5px,#00a1ff 14.5px,#006eff 15.5px,#0042ff 16.5px,#001dff 17.5px,#0002ff 18.5px,#0000e5 20.5px,#0000df 21.5px,#0000dc 23.5px,#0000db 91.5px)"></i>
<i style="background:linear-gradient(90deg,#800000 0.5px,#800000 5.5px,#c30000 6.5px,#ff2a00 7.5px,#fff800 9.5px,#a5ff5a 10.5px,#4dffb2 11.5px,#00fdff 12.5px,#00baff 13.5px,#0083ff 14.5px,#0056ff 15.5px,#0030ff 16.5px,#0012ff 17.5px,#0000fa 18.5px,#0000ec 19.5px,#0000e3 20.5px,#0000db 23.5px,#0000db 91.5px)"></i>
<i style="background:linear-gradient(90deg,#800000 0.5px,#800000 4.5px,#8f0000 5.5px,#f00000 6.5px,#ff5800 7.5px,#ffbe00 8.5px,#dcff23 9.5px,#80ff7f 10.5px,#2dffd2 11.5px,#00e3ff 12.5px,#00a6ff 13.5px,#0073ff 14.5px,#004bff 15.5px,#0029ff 16.5px,#000dff 17.5px,#0000f8 18.5px,#0000ea 19.5px,#0000e2 20.5px,#0000db 23.5px,#0000db 91.5px)"></i>
<i style="background:linear-gradient(90deg,#800000 0.5px,#800000 4.5px,#ba0000 5.5px,#ff1a00 6.5px,#ffdf00 8.5px,#c2ff3d 9.5px,#6cff93 10.5px,#1effe1 11.5px,#00daff 12.5px,#00a1ff 13.5px,#0072ff 14.5px,#004cff 15.5px,#002bff 16.5px,#000fff 17.5px,#0000fa 18.5px,#0000ec 19.5px,#0000e3 20.5px,#0000db 23.5px,#0000db 91.5px)"></i>
<i style="background:linear-gradient(90deg,#94ff6b 0.5px,#ff2400 1.5px,#800000 2.5px,#800000 4.5px,#cf0000 5.5px,#ff3200 6.5px,#fcff03 8.5px,#9f6 9.5px,#40ffbf 10.5px,#00f1ff 11.5px,#00afff 12.5px,#0079ff 13.5px,#004eff 14.5px,#002dff 15.5px,#0012ff 16.5px,#0000fc 17.5px,#00e 18.5px,#0000e4 19.5px,#0000dc 22.5px,#0000db 91.5px)"></i>
<i style="background:linear-gradient(90deg,#2fd 0.5px,#3effc1 1.5px,#ff6f00 2.5px,#800000 3.5px,#a30000 4.5px,#ed0000 5.5px,#ff4e00 6.5px,#ffb900 7.5px,#d9ff26 8.5px,#74ff8b 9.5px,#19ffe6 10.5px,#00cbff 11.5px,#008cff 12.5px,#005aff 13.5px,#0034ff 14.5px,#0018ff 15.5px,#0002ff 16.5px,#0000e7 18.5px,#0000e1 19.5px,#0000db 22.5px,#0000db 91.5px)"></i>
<i style="background:linear-gradient(90deg,#00beff 0.5px,#00d1ff 1.5px,#e1ff1e 2.5px,#ff0100 3.5px,#f60000 4.5px,#ff3800 5.5px,#ff9100 6.5px,#fff400 7.5px,#a6ff59 8.5px,#49ffb6 9.5px,#00f6ff 10.5px,#00b0ff 11.5px,#0078ff 12.5px,#004cff 13.5px,#002aff 14.5px,#01f 15.5px,#0000fd 16.5px,#0000ef 17.5px,#0000e5 18.5px,#0000dc 21.5px,#0000db 91.5px)"></i>
<i style="background:linear-gradient(90deg,#006fff 0.5px,#007fff 1.5px,#6bff94 2.5px,#ff7b00 3.5px,#ff4b00 4.5px,#ff8500 5.5px,#ffd500 6.5px,#cfff30 7.5px,#75ff8a 8.5px,#2fd 9.5px,#00d8ff 10.5px,#009aff 11.5px,#0068ff 12.5px,#0041ff 13.5px,#0024ff 14.5px,#000eff 15.5px,#0000fb 16.5px,#0000e5 18.5px,#0000dc 21.5px,#0000db 91.5px)"></i>
<i style="background:linear-gradient(90deg,#0035ff 0.5px,#0041ff 1.5px,#16ffe9 2.5px,#ffda00 3.5px,#ff8b00 4.5px,#ffbf00 5.5px,#f5ff0a 6.5px,#50ffaf 8.5px,#05fffa 9.5px,#00c2ff 10.5px,#008bff 11.5px,#005eff 12.5px,#003aff 13.5px,#001fff 14.5px,#000bff 15.5px,#0000fa 16.5px,#0000e4 18.5px,#0000dc 21.5px,#0000db 91.5px)"></i>
<i style="background:linear-gradient(90deg,#000fff 0.5px,#001aff 1.5px,#00dbff 2.5px,#dfff20 3.5px,#ffb600 4.5px,#ffe500 5.5px,#d2ff2d 6.5px,#38ffc7 8.5px,#00f1ff 9.5px,#00b4ff 10.5px,#0081ff 11.5px,#0057ff 12.5px,#0036ff 13.5px,#001dff 14.5px,#000aff 15.5px,#0000f9 16.5px,#0000e4 18.5px,#0000dc 21.5px,#0000db 91.5px)"></i>
<i style="background:linear-gradient(90deg,#0000f6 0.5px,#0004ff 1.5px,#00b6ff 2.5px,#abff54 3.5px,#ffdb00 4.5px,#faff05 5.5px,#b7ff48 6.5px,#25ffda 8.5px,#00e2ff 9.5px,#00a9ff 10.5px,#0079ff 11.5px,#0052ff 12.5px,#03f 13.5px,#001bff 14.5px,#0009ff 15.5px,#0000f9 16.5px,#0000e4 18.5px,#0000dc 21.5px,#0000db 91.5px)"></i>
<i style="background:linear-gradient(90deg,#0000e7 0.5px,#0000f5 1.5px,#009aff 2.5px,#7bff84 3.5px,#fdff02 4.5px,#df2 5.5px,#9eff61 6.5px,#14ffeb 8.5px,#00d5ff 9.5px,#009fff 10.5px,#0072ff 11.5px,#004dff 12.5px,#0030ff 13.5px,#001aff 14.5px,#0008ff 15.5px,#0000f9 16.5px,#0000e5 18.5px,#0000dc 21.5px,#0000db 91.5px)"></i>
<i style="background:linear-gradient(90deg,#0000d9 0.5px,#0000e6 1.5px,#007bff 2.5px,#4affb5 3.5px,#d4ff2b 4.5px,#c4ff3b 5.5px,#8f7 6.5px,#06fff9 8.5px,#00caff 9.5px,#0097ff 10.5px,#006dff 11.5px,#004aff 12.5px,#002eff 13.5px,#0018ff 14.5px,#0008ff 15.5px,#0000f9 16.5px,#0000e5 18.5px,#0000dc 21.5px,#0000db 91.5px)"></i>
<i style="background:linear-gradient(90deg,#00c 0.5px,#0000d5 1.5px,#05f 2.5px,#15ffea 3.5px,#a6ff59 4.5px,#adff52 5.5px,#76ff89 6.5px,#37ffc8 7.5px,#00f9ff 8.5px,#00c1ff 9.5px,#0090ff 10.5px,#0067ff 11.5px,#0046ff 12.5px,#002cff 13.5px,#0017ff 14.5px,#0007ff 15.5px,#0000fa 16.5px,#0000e6 18.5px,#0000e0 19.5px,#0000db 22.5px,#0000db 91.5px)"></i>
<i style="background:linear-gradient(90deg,#0000c0 0.5px,#0000c6 1.5px,#0031ff 2.5px,#00dfff 3.5px,#74ff8b 4.5px,#95ff6a 5.5px,#63ff9c 6.5px,#28ffd7 7.5px,#00ecff 8.5px,#00b7ff 9.5px,#0089ff 10.5px,#0062ff 11.5px,#0042ff 12.5px,#0029ff 13.5px,#0016ff 14.5px,#0006ff 15.5px,#0000fa 16.5px,#0000e6 18.5px,#0000e1 19.5px,#0000db 22.5px,#0000db 91.5px)"></i>
<i style="background:linear-gradient(90deg,#0000b6 0.5px,#0000ba 1.5px,#0012ff 2.5px,#00b0ff 3.5px,#42ffbd 4.5px,#79ff86 5.5px,#4dffb2 6.5px,#16ffe9 7.5px,#00deff 8.5px,#00acff 9.5px,#0081ff 10.5px,#005cff 11.5px,#003eff 12.5px,#0027ff 13.5px,#0014ff 14.5px,#0005ff 15.5px,#0000f9 16.5px,#0000e1 19.5px,#0000db 22.5px,#0000db 91.5px)"></i>
<i style="background:linear-gradient(90deg,#0000ad 0.5px,#0000b0 1.5px,#0000f6 2.5px,#0087ff 3.5px,#13ffec 4.5px,#59ffa6 5.5px,#37ffc8 6.5px,#04fffb 7.5px,#00a1ff 9.5px,#0078ff 10.5px,#0056ff 11.5px,#003aff 12.5px,#0012ff 14.5px,#0004ff 15.5px,#0000f9 16.5px,#0000e2 19.5px,#0000db 22.5px,#0000db 91.5px)"></i>
<i style="background:linear-gradient(90deg,#0000a7 0.5px,#0000a8 1.5px,#0000dc 2.5px,#0060ff 3.5px,#00e6ff 4.5px,#37ffc8 5.5px,#23ffdc 6.5px,#00f3ff 7.5px,#0098ff 9.5px,#0071ff 10.5px,#0051ff 11.5px,#0036ff 12.5px,#0010ff 14.5px,#0003ff 15.5px,#0000f8 16.5px,#0000e2 19.5px,#0000db 22.5px,#0000db 91.5px)"></i>
<i style="background:linear-gradient(90deg,#0000a1 0.5px,#0000a1 1.5px,#0000c8 2.5px,#0039ff 3.5px,#0bf 4.5px,#17ffe8 5.5px,#14ffeb 6.5px,#00e8ff 7.5px,#0091ff 9.5px,#006cff 10.5px,#004dff 11.5px,#03f 12.5px,#001eff 13.5px,#0002ff 15.5px,#0000e2 19.5px,#0000dc 22.5px,#0000db 91.5px)"></i>
<i style="background:linear-gradient(90deg,#00009e 0.5px,#00009e 1.5px,#0000b6 2.5px,#0013ff 3.5px,#0091ff 4.5px,#00f4ff 5.5px,#08fff7 6.5px,#00dfff 7.5px,#008bff 9.5px,#0067ff 10.5px,#0049ff 11.5px,#001cff 13.5px,#00f 15.5px,#0000e2 19.5px,#0000dc 22.5px,#0000db 91.5px)"></i>
<i style="background:linear-gradient(90deg,#00009c 0.5px,#00009c 1.5px,#0000a9 2.5px,#0000f0 3.5px,#006aff 4.5px,#00d2ff 5.5px,#00f9ff 6.5px,#00d6ff 7.5px,#0086ff 9.5px,#0063ff 10.5px,#0046ff 11.5px,#001aff 13.5px,#0000fe 15.5px,#0000e2 19.5px,#0000dc 22.5px,#0000db 91.5px)"></i>
<i style="background:linear-gradient(90deg,#00009a 0.5px,#00009a 1.5px,#0000a0 2.5px,#0000d7 3.5px,#0048ff 4.5px,#00b2ff 5.5px,#00e7ff 6.5px,#00cdff 7.5px,#0081ff 9.5px,#0043ff 11.5px,#0018ff 13.5px,#0009ff 14.5px,#0000fd 15.5px,#0000e2 19.5px,#0000dc 22.5px,#0000db 91.5px)"></i>
<i style="background:linear-gradient(90deg,#009 0.5px,#00009a 2.5px,#0000c6 3.5px,#0028ff 4.5px,#0092ff 5.5px,#00d2ff 6.5px,#00c4ff 7.5px,#007cff 9.5px,#0040ff 11.5px,#0017ff 13.5px,#0008ff 14.5px,#0000fc 15.5px,#0000ed 17.5px,#0000e3 19.5px,#0000db 23.5px,#0000db 91.5px)"></i>
<i style="background:linear-gradient(90deg,#000097 0.5px,#000097 2.5px,#0000b5 3.5px,#0007ff 4.5px,#006fff 5.5px,#00b9ff 6.5px,#00b9ff 7.5px,#07f 9.5px,#003dff 11.5px,#0015ff 13.5px,#0007ff 14.5px,#0000fb 15.5px,#0000ec 17.5px,#0000e3 19.5px,#0000db 23.5px,#0000db 91.5px)"></i>
<i style="background:linear-gradient(90deg,#000096 0.5px,#000096 2.5px,#0000a6 3.5px,#0000e4 4.5px,#0049ff 5.5px,#009aff 6.5px,#00aeff 7.5px,#0054ff 10.5px,#003aff 11.5px,#0013ff 13.5px,#0005ff 14.5px,#0000f9 15.5px,#0000eb 17.5px,#0000e2 19.5px,#0000db 23.5px,#0000db 91.5px)"></i>
<i style="background:linear-gradient(90deg,#000095 0.5px,#000095 2.5px,#00009c 3.5px,#0000cb 4.5px,#0024ff 5.5px,#0078ff 6.5px,#009fff 7.5px,#0089ff 8.5px,#004fff 10.5px,#0021ff 12.5px,#0003ff 14.5px,#0000f8 15.5px,#0000ea 17.5px,#0000e2 19.5px,#0000dc 23.5px,#0000db 91.5px)"></i>
<i style="background:linear-gradient(90deg,#000095 0.5px,#000096 3.5px,#0000b9 4.5px,#0001ff 5.5px,#0056ff 6.5px,#0089ff 7.5px,#007eff 8.5px,#0049ff 10.5px,#001eff 12.5px,#0001ff 14.5px,#0000ef 16.5px,#0000e5 18.5px,#0000dc 23.5px,#0000db 91.5px)"></i>
<i style="background:linear-gradient(90deg,#000095 0.5px,#000095 3.5px,#0000ab 4.5px,#0000e3 5.5px,#0035ff 6.5px,#006fff 7.5px,#0071ff 8.5px,#002cff 11.5px,#000bff 13.5px,#0000fe 14.5px,#00e 16.5px,#0000e4 18.5px,#0000dc 23.5px,#0000db 91.5px)"></i>
<i style="background:linear-gradient(90deg,#000094 0.5px,#000094 3.5px,#0000a0 4.5px,#0000ce 5.5px,#0016ff 6.5px,#0054ff 7.5px,#0064ff 8.5px,#0016ff 12.5px,#0008ff 13.5px,#0000fc 14.5px,#0000ec 16.5px,#0000e4 18.5px,#0000dc 23.5px,#0000db 91.5px)"></i>
<i style="background:linear-gradient(90deg,#000094 0.5px,#000094 3.5px,#009 4.5px,#0000bd 5.5px,#0000f9 6.5px,#003aff 7.5px,#0056ff 8.5px,#0012ff 12.5px,#0005ff 13.5px,#0000fa 14.5px,#0000eb 16.5px,#0000e3 18.5px,#0000dc 23.5px,#0000db 91.5px)"></i>
<i style="background:linear-gradient(90deg,#000094 0.5px,#000095 4.5px,#0000b0 5.5px,#0000e0 6.5px,#0020ff 7.5px,#0045ff 8.5px,#003eff 9.5px,#001dff 11.5px,#0002ff 13.5px,#0000f8 14.5px,#0000ea 16.5px,#0000e3 18.5px,#0000dc 23.5px,#0000db 91.5px)"></i>
<i style="background:linear-gradient(90deg,#000093 0.5px,#000093 4.5px,#0000a5 5.5px,#0000ce 6.5px,#0008ff 7.5px,#03f 8.5px,#0035ff 9.5px,#00f 13.5px,#0000ef 15.5px,#0000e6 17.5px,#0000dc 23.5px,#0000db 91.5px)"></i>
<i style="background:linear-gradient(90deg,#000093 0.5px,#000093 4.5px,#00009c 5.5px,#0000bf 6.5px,#0000f1 7.5px,#0021ff 8.5px,#002eff 9.5px,#0009ff 12.5px,#0000fd 13.5px,#00e 15.5px,#0000e5 17.5px,#0000dc 23.5px,#0000db 91.5px)"></i>
<i style="background:linear-gradient(90deg,#000093 0.5px,#000093 4.5px,#000096 5.5px,#0000b2 6.5px,#0000db 7.5px,#000eff 8.5px,#0026ff 9.5px,#0007ff 12.5px,#0000fc 13.5px,#00e 15.5px,#0000e5 17.5px,#0000dc 23.5px,#0000db 91.5px)"></i>
<i style="background:linear-gradient(90deg,#000092 0.5px,#000093 5.5px,#0000a7 6.5px,#00c 7.5px,#0000fa 8.5px,#001bff 9.5px,#0019ff 10.5px,#0005ff 12.5px,#0000fb 13.5px,#0000ed 15.5px,#0000e5 17.5px,#0000dc 23.5px,#0000db 91.5px)"></i>
<i style="background:linear-gradient(90deg,#000092 0.5px,#000092 5.5px,#00009e 6.5px,#0000be 7.5px,#0000e7 8.5px,#000eff 9.5px,#0015ff 10.5px,#0003ff 12.5px,#0000fa 13.5px,#0000e5 17.5px,#0000dc 23.5px,#0000db 91.5px)"></i>
<i style="background:linear-gradient(90deg,#000092 0.5px,#000092 5.5px,#000098 6.5px,#0000b3 7.5px,#0001ff 9.5px,#01f 10.5px,#0002ff 12.5px,#0000f9 13.5px,#0000e5 17.5px,#0000dc 24.5px,#0000db 91.5px)"></i>
<i style="background:linear-gradient(90deg,#000091 0.5px,#000094 6.5px,#00a 7.5px,#0000f2 9.5px,#000bff 10.5px,#00f 12.5px,#0000ed 15.5px,#0000e5 17.5px,#0000dc 24.5px,#0000db 91.5px)"></i>
<i style="background:linear-gradient(90deg,#000091 0.5px,#000092 6.5px,#0000a2 7.5px,#0000e5 9.5px,#0003ff 10.5px,#0004ff 11.5px,#0000fd 12.5px,#0000ec 15.5px,#0000e3 18.5px,#0000dc 24.5px,#0000db 91.5px)"></i>
<i style="background:linear-gradient(90deg,#000091 0.5px,#000091 6.5px,#00009c 7.5px,#0000b8 8.5px,#0000f9 10.5px,#0002ff 11.5px,#0000e5 17.5px,#0000dc 24.5px,#0000db 91.5px)"></i>
<i style="background:linear-gradient(90deg,#000091 0.5px,#000091 6.5px,#000096 7.5px,#0000ae 8.5px,#00e 10.5px,#00f 11.5px,#0000e3 18.5px,#0000dc 25.5px,#0000db 91.5px)"></i>
<i style="background:linear-gradient(90deg,#000090 0.5px,#000092 7.5px,#0000a4 8.5px,#0000e1 10.5px,#0000fa 11.5px,#0000fb 12.5px,#0000e3 18.5px,#0000dc 25.5px,#0000db 91.5px)"></i>
<i style="background:linear-gradient(90deg,#000090 0.5px,#000090 7.5px,#00009b 8.5px,#0000f1 11.5px,#0000fa 12.5px,#0000e4 18.5px,#0000dc 25.5px,#0000db 91.5px)"></i>
<i style="background:linear-gradient(90deg,#000090 0.5px,#000090 7.5px,#000095 8.5px,#00a 9.5px,#0000e4 11.5px,#0000f8 12.5px,#0000e2 19.5px,#0000dc 26.5px,#0000db 91.5px)"></i>
<i style="background:linear-gradient(90deg,#000090 0.5px,#000091 8.5px,#0000a0 9.5px,#0000f1 12.5px,#0000f5 13.5px,#0000e2 19.5px,#0000dc 26.5px,#0000db 91.5px)"></i>
<i style="background:linear-gradient(90deg,#000090 0.5px,#000090 8.5px,#000097 9.5px,#0000ae 10.5px,#0000e6 12.5px,#0000f5 13.5px,#0000e2 19.5px,#0000dc 26.5px,#0000db 91.5px)"></i>
<i style="background:linear-gradient(90deg,#00008f 0.5px,#000092 9.5px,#0000a3 10.5px,#0000d9 12.5px,#0000f0 13.5px,#0000f2 14.5px,#0000e1 20.5px,#0000dc 27.5px,#0000db 91.5px)"></i>
<i style="background:linear-gradient(90deg,#00008f 0.5px,#00008f 9.5px,#00009a 10.5px,#0000e6 13.5px,#0000f2 14.5px,#0000e1 20.5px,#0000dc 27.5px,#0000db 91.5px)"></i>
<i style="background:linear-gradient(90deg,#00008f 0.5px,#00008f 9.5px,#000093 10.5px,#0000a6 11.5px,#0000da 13.5px,#0000ef 14.5px,#0000e0 21.5px,#0000dc 27.5px,#0000db 91.5px)"></i>
<i style="background:linear-gradient(90deg,#00008f 0.5px,#000090 10.5px,#00009d 11.5px,#0000e8 14.5px,#0000ef 15.5px,#0000e0 21.5px,#0000dc 27.5px,#0000db 91.5px)"></i>
<i style="background:linear-gradient(90deg,#00008f 0.5px,#00008f 10.5px,#000096 11.5px,#0000ab 12.5px,#0000de 14.5px,#00e 15.5px,#0000e0 21.5px,#0000dc 28.5px,#0000db 91.5px)"></i>
<i style="background:linear-gradient(90deg,#00008f 0.5px,#000091 11.5px,#0000a1 12.5px,#0000d5 14.5px,#0000ea 15.5px,#0000ed 16.5px,#0000e1 21.5px,#0000dc 28.5px,#0000db 91.5px)"></i>
<i style="background:linear-gradient(90deg,#00008f 0.5px,#00008f 11.5px,#00009a 12.5px,#0000e3 15.5px,#0000ec 16.5px,#0000df 22.5px,#0000dc 28.5px,#0000db 91.5px)"></i>
<i style="background:linear-gradient(90deg,#00008f 0.5px,#00008f 11.5px,#000094 12.5px,#0000a8 13.5px,#0000da 15.5px,#0000eb 16.5px,#0000e0 22.5px,#0000dc 29.5px,#0000db 91.5px)"></i>
<i style="background:linear-gradient(90deg,#00008f 0.5px,#000090 12.5px,#0000a0 13.5px,#0000d2 15.5px,#0000e7 16.5px,#0000ea 17.5px,#0000e0 22.5px,#0000dc 29.5px,#0000db 91.5px)"></i>
<i style="background:linear-gradient(90deg,#00008e 0.5px,#00008f 12.5px,#009 13.5px,#0000e0 16.5px,#0000ea 17.5px,#0000df 23.5px,#0000dc 29.5px,#0000db 91.5px)"></i>
<i style="background:linear-gradient(90deg,#00008e 0.5px,#00008e 12.5px,#000094 13.5px,#0000a7 14.5px,#0000d8 16.5px,#0000e9 17.5px,#0000df 23.5px,#0000dc 29.5px,#0000db 91.5px)"></i>
<i style="background:linear-gradient(90deg,#00008e 0.5px,#000090 13.5px,#0000a0 14.5px,#0000d1 16.5px,#0000e5 17.5px,#0000e8 18.5px,#0000df 23.5px,#0000dc 30.5px,#0000db 91.5px)"></i>
<i style="background:linear-gradient(90deg,#00008e 0.5px,#00008e 13.5px,#009 14.5px,#0000df 17.5px,#0000e8 18.5px,#0000de 24.5px,#0000dc 30.5px,#0000db 91.5px)"></i>
<i style="background:linear-gradient(90deg,#00008e 0.5px,#00008e 13.5px,#000094 14.5px,#0000a8 15.5px,#0000d8 17.5px,#0000e7 18.5px,#0000de 24.5px,#0000dc 30.5px,#0000db 91.5px)"></i>
<i style="background:linear-gradient(90deg,#00008e 0.5px,#000091 14.5px,#0000a1 15.5px,#0000d2 17.5px,#0000e4 18.5px,#0000e7 19.5px,#0000df 24.5px,#0000dc 30.5px,#0000db 91.5px)"></i>
<i style="background:linear-gradient(90deg,#00008e 0.5px,#00008f 14.5px,#00009b 15.5px,#0000cb 17.5px,#0000e0 18.5px,#0000e7 19.5px,#0000df 24.5px,#0000dc 31.5px,#0000db 91.5px)"></i>
<i style="background:linear-gradient(90deg,#00008e 0.5px,#00008e 14.5px,#000096 15.5px,#0000da 18.5px,#0000e7 19.5px,#0000de 25.5px,#0000dc 31.5px,#0000db 91.5px)"></i>
</div>
<div class="p" style="clip-path:polygon(0.20px 16.20px,2.24px 16.17px,4.29px 16.09px,6.33px 15.95px,8.37px 15.76px,10.42px 15.52px,12.46px 15.22px,14.50px 14.86px,16.54px 14.46px,18.59px 13.99px,20.63px 13.47px,22.67px 12.90px,24.72px 12.27px,26.76px 11.59px,28.80px 10.86px,30.85px 10.07px,32.89px 9.22px,34.93px 8.32px,36.98px 7.37px,39.02px 6.36px,41.06px 5.30px,43.10px 4.18px,45.15px 3.01px,47.19px 1.78px,49.23px 0.50px,90.90px 0.50px,90.90px 101.40px,0.20px 101.40px);left:397px;top:160px;width:91px">
<i style="background:linear-gradient(90deg,#00dbff 0.5px,#00d4ff 2.5px,#00b5ff 5.5px,#0045ff 12.5px,#0002ff 17.5px,#0000e6 20.5px,#0000de 22.5px,#0000db 24.5px,#0000db 90.5px)"></i>
<i style="background:linear-gradient(90deg,#00dcff 0.5px,#00d4ff 2.5px,#00b5ff 5.5px,#0045ff 12.5px,#0002ff 17.5px,#0000e6 20.5px,#0000de 22.5px,#0000db 24.5px,#0000db 90.5px)"></i>
<i style="background:linear-gradient(90deg,#0df 0.5px,#00d5ff 2.5px,#00c3ff 4.5px,#00a7ff 6.5px,#0036ff 13.5px,#0003ff 17.5px,#0000f6 18.5px,#0000e1 21.5px,#0000db 24.5px,#0000db 90.5px)"></i>
<i style="background:linear-gradient(90deg,#00dfff 0.5px,#00d7ff 2.5px,#00c4ff 4.5px,#00a9ff 6.5px,#0037ff 13.5px,#0003ff 17.5px,#0000f7 18.5px,#0000e1 21.5px,#0000dc 24.5px,#0000db 90.5px)"></i>
<i style="background:linear-gradient(90deg,#00e1ff 0.5px,#00d9ff 2.5px,#00c6ff 4.5px,#0af 6.5px,#0038ff 13.5px,#0004ff 17.5px,#0000f7 18.5px,#0000e2 21.5px,#0000dc 24.5px,#0000db 90.5px)"></i>
<i style="background:linear-gradient(90deg,#00e3ff 0.5px,#00dbff 2.5px,#00c8ff 4.5px,#00acff 6.5px,#0039ff 13.5px,#0004ff 17.5px,#0000f8 18.5px,#0000e2 21.5px,#0000dc 24.5px,#0000db 90.5px)"></i>
<i style="background:linear-gradient(90deg,#00e6ff 0.5px,#00deff 2.5px,#00cbff 4.5px,#00afff 6.5px,#003aff 13.5px,#0005ff 17.5px,#0000f8 18.5px,#0000e2 21.5px,#0000dc 24.5px,#0000db 90.5px)"></i>
<i style="background:linear-gradient(90deg,#00eaff 0.5px,#00e2ff 2.5px,#00ceff 4.5px,#00b2ff 6.5px,#003bff 13.5px,#0006ff 17.5px,#0000f9 18.5px,#0000e2 21.5px,#0000dc 24.5px,#0000db 90.5px)"></i>
<i style="background:linear-gradient(90deg,#0ef 0.5px,#00e6ff 2.5px,#00d2ff 4.5px,#00b5ff 6.5px,#003dff 13.5px,#0007ff 17.5px,#0000fa 18.5px,#0000e3 21.5px,#0000dc 24.5px,#0000db 90.5px)"></i>
<i style="background:linear-gradient(90deg,#00f3ff 0.5px,#00eaff 2.5px,#00d6ff 4.5px,#00b9ff 6.5px,#003eff 13.5px,#0008ff 17.5px,#0000fa 18.5px,#0000e3 21.5px,#0000dc 24.5px,#0000db 90.5px)"></i>
<i style="background:linear-gradient(90deg,#00f8ff 0.5px,#00f0ff 2.5px,#00dbff 4.5px,#00bdff 6.5px,#0040ff 13.5px,#0009ff 17.5px,#0000fb 18.5px,#0000e3 21.5px,#0000dc 24.5px,#0000db 90.5px)"></i>
<i style="background:linear-gradient(90deg,#00feff 0.5px,#00f5ff 2.5px,#00e0ff 4.5px,#00c1ff 6.5px,#0042ff 13.5px,#000aff 17.5px,#0000fc 18.5px,#0000e3 21.5px,#0000dc 24.5px,#0000db 90.5px)"></i>
<i style="background:linear-gradient(90deg,#05fffa 0.5px,#00fbff 2.5px,#00e6ff 4.5px,#00c6ff 6.5px,#04f 13.5px,#000bff 17.5px,#0000fd 18.5px,#0000e4 21.5px,#0000db 25.5px,#0000db 90.5px)"></i>
<i style="background:linear-gradient(90deg,#0cfff3 0.5px,#03fffc 2.5px,#00f8ff 3.5px,#00ecff 4.5px,#0cf 6.5px,#0047ff 13.5px,#0000fe 18.5px,#0000e4 21.5px,#0000db 25.5px,#0000db 90.5px)"></i>
<i style="background:linear-gradient(90deg,#13ffec 0.5px,#10ffef 1.5px,#0ff 3.5px,#00f2ff 4.5px,#00d2ff 6.5px,#0049ff 13.5px,#00f 18.5px,#0000e4 21.5px,#00d 23.5px,#0000db 25.5px,#0000db 90.5px)"></i>
<i style="background:linear-gradient(90deg,#1bffe4 0.5px,#18ffe7 1.5px,#08fff7 3.5px,#00f9ff 4.5px,#00d8ff 6.5px,#004cff 13.5px,#0001ff 18.5px,#0000e5 21.5px,#00d 23.5px,#0000db 25.5px,#0000db 90.5px)"></i>
<i style="background:linear-gradient(90deg,#24ffdb 0.5px,#1affe5 2.5px,#02fffd 4.5px,#00f1ff 5.5px,#004fff 13.5px,#0002ff 18.5px,#0000e5 21.5px,#00d 23.5px,#0000db 25.5px,#0000db 90.5px)"></i>
<i style="background:linear-gradient(90deg,#36ffc9 0.5px,#2cffd3 2.5px,#21ffde 3.5px,#02fffd 5.5px,#00d8ff 7.5px,#0069ff 12.5px,#0043ff 14.5px,#0004ff 18.5px,#0000f7 19.5px,#0000ed 20.5px,#0000e1 22.5px,#0000db 25.5px,#0000db 90.5px)"></i>
<i style="background:linear-gradient(90deg,#51ffae 0.5px,#4effb1 1.5px,#3affc5 3.5px,#2bffd4 4.5px,#04fffb 6.5px,#00ecff 7.5px,#0074ff 12.5px,#004bff 14.5px,#0008ff 18.5px,#0000f9 19.5px,#00e 20.5px,#0000e1 22.5px,#0000db 25.5px,#0000db 90.5px)"></i>
<i style="background:linear-gradient(90deg,#70ff8f 0.5px,#6cff93 1.5px,#57ffa8 3.5px,#32ffcd 5.5px,#03fffc 7.5px,#0081ff 12.5px,#0054ff 14.5px,#000bff 18.5px,#0000fc 19.5px,#0000f0 20.5px,#0000e2 22.5px,#0000db 25.5px,#0000db 90.5px)"></i>
<i style="background:linear-gradient(90deg,#90ff6f 0.5px,#83ff7c 2.5px,#63ff9c 4.5px,#35ffca 6.5px,#00feff 8.5px,#00a9ff 11.5px,#0075ff 13.5px,#0049ff 15.5px,#000fff 18.5px,#0000fe 19.5px,#0000f2 20.5px,#0000e2 22.5px,#0000db 25.5px,#0000db 90.5px)"></i>
<i style="background:linear-gradient(90deg,#b4ff4b 0.5px,#b0ff4f 1.5px,#a6ff59 2.5px,#84ff7b 4.5px,#52ffad 6.5px,#17ffe8 8.5px,#00f7ff 9.5px,#009dff 12.5px,#0069ff 14.5px,#0028ff 17.5px,#0002ff 19.5px,#0000ea 21.5px,#0000e3 22.5px,#0000db 25.5px,#0000db 90.5px)"></i>
<i style="background:linear-gradient(90deg,#d2ff2d 0.5px,#cdff32 1.5px,#c3ff3c 2.5px,#9eff61 4.5px,#69ff96 6.5px,#09fff6 9.5px,#00e8ff 10.5px,#008cff 13.5px,#005aff 15.5px,#0017ff 18.5px,#0005ff 19.5px,#0000f5 20.5px,#0000e3 22.5px,#0000db 25.5px,#0000db 90.5px)"></i>
<i style="background:linear-gradient(90deg,#eaff15 0.5px,#e5ff1a 1.5px,#daff25 2.5px,#c9ff36 3.5px,#b4ff4b 4.5px,#7cff83 6.5px,#18ffe7 9.5px,#00f4ff 10.5px,#0095ff 13.5px,#0060ff 15.5px,#001aff 18.5px,#0007ff 19.5px,#0000f7 20.5px,#0000e4 22.5px,#0000db 25.5px,#0000db 90.5px)"></i>
<i style="background:linear-gradient(90deg,#fff900 0.5px,#fffe00 1.5px,#f4ff0b 2.5px,#e3ff1c 3.5px,#cf3 4.5px,#92ff6d 6.5px,#04fffb 10.5px,#00e0ff 11.5px,#009eff 13.5px,#06f 15.5px,#001eff 18.5px,#0009ff 19.5px,#0000f8 20.5px,#0000e4 22.5px,#0000db 25.5px,#0000db 90.5px)"></i>
<i style="background:linear-gradient(90deg,#ffd800 0.5px,#fd0 1.5px,#ffea00 2.5px,#fffc00 3.5px,#eaff15 4.5px,#acff53 6.5px,#16ffe9 10.5px,#00efff 11.5px,#0af 13.5px,#006fff 15.5px,#02f 18.5px,#000cff 19.5px,#0000fa 20.5px,#0000e5 22.5px,#0000db 25.5px,#0000db 90.5px)"></i>
<i style="background:linear-gradient(90deg,#ffb100 0.5px,#ffb700 1.5px,#ffc400 2.5px,#ffd800 3.5px,#fff200 4.5px,#edff12 5.5px,#a4ff5b 7.5px,#02fffd 11.5px,#00b7ff 13.5px,#0078ff 15.5px,#0026ff 18.5px,#000fff 19.5px,#0000fc 20.5px,#0000e5 22.5px,#0000db 25.5px,#0000db 90.5px)"></i>
<i style="background:linear-gradient(90deg,#ff8500 0.5px,#ff8b00 1.5px,#f90 2.5px,#ffaf00 3.5px,#ffcb00 4.5px,#ffed00 5.5px,#ebff14 6.5px,#12ffed 11.5px,#00e8ff 12.5px,#009fff 14.5px,#0045ff 17.5px,#01f 19.5px,#0000fd 20.5px,#0000e6 22.5px,#0000db 25.5px,#0000db 90.5px)"></i>
<i style="background:linear-gradient(90deg,#ff5f00 0.5px,#f60 1.5px,#ff7600 2.5px,#ff8d00 3.5px,#ffac00 4.5px,#fff900 6.5px,#d8ff27 7.5px,#1cffe3 11.5px,#00efff 12.5px,#00a2ff 14.5px,#0045ff 17.5px,#0010ff 19.5px,#0000fc 20.5px,#0000e5 22.5px,#0000db 25.5px,#0000db 90.5px)"></i>
<i style="background:linear-gradient(90deg,#ff4300 0.5px,#ff4b00 1.5px,#ff5c00 2.5px,#ff7500 3.5px,#ff9600 4.5px,#ffbd00 5.5px,#ffe900 6.5px,#e5ff1a 7.5px,#1fffe0 11.5px,#00f0ff 12.5px,#00a0ff 14.5px,#007eff 15.5px,#0041ff 17.5px,#000dff 19.5px,#0000fa 20.5px,#0000e4 22.5px,#0000db 25.5px,#0000db 90.5px)"></i>
<i style="background:linear-gradient(90deg,#ff2a00 0.5px,#ff3200 1.5px,#f40 2.5px,#ff5f00 3.5px,#ff8200 4.5px,#ffac00 5.5px,#ffdb00 6.5px,#f0ff0f 7.5px,#1fffe0 11.5px,#00efff 12.5px,#009cff 14.5px,#007aff 15.5px,#003dff 17.5px,#000bff 19.5px,#0000f8 20.5px,#0000e4 22.5px,#0000db 25.5px,#0000db 90.5px)"></i>
<i style="background:linear-gradient(90deg,#ff0c00 0.5px,#ff1500 1.5px,#ff2800 2.5px,#ff4500 3.5px,#ff6b00 4.5px,#ff9800 5.5px,#feff01 7.5px,#2fd 11.5px,#00f0ff 12.5px,#009bff 14.5px,#0078ff 15.5px,#003aff 17.5px,#0009ff 19.5px,#0000f7 20.5px,#0000e3 22.5px,#0000db 25.5px,#0000db 90.5px)"></i>
<i style="background:linear-gradient(90deg,#e40000 0.5px,#e00 1.5px,#ff0400 2.5px,#ff2300 3.5px,#ff4b00 4.5px,#ff7b00 5.5px,#ffeb00 7.5px,#d8ff27 8.5px,#2affd5 11.5px,#00f6ff 12.5px,#00c7ff 13.5px,#009dff 14.5px,#0078ff 15.5px,#003aff 17.5px,#001eff 18.5px,#0008ff 19.5px,#0000f6 20.5px,#0000e3 22.5px,#0000db 25.5px,#0000db 90.5px)"></i>
<i style="background:linear-gradient(90deg,#b80000 0.5px,#c20000 1.5px,#d90000 2.5px,#fa0000 3.5px,#ff2700 4.5px,#ff5a00 5.5px,#ffd200 7.5px,#edff12 8.5px,#6fff90 10.5px,#34ffcb 11.5px,#00fdff 12.5px,#0cf 13.5px,#00a0ff 14.5px,#007aff 15.5px,#0059ff 16.5px,#001eff 18.5px,#0007ff 19.5px,#0000f5 20.5px,#0000e2 22.5px,#0000db 25.5px,#0000db 90.5px)"></i>
<i style="background:linear-gradient(90deg,#8c0000 0.5px,#970000 1.5px,#af0000 2.5px,#d30000 3.5px,#ff0300 4.5px,#ff3a00 5.5px,#ff7800 6.5px,#fffe00 8.5px,#bdff42 9.5px,#3effc1 11.5px,#05fffa 12.5px,#00a3ff 14.5px,#007bff 15.5px,#0039ff 17.5px,#001dff 18.5px,#0006ff 19.5px,#0000f4 20.5px,#0000e2 22.5px,#0000db 25.5px,#0000db 90.5px)"></i>
<i style="background:linear-gradient(90deg,#800000 0.5px,#800000 1.5px,#800 2.5px,#af0000 3.5px,#e10000 4.5px,#ff1d00 5.5px,#ff5e00 6.5px,#ffec00 8.5px,#cbff34 9.5px,#45ffba 11.5px,#09fff6 12.5px,#00d3ff 13.5px,#00a4ff 14.5px,#007bff 15.5px,#0038ff 17.5px,#001cff 18.5px,#0005ff 19.5px,#0000f3 20.5px,#0000e2 22.5px,#0000db 25.5px,#0000db 90.5px)"></i>
<i style="background:linear-gradient(90deg,#800000 0.5px,#800000 2.5px,#890000 3.5px,#be0000 4.5px,#fd0000 5.5px,#f40 6.5px,#ffdb00 8.5px,#d8ff27 9.5px,#4cffb3 11.5px,#0efff1 12.5px,#00d5ff 13.5px,#00a5ff 14.5px,#007bff 15.5px,#0037ff 17.5px,#001aff 18.5px,#0003ff 19.5px,#0000f2 20.5px,#0000e1 22.5px,#0000db 25.5px,#0000db 90.5px)"></i>
<i style="background:linear-gradient(90deg,#800000 0.5px,#800000 3.5px,#a50000 4.5px,#e70000 5.5px,#ff3200 6.5px,#ffd000 8.5px,#e0ff1f 9.5px,#94ff6b 10.5px,#4effb1 11.5px,#0efff1 12.5px,#00d4ff 13.5px,#00a3ff 14.5px,#0078ff 15.5px,#0034ff 17.5px,#0017ff 18.5px,#0001ff 19.5px,#0000e7 21.5px,#0000e0 22.5px,#0000dc 24.5px,#0000db 90.5px)"></i>
<i style="background:linear-gradient(90deg,#800000 0.5px,#800000 3.5px,#9b0000 4.5px,#e00000 5.5px,#ff2d00 6.5px,#ffd000 8.5px,#deff21 9.5px,#91ff6e 10.5px,#49ffb6 11.5px,#08fff7 12.5px,#00ceff 13.5px,#009dff 14.5px,#0073ff 15.5px,#002fff 17.5px,#0014ff 18.5px,#0000fe 19.5px,#0000ef 20.5px,#0000e5 21.5px,#0000dc 24.5px,#0000db 90.5px)"></i>
<i style="background:linear-gradient(90deg,#800000 0.5px,#800000 3.5px,#960000 4.5px,#d00 5.5px,#ff2d00 6.5px,#ffd400 8.5px,#d8ff27 9.5px,#8aff75 10.5px,#42ffbd 11.5px,#01fffe 12.5px,#00c7ff 13.5px,#0095ff 14.5px,#006cff 15.5px,#002aff 17.5px,#0010ff 18.5px,#0000fb 19.5px,#0000ed 20.5px,#0000e4 21.5px,#0000dc 24.5px,#0000db 90.5px)"></i>
<i style="background:linear-gradient(90deg,#800000 0.5px,#800000 3.5px,#950000 4.5px,#de0000 5.5px,#ff3000 6.5px,#ffdb00 8.5px,#d0ff2f 9.5px,#81ff7e 10.5px,#38ffc7 11.5px,#00f6ff 12.5px,#00beff 13.5px,#008dff 14.5px,#0065ff 15.5px,#0025ff 17.5px,#000cff 18.5px,#0000f8 19.5px,#0000e3 21.5px,#0000db 24.5px,#0000db 90.5px)"></i>
<i style="background:linear-gradient(90deg,#800000 0.5px,#800000 3.5px,#9a0000 4.5px,#e50000 5.5px,#ff3900 6.5px,#ffe600 8.5px,#c4ff3b 9.5px,#74ff8b 10.5px,#2cffd3 11.5px,#00eaff 12.5px,#00b2ff 13.5px,#0083ff 14.5px,#005cff 15.5px,#001fff 17.5px,#0007ff 18.5px,#0000f5 19.5px,#0000e2 21.5px,#0000db 24.5px,#0000db 90.5px)"></i>
<i style="background:linear-gradient(90deg,#800000 0.5px,#800000 3.5px,#a50000 4.5px,#f30000 5.5px,#ff4800 6.5px,#fff700 8.5px,#b2ff4d 9.5px,#63ff9c 10.5px,#1cffe3 11.5px,#00dbff 12.5px,#00a5ff 13.5px,#07f 14.5px,#0052ff 15.5px,#0018ff 17.5px,#0002ff 18.5px,#0000e7 20.5px,#0000e1 21.5px,#0000dc 23.5px,#0000db 90.5px)"></i>
<i style="background:linear-gradient(90deg,#800000 0.5px,#800000 3.5px,#ba0000 4.5px,#ff0b00 5.5px,#ffb800 7.5px,#efff10 8.5px,#9bff64 9.5px,#4fffb0 10.5px,#09fff6 11.5px,#0cf 12.5px,#0098ff 13.5px,#006cff 14.5px,#0049ff 15.5px,#0013ff 17.5px,#0000fd 18.5px,#0000ef 19.5px,#0000e5 20.5px,#0000dc 23.5px,#0000db 90.5px)"></i>
<i style="background:linear-gradient(90deg,#800000 0.5px,#800000 2.5px,#900000 3.5px,#d90000 4.5px,#ff2b00 5.5px,#ffd800 7.5px,#d1ff2e 8.5px,#81ff7e 9.5px,#37ffc8 10.5px,#00f5ff 11.5px,#00bcff 12.5px,#008bff 13.5px,#0063ff 14.5px,#0042ff 15.5px,#0027ff 16.5px,#000eff 17.5px,#0000fa 18.5px,#0000ec 19.5px,#0000e4 20.5px,#0000db 23.5px,#0000db 90.5px)"></i>
<i style="background:linear-gradient(90deg,#800000 0.5px,#800000 2.5px,#bc0000 3.5px,#ff0700 4.5px,#fdff02 7.5px,#acff53 8.5px,#61ff9e 9.5px,#1dffe2 10.5px,#00dfff 11.5px,#00abff 12.5px,#007fff 13.5px,#005aff 14.5px,#003cff 15.5px,#000aff 17.5px,#0000f6 18.5px,#0000e2 20.5px,#0000db 23.5px,#0000db 90.5px)"></i>
<i style="background:linear-gradient(90deg,#800000 0.5px,#800000 1.5px,#b00000 2.5px,#f10000 3.5px,#ff3d00 4.5px,#ffde00 6.5px,#d0ff2f 7.5px,#85ff7a 8.5px,#40ffbf 9.5px,#01fffe 10.5px,#00c9ff 11.5px,#009aff 12.5px,#0072ff 13.5px,#0051ff 14.5px,#001cff 16.5px,#0005ff 17.5px,#0000f3 18.5px,#0000e0 20.5px,#0000db 22.5px,#0000db 90.5px)"></i>
<i style="background:linear-gradient(90deg,#a20000 0.5px,#c20000 1.5px,#f60000 2.5px,#ff3800 3.5px,#ffcd00 5.5px,#e6ff19 6.5px,#58ffa7 8.5px,#1affe5 9.5px,#00e2ff 10.5px,#00b1ff 11.5px,#08f 12.5px,#0064ff 13.5px,#0047ff 14.5px,#0014ff 16.5px,#0000fe 17.5px,#0000ef 18.5px,#0000e4 19.5px,#0000de 20.5px,#0000db 22.5px,#0000db 90.5px)"></i>
<i style="background:linear-gradient(90deg,#ff8300 0.5px,#f10000 1.5px,#ff1c00 2.5px,#ff5c00 3.5px,#fff600 5.5px,#baff45 6.5px,#70ff8f 7.5px,#2bffd4 8.5px,#0ef 9.5px,#00b9ff 10.5px,#008cff 11.5px,#06f 12.5px,#0047ff 13.5px,#002eff 14.5px,#0003ff 16.5px,#0000e6 18.5px,#0000e0 19.5px,#0000db 21.5px,#0000db 90.5px)"></i>
<i style="background:linear-gradient(90deg,#7aff85 0.5px,#ff7000 1.5px,#ff5800 2.5px,#ff9400 3.5px,#ffdf00 4.5px,#d0ff2f 5.5px,#83ff7c 6.5px,#3bffc4 7.5px,#00faff 8.5px,#00c2ff 9.5px,#0092ff 10.5px,#006aff 11.5px,#004aff 12.5px,#002fff 13.5px,#0008ff 15.5px,#0000f6 16.5px,#0000e2 18.5px,#0000db 21.5px,#0000db 90.5px)"></i>
<i style="background:linear-gradient(90deg,#0df 0.5px,#cf3 1.5px,#ff9700 2.5px,#ffc900 3.5px,#edff12 4.5px,#5fa 6.5px,#10ffef 7.5px,#00d2ff 8.5px,#009fff 9.5px,#0074ff 10.5px,#0051ff 11.5px,#0034ff 12.5px,#001eff 13.5px,#0000fc 15.5px,#0000e6 17.5px,#0000dc 20.5px,#0000db 90.5px)"></i>
<i style="background:linear-gradient(90deg,#0075ff 0.5px,#29ffd6 1.5px,#fffe00 2.5px,#fff400 3.5px,#c7ff38 4.5px,#34ffcb 6.5px,#00f1ff 7.5px,#00b7ff 8.5px,#0086ff 9.5px,#005eff 10.5px,#003fff 11.5px,#0026ff 12.5px,#0012ff 13.5px,#0003ff 14.5px,#0000f5 15.5px,#0000e3 17.5px,#0000db 20.5px,#0000db 90.5px)"></i>
<i style="background:linear-gradient(90deg,#0035ff 0.5px,#00baff 1.5px,#98ff67 2.5px,#ebff14 3.5px,#b1ff4e 4.5px,#21ffde 6.5px,#00dfff 7.5px,#00a7ff 8.5px,#0078ff 9.5px,#0052ff 10.5px,#0034ff 11.5px,#001dff 12.5px,#000bff 13.5px,#0000fd 14.5px,#0000e8 16.5px,#0000e2 17.5px,#0000db 20.5px,#0000db 90.5px)"></i>
<i style="background:linear-gradient(90deg,#000fff 0.5px,#0072ff 1.5px,#42ffbd 2.5px,#caff35 3.5px,#a2ff5d 4.5px,#16ffe9 6.5px,#00d4ff 7.5px,#009dff 8.5px,#006fff 9.5px,#004aff 10.5px,#002dff 11.5px,#0017ff 12.5px,#0007ff 13.5px,#0000f9 14.5px,#0000e7 16.5px,#0000e1 17.5px,#0000db 20.5px,#0000db 90.5px)"></i>
<i style="background:linear-gradient(90deg,#0000f6 0.5px,#0043ff 1.5px,#00fcff 2.5px,#96ff69 3.5px,#90ff6f 4.5px,#0afff5 6.5px,#00caff 7.5px,#0094ff 8.5px,#0067ff 9.5px,#04f 10.5px,#0028ff 11.5px,#0013ff 12.5px,#0003ff 13.5px,#0000f7 14.5px,#0000e1 17.5px,#0000db 20.5px,#0000db 90.5px)"></i>
<i style="background:linear-gradient(90deg,#0000e7 0.5px,#0027ff 1.5px,#00c8ff 2.5px,#5dffa2 3.5px,#72ff8d 4.5px,#37ffc8 5.5px,#00f7ff 6.5px,#00bcff 7.5px,#0089ff 8.5px,#005fff 9.5px,#003eff 10.5px,#0024ff 11.5px,#0010ff 12.5px,#0001ff 13.5px,#0000e5 16.5px,#0000de 18.5px,#0000db 20.5px,#0000db 90.5px)"></i>
<i style="background:linear-gradient(90deg,#0000d9 0.5px,#0010ff 1.5px,#009cff 2.5px,#27ffd8 3.5px,#51ffae 4.5px,#1effe1 5.5px,#00e3ff 6.5px,#00acff 7.5px,#007dff 8.5px,#0056ff 9.5px,#0037ff 10.5px,#001fff 11.5px,#000dff 12.5px,#0000fe 13.5px,#0000e5 16.5px,#0000de 18.5px,#0000db 20.5px,#0000db 90.5px)"></i>
<i style="background:linear-gradient(90deg,#0000cd 0.5px,#0000f2 1.5px,#006eff 2.5px,#00f0ff 3.5px,#3fc 4.5px,#0bfff4 5.5px,#00d4ff 6.5px,#00a1ff 7.5px,#0074ff 8.5px,#004fff 9.5px,#0032ff 10.5px,#001bff 11.5px,#000aff 12.5px,#0000fc 13.5px,#0000e5 16.5px,#0000dc 20.5px,#0000db 90.5px)"></i>
<i style="background:linear-gradient(90deg,#0000c2 0.5px,#0000d3 1.5px,#0035ff 2.5px,#00b2ff 3.5px,#0bfff4 4.5px,#0ff 5.5px,#009aff 7.5px,#006eff 8.5px,#004aff 9.5px,#002dff 10.5px,#0017ff 11.5px,#0006ff 12.5px,#0000f8 13.5px,#0000e4 16.5px,#0000dc 20.5px,#0000db 90.5px)"></i>
<i style="background:linear-gradient(90deg,#0000b8 0.5px,#0000bf 1.5px,#0004ff 2.5px,#0078ff 3.5px,#00dcff 4.5px,#00f7ff 5.5px,#006bff 8.5px,#0046ff 9.5px,#0029ff 10.5px,#0013ff 11.5px,#0003ff 12.5px,#0000ed 14.5px,#0000e3 16.5px,#0000dc 20.5px,#0000db 90.5px)"></i>
<i style="background:linear-gradient(90deg,#0000af 0.5px,#0000b2 1.5px,#0000e1 2.5px,#004dff 3.5px,#00b5ff 4.5px,#00e9ff 5.5px,#00c6ff 6.5px,#006aff 8.5px,#0045ff 9.5px,#0028ff 10.5px,#0012ff 11.5px,#0001ff 12.5px,#0000e7 15.5px,#0000df 17.5px,#0000dc 20.5px,#0000db 90.5px)"></i>
<i style="background:linear-gradient(90deg,#0000a8 0.5px,#0000a8 1.5px,#0000cb 2.5px,#0027ff 3.5px,#0090ff 4.5px,#00d4ff 5.5px,#00c5ff 6.5px,#006bff 8.5px,#0046ff 9.5px,#0029ff 10.5px,#0012ff 11.5px,#0002ff 12.5px,#0000e7 15.5px,#0000df 17.5px,#0000dc 20.5px,#0000db 90.5px)"></i>
<i style="background:linear-gradient(90deg,#0000a2 0.5px,#0000a2 1.5px,#0000b8 2.5px,#0002ff 3.5px,#006aff 4.5px,#00b8ff 5.5px,#00c1ff 6.5px,#006dff 8.5px,#0048ff 9.5px,#002aff 10.5px,#0014ff 11.5px,#0003ff 12.5px,#0000f6 13.5px,#0000e3 16.5px,#0000dc 20.5px,#0000db 90.5px)"></i>
<i style="background:linear-gradient(90deg,#00009e 0.5px,#00009e 1.5px,#00a 2.5px,#0000e0 3.5px,#0043ff 4.5px,#0098ff 5.5px,#00b9ff 6.5px,#004aff 9.5px,#002cff 10.5px,#0015ff 11.5px,#0004ff 12.5px,#0000f7 13.5px,#0000e3 16.5px,#0000dc 20.5px,#0000db 90.5px)"></i>
<i style="background:linear-gradient(90deg,#00009a 0.5px,#00009a 1.5px,#00009f 2.5px,#0000c9 3.5px,#001eff 4.5px,#0075ff 5.5px,#00a6ff 6.5px,#0092ff 7.5px,#004bff 9.5px,#002eff 10.5px,#0017ff 11.5px,#0006ff 12.5px,#0000f8 13.5px,#0000e4 16.5px,#0000db 21.5px,#0000db 90.5px)"></i>
<i style="background:linear-gradient(90deg,#000097 0.5px,#000098 2.5px,#0000b6 3.5px,#0000f7 4.5px,#004eff 5.5px,#008bff 6.5px,#008cff 7.5px,#004aff 9.5px,#002eff 10.5px,#0018ff 11.5px,#0007ff 12.5px,#0000f9 13.5px,#0000e4 16.5px,#0000dc 21.5px,#0000db 90.5px)"></i>
<i style="background:linear-gradient(90deg,#000095 0.5px,#000095 2.5px,#0000a6 3.5px,#0000d6 4.5px,#0026ff 5.5px,#0069ff 6.5px,#0080ff 7.5px,#002dff 10.5px,#0018ff 11.5px,#0007ff 12.5px,#0000f9 13.5px,#0000e5 16.5px,#0000dc 21.5px,#0000db 90.5px)"></i>
<i style="background:linear-gradient(90deg,#000092 0.5px,#000092 2.5px,#00009a 3.5px,#0000bf 4.5px,#0000fe 5.5px,#0045ff 6.5px,#006cff 7.5px,#005eff 8.5px,#002bff 10.5px,#0017ff 11.5px,#0007ff 12.5px,#0000f9 13.5px,#0000e5 16.5px,#0000dc 21.5px,#0000db 90.5px)"></i>
<i style="background:linear-gradient(90deg,#000091 0.5px,#000092 3.5px,#0000ac 4.5px,#0000da 5.5px,#0020ff 6.5px,#0052ff 7.5px,#0057ff 8.5px,#0016ff 11.5px,#0006ff 12.5px,#0000f9 13.5px,#0000e5 16.5px,#0000dc 21.5px,#0000db 90.5px)"></i>
<i style="background:linear-gradient(90deg,#00008f 0.5px,#00008f 3.5px,#00009b 4.5px,#0000c1 5.5px,#0000f8 6.5px,#0032ff 7.5px,#004eff 8.5px,#0006ff 12.5px,#0000f9 13.5px,#0000e5 16.5px,#0000dc 21.5px,#0000db 90.5px)"></i>
<i style="background:linear-gradient(90deg,#00008f 0.5px,#000091 4.5px,#00a 5.5px,#0000d3 6.5px,#000dff 7.5px,#0038ff 8.5px,#003cff 9.5px,#0007ff 12.5px,#0000f9 13.5px,#0000e5 16.5px,#0000dc 21.5px,#0000db 90.5px)"></i>
<i style="background:linear-gradient(90deg,#00008e 0.5px,#00008e 4.5px,#009 5.5px,#0000ba 6.5px,#0000e6 7.5px,#001aff 8.5px,#0034ff 9.5px,#0028ff 10.5px,#0007ff 12.5px,#0000fa 13.5px,#0000e5 16.5px,#0000dc 21.5px,#0000db 90.5px)"></i>
<i style="background:linear-gradient(90deg,#00008e 0.5px,#000090 5.5px,#0000a5 6.5px,#0000ca 7.5px,#0000f9 8.5px,#0021ff 9.5px,#0026ff 10.5px,#0008ff 12.5px,#0000fb 13.5px,#0000e5 16.5px,#0000df 18.5px,#0000dc 22.5px,#0000db 90.5px)"></i>
<i style="background:linear-gradient(90deg,#00008e 0.5px,#00008e 5.5px,#000097 6.5px,#0000b5 7.5px,#0000da 8.5px,#0009ff 9.5px,#0021ff 10.5px,#0000fc 13.5px,#0000eb 15.5px,#0000e2 17.5px,#0000dc 22.5px,#0000db 90.5px)"></i>
<i style="background:linear-gradient(90deg,#00008d 0.5px,#00008f 6.5px,#0000a5 7.5px,#0000c7 8.5px,#0000f0 9.5px,#0013ff 10.5px,#0016ff 11.5px,#0000fe 13.5px,#0000ec 15.5px,#0000e3 17.5px,#0000dc 22.5px,#0000db 90.5px)"></i>
<i style="background:linear-gradient(90deg,#00008d 0.5px,#00008d 6.5px,#009 7.5px,#0000b5 8.5px,#0001ff 10.5px,#0013ff 11.5px,#0000fe 13.5px,#0000ed 15.5px,#0000e4 17.5px,#0000dc 22.5px,#0000db 90.5px)"></i>
<i style="background:linear-gradient(90deg,#00008c 0.5px,#00008c 6.5px,#000090 7.5px,#0000a7 8.5px,#0000eb 10.5px,#0009ff 11.5px,#0008ff 12.5px,#0000fe 13.5px,#00e 15.5px,#0000e1 18.5px,#0000dc 23.5px,#0000db 90.5px)"></i>
<i style="background:linear-gradient(90deg,#00008c 0.5px,#00008c 7.5px,#00009b 8.5px,#0000b7 9.5px,#0000fa 11.5px,#0006ff 12.5px,#0000fe 13.5px,#0000ef 15.5px,#0000e5 17.5px,#0000dc 23.5px,#0000db 90.5px)"></i>
<i style="background:linear-gradient(90deg,#00008c 0.5px,#00008c 7.5px,#000092 8.5px,#00a 9.5px,#0000e9 11.5px,#00f 12.5px,#0000e5 17.5px,#0000dc 23.5px,#0000db 90.5px)"></i>
<i style="background:linear-gradient(90deg,#00008b 0.5px,#00008d 8.5px,#00009e 9.5px,#0000f5 12.5px,#0000fb 13.5px,#0000e3 18.5px,#0000dc 24.5px,#0000db 90.5px)"></i>
<i style="background:linear-gradient(90deg,#00008b 0.5px,#00008b 8.5px,#000095 9.5px,#0000ad 10.5px,#0000e8 12.5px,#0000f8 13.5px,#0000e3 18.5px,#0000dc 24.5px,#0000db 90.5px)"></i>
<i style="background:linear-gradient(90deg,#00008b 0.5px,#00008b 8.5px,#00008e 9.5px,#0000a2 10.5px,#0000da 12.5px,#0000f2 13.5px,#0000f4 14.5px,#0000e1 19.5px,#0000dc 25.5px,#0000db 90.5px)"></i>
<i style="background:linear-gradient(90deg,#00008b 0.5px,#00008b 9.5px,#000098 10.5px,#0000e9 13.5px,#0000f2 14.5px,#0000e1 19.5px,#0000dc 25.5px,#0000db 90.5px)"></i>
<i style="background:linear-gradient(90deg,#00008a 0.5px,#00008a 9.5px,#000091 10.5px,#0000a6 11.5px,#00d 13.5px,#0000f0 14.5px,#0000e1 19.5px,#0000dc 25.5px,#0000db 90.5px)"></i>
<i style="background:linear-gradient(90deg,#00008a 0.5px,#00008c 10.5px,#00009c 11.5px,#0000d2 13.5px,#0000e9 14.5px,#0000ed 15.5px,#0000e0 20.5px,#0000dc 26.5px,#0000db 90.5px)"></i>
<i style="background:linear-gradient(90deg,#00008a 0.5px,#00008a 10.5px,#000094 11.5px,#0000df 14.5px,#0000ec 15.5px,#0000e0 20.5px,#0000dc 26.5px,#0000db 90.5px)"></i>
<i style="background:linear-gradient(90deg,#00008a 0.5px,#00008a 10.5px,#00008e 11.5px,#0000a1 12.5px,#0000d5 14.5px,#0000e9 15.5px,#0000df 21.5px,#0000dc 27.5px,#0000db 90.5px)"></i>
<i style="background:linear-gradient(90deg,#00008a 0.5px,#00008a 11.5px,#000098 12.5px,#00c 14.5px,#0000e2 15.5px,#0000e9 16.5px,#0000df 21.5px,#0000dc 27.5px,#0000db 90.5px)"></i>
<i style="background:linear-gradient(90deg,#000089 0.5px,#000089 11.5px,#000091 12.5px,#0000d9 15.5px,#0000e7 16.5px,#0000df 21.5px,#0000dc 27.5px,#0000db 90.5px)"></i>
<i style="background:linear-gradient(90deg,#000089 0.5px,#000089 11.5px,#00008c 12.5px,#00009e 13.5px,#0000d1 15.5px,#0000e3 16.5px,#0000e5 17.5px,#0000de 22.5px,#0000db 28.5px,#0000db 90.5px)"></i>
<i style="background:linear-gradient(90deg,#000089 0.5px,#00008a 12.5px,#000096 13.5px,#0000c8 15.5px,#0000dc 16.5px,#0000e5 17.5px,#0000de 22.5px,#0000db 28.5px,#0000db 90.5px)"></i>
<i style="background:linear-gradient(90deg,#000089 0.5px,#000089 12.5px,#000090 13.5px,#0000a5 14.5px,#0000d6 16.5px,#0000e4 17.5px,#0000db 28.5px,#0000db 90.5px)"></i>
<i style="background:linear-gradient(90deg,#000089 0.5px,#000089 12.5px,#00008c 13.5px,#00009c 14.5px,#0000ce 16.5px,#0000e0 17.5px,#0000e2 18.5px,#0000db 29.5px,#0000db 90.5px)"></i>
<i style="background:linear-gradient(90deg,#000089 0.5px,#000089 13.5px,#000095 14.5px,#0000c6 16.5px,#0000da 17.5px,#0000e1 18.5px,#0000db 29.5px,#0000db 90.5px)"></i>
<i style="background:linear-gradient(90deg,#000089 0.5px,#000089 13.5px,#000090 14.5px,#0000d4 17.5px,#0000e0 18.5px,#0000db 29.5px,#0000db 90.5px)"></i>
<i style="background:linear-gradient(90deg,#000089 0.5px,#000089 13.5px,#00008c 14.5px,#00009c 15.5px,#0000cd 17.5px,#00d 18.5px,#0000df 19.5px,#0000db 30.5px,#0000db 90.5px)"></i>
<i style="background:linear-gradient(90deg,#000089 0.5px,#000089 14.5px,#000096 15.5px,#0000c5 17.5px,#0000d8 18.5px,#0000df 19.5px,#0000db 30.5px,#0000db 90.5px)"></i>
<i style="background:linear-gradient(90deg,#000089 0.5px,#000089 14.5px,#000090 15.5px,#0000d3 18.5px,#0000de 19.5px,#0000db 90.5px)"></i>
<i style="background:linear-gradient(90deg,#000089 0.5px,#000089 14.5px,#00008c 15.5px,#00009d 16.5px,#0000cd 18.5px,#0000db 19.5px,#00d 20.5px,#0000db 90.5px)"></i>
<i style="background:linear-gradient(90deg,#008 0.5px,#000089 15.5px,#000097 16.5px,#0000c6 18.5px,#0000d8 19.5px,#0000dc 20.5px,#0000db 90.5px)"></i>
<i style="background:linear-gradient(90deg,#008 0.5px,#008 15.5px,#000092 16.5px,#0000d3 19.5px,#0000dc 20.5px,#0000db 90.5px)"></i>
<i style="background:linear-gradient(90deg,#008 0.5px,#008 15.5px,#00008d 16.5px,#0000a0 17.5px,#0000ce 19.5px,#0000db 20.5px,#0000db 90.5px)"></i>
</div>
<div class="p" style="clip-path:polygon(0.80px 16.90px,2.95px 16.87px,5.10px 16.79px,7.25px 16.64px,9.40px 16.44px,11.55px 16.19px,13.70px 15.88px,15.85px 15.50px,18.00px 15.08px,20.15px 14.59px,22.30px 14.05px,24.45px 13.45px,26.60px 12.80px,28.75px 12.09px,30.90px 11.32px,33.05px 10.49px,35.20px 9.61px,37.35px 8.67px,39.50px 7.68px,41.65px 6.62px,43.80px 5.51px,45.95px 4.34px,48.10px 3.12px,50.25px 1.84px,52.40px 0.50px,88.80px 0.50px,88.80px 101.40px,0.80px 101.40px);left:583px;top:160px;width:89px">
<i style="background:linear-gradient(90deg,#008eff 0.5px,#008aff 2.5px,#0071ff 5.5px,#0001ff 13.5px,#0000e0 16.5px,#0000c8 19.5px,#0000bc 21.5px,#0000b4 24.5px,#0000b2 88.5px)"></i>
<i style="background:linear-gradient(90deg,#008eff 0.5px,#008aff 2.5px,#0071ff 5.5px,#0001ff 13.5px,#0000e0 16.5px,#0000c8 19.5px,#0000bc 21.5px,#0000b4 24.5px,#0000b2 88.5px)"></i>
<i style="background:linear-gradient(90deg,#008eff 0.5px,#008aff 2.5px,#0072ff 5.5px,#0001ff 13.5px,#0000e0 16.5px,#0000c8 19.5px,#0000bc 21.5px,#0000b4 24.5px,#0000b2 88.5px)"></i>
<i style="background:linear-gradient(90deg,#008fff 0.5px,#008bff 2.5px,#007dff 4.5px,#0058ff 7.5px,#0002ff 13.5px,#0000f5 14.5px,#0000e0 16.5px,#0000c1 20.5px,#0000b4 24.5px,#0000b2 88.5px)"></i>
<i style="background:linear-gradient(90deg,#0090ff 0.5px,#008cff 2.5px,#007eff 4.5px,#0059ff 7.5px,#0002ff 13.5px,#0000f5 14.5px,#0000e0 16.5px,#0000c1 20.5px,#0000b8 22.5px,#0000b4 24.5px,#0000b2 88.5px)"></i>
<i style="background:linear-gradient(90deg,#0092ff 0.5px,#008eff 2.5px,#007fff 4.5px,#005aff 7.5px,#0003ff 13.5px,#0000f5 14.5px,#0000e0 16.5px,#0000c1 20.5px,#0000b8 22.5px,#0000b4 24.5px,#0000b2 88.5px)"></i>
<i style="background:linear-gradient(90deg,#0094ff 0.5px,#0090ff 2.5px,#0081ff 4.5px,#005cff 7.5px,#0003ff 13.5px,#0000f6 14.5px,#0000e1 16.5px,#0000c2 20.5px,#0000b8 22.5px,#0000b4 24.5px,#0000b2 88.5px)"></i>
<i style="background:linear-gradient(90deg,#0096ff 0.5px,#0092ff 2.5px,#0083ff 4.5px,#005dff 7.5px,#0004ff 13.5px,#0000f7 14.5px,#0000e1 16.5px,#0000c2 20.5px,#0000b8 22.5px,#0000b4 24.5px,#0000b2 88.5px)"></i>
<i style="background:linear-gradient(90deg,#0098ff 0.5px,#0094ff 2.5px,#0085ff 4.5px,#005fff 7.5px,#0005ff 13.5px,#0000f7 14.5px,#0000e2 16.5px,#0000c2 20.5px,#0000b8 22.5px,#0000b4 24.5px,#0000b2 88.5px)"></i>
<i style="background:linear-gradient(90deg,#009bff 0.5px,#0097ff 2.5px,#08f 4.5px,#0061ff 7.5px,#0006ff 13.5px,#0000f8 14.5px,#0000e2 16.5px,#0000c2 20.5px,#0000b8 22.5px,#0000b4 24.5px,#0000b2 88.5px)"></i>
<i style="background:linear-gradient(90deg,#009fff 0.5px,#009aff 2.5px,#0080ff 5.5px,#0064ff 7.5px,#0015ff 12.5px,#0007ff 13.5px,#0000f9 14.5px,#0000e3 16.5px,#0000c2 20.5px,#0000b8 22.5px,#0000b4 24.5px,#0000b2 88.5px)"></i>
<i style="background:linear-gradient(90deg,#00a2ff 0.5px,#009eff 2.5px,#0097ff 3.5px,#0083ff 5.5px,#0067ff 7.5px,#0017ff 12.5px,#0009ff 13.5px,#0000fa 14.5px,#0000e4 16.5px,#0000c3 20.5px,#0000b8 22.5px,#0000b4 24.5px,#0000b2 88.5px)"></i>
<i style="background:linear-gradient(90deg,#00a7ff 0.5px,#00a2ff 2.5px,#009bff 3.5px,#0086ff 5.5px,#006aff 7.5px,#0019ff 12.5px,#0000fc 14.5px,#0000e5 16.5px,#0000c3 20.5px,#0000b8 22.5px,#0000b4 24.5px,#0000b2 88.5px)"></i>
<i style="background:linear-gradient(90deg,#00abff 0.5px,#00a7ff 2.5px,#00a0ff 3.5px,#008aff 5.5px,#006dff 7.5px,#001bff 12.5px,#0000fd 14.5px,#0000e6 16.5px,#0000c3 20.5px,#0000b9 22.5px,#0000b4 24.5px,#0000b2 88.5px)"></i>
<i style="background:linear-gradient(90deg,#00b0ff 0.5px,#00abff 2.5px,#00a5ff 3.5px,#008fff 5.5px,#0071ff 7.5px,#001dff 12.5px,#0000fe 14.5px,#0000e7 16.5px,#0000c4 20.5px,#0000b9 22.5px,#0000b4 24.5px,#0000b2 88.5px)"></i>
<i style="background:linear-gradient(90deg,#00b6ff 0.5px,#00b1ff 2.5px,#0af 3.5px,#0094ff 5.5px,#0075ff 7.5px,#001fff 12.5px,#0001ff 14.5px,#0000de 17.5px,#0000c4 20.5px,#0000b9 22.5px,#0000b4 24.5px,#0000b2 88.5px)"></i>
<i style="background:linear-gradient(90deg,#0bf 0.5px,#00b7ff 2.5px,#00a5ff 4.5px,#007aff 7.5px,#0012ff 13.5px,#0003ff 14.5px,#0000f5 15.5px,#0000df 17.5px,#0000be 21.5px,#0000b6 23.5px,#0000b3 25.5px,#0000b2 88.5px)"></i>
<i style="background:linear-gradient(90deg,#00c6ff 0.5px,#00c1ff 2.5px,#00baff 3.5px,#00a2ff 5.5px,#0082ff 7.5px,#0015ff 13.5px,#0006ff 14.5px,#0000f7 15.5px,#0000e1 17.5px,#0000be 21.5px,#0000b6 23.5px,#0000b3 25.5px,#0000b2 88.5px)"></i>
<i style="background:linear-gradient(90deg,#00e2ff 0.5px,#00dcff 2.5px,#00d4ff 3.5px,#00baff 5.5px,#0096ff 7.5px,#0031ff 12.5px,#0000fe 15.5px,#0000e5 17.5px,#0000c0 21.5px,#0000b6 23.5px,#0000b3 25.5px,#0000b2 88.5px)"></i>
<i style="background:linear-gradient(90deg,#06fff9 0.5px,#0ff 2.5px,#00e9ff 4.5px,#00b1ff 7.5px,#002cff 13.5px,#0009ff 15.5px,#0000f9 16.5px,#0000d5 19.5px,#0000c2 21.5px,#0000b7 23.5px,#0000b3 25.5px,#0000b2 88.5px)"></i>
<i style="background:linear-gradient(90deg,#25ffda 0.5px,#1fffe0 2.5px,#07fff8 4.5px,#00f4ff 5.5px,#00c9ff 7.5px,#0039ff 13.5px,#0001ff 16.5px,#0000c4 21.5px,#0000b7 23.5px,#0000b3 25.5px,#0000b2 88.5px)"></i>
<i style="background:linear-gradient(90deg,#41ffbe 0.5px,#3affc5 2.5px,#2fffd0 3.5px,#0efff1 5.5px,#00f7ff 6.5px,#0045ff 13.5px,#0009ff 16.5px,#0000f9 17.5px,#0000c6 21.5px,#0000b8 23.5px,#0000b3 25.5px,#0000b2 88.5px)"></i>
<i style="background:linear-gradient(90deg,#5bffa4 0.5px,#54ffab 2.5px,#49ffb6 3.5px,#3affc5 4.5px,#10ffef 6.5px,#00f5ff 7.5px,#0052ff 13.5px,#0025ff 15.5px,#0001ff 17.5px,#0000c9 21.5px,#0000b9 23.5px,#0000b3 25.5px,#0000b2 88.5px)"></i>
<i style="background:linear-gradient(90deg,#75ff8a 0.5px,#74ff8b 1.5px,#6dff92 2.5px,#62ff9d 3.5px,#3effc1 5.5px,#0cfff3 7.5px,#00efff 8.5px,#007aff 12.5px,#0047ff 14.5px,#0009ff 17.5px,#0000f8 18.5px,#0000d9 20.5px,#0000c1 22.5px,#0000ba 23.5px,#0000b3 25.5px,#0000b2 88.5px)"></i>
<i style="background:linear-gradient(90deg,#8cff73 0.5px,#8aff75 1.5px,#84ff7b 2.5px,#68ff97 4.5px,#3bffc4 6.5px,#02fffd 8.5px,#08f 12.5px,#0052ff 14.5px,#0024ff 16.5px,#00f 18.5px,#0000de 20.5px,#0000c3 22.5px,#00b 23.5px,#0000b3 25.5px,#0000b2 88.5px)"></i>
<i style="background:linear-gradient(90deg,#a7ff58 0.5px,#a6ff59 1.5px,#9fff60 2.5px,#82ff7d 4.5px,#53ffac 6.5px,#18ffe7 8.5px,#00f8ff 9.5px,#0098ff 12.5px,#0045ff 15.5px,#001aff 17.5px,#0007ff 18.5px,#0000f5 19.5px,#0000d2 21.5px,#0000c5 22.5px,#0000b7 24.5px,#0000b3 26.5px,#0000b2 88.5px)"></i>
<i style="background:linear-gradient(90deg,#d7ff28 0.5px,#d6ff29 1.5px,#cfff30 2.5px,#c2ff3d 3.5px,#b0ff4f 4.5px,#7eff81 6.5px,#1cffe3 9.5px,#00f8ff 10.5px,#0092ff 13.5px,#0057ff 15.5px,#0027ff 17.5px,#00f 19.5px,#0000d8 21.5px,#0000c9 22.5px,#0000b8 24.5px,#0000b3 26.5px,#0000b2 88.5px)"></i>
<i style="background:linear-gradient(90deg,#ff0 0.5px,#feff01 1.5px,#f8ff07 2.5px,#ecff13 3.5px,#daff25 4.5px,#c3ff3c 5.5px,#8f7 7.5px,#1bffe4 10.5px,#00f4ff 11.5px,#0087ff 14.5px,#004aff 16.5px,#0030ff 17.5px,#0005ff 19.5px,#0000f0 20.5px,#00c 22.5px,#0000c0 23.5px,#0000b9 24.5px,#0000b3 26.5px,#0000b2 88.5px)"></i>
<i style="background:linear-gradient(90deg,#ffe300 0.5px,#ffe900 2.5px,#fcff03 4.5px,#e7ff18 5.5px,#cf3 6.5px,#8aff75 8.5px,#1fe 11.5px,#00e7ff 12.5px,#0074ff 15.5px,#0036ff 17.5px,#0007ff 19.5px,#0000f2 20.5px,#0000ce 22.5px,#0000c2 23.5px,#0000ba 24.5px,#0000b3 26.5px,#0000b2 88.5px)"></i>
<i style="background:linear-gradient(90deg,#ffc700 0.5px,#ffcb00 2.5px,#ffd300 3.5px,#ffe100 4.5px,#fff400 5.5px,#f1ff0e 6.5px,#d2ff2d 7.5px,#87ff78 9.5px,#02fffd 12.5px,#0081ff 15.5px,#003cff 17.5px,#0007ff 19.5px,#0000f2 20.5px,#0000ce 22.5px,#0000c2 23.5px,#0000ba 24.5px,#0000b3 26.5px,#0000b2 88.5px)"></i>
<i style="background:linear-gradient(90deg,#ffab00 0.5px,#ffae00 2.5px,#ffb500 3.5px,#ffc100 4.5px,#ffd300 5.5px,#ffeb00 6.5px,#f5ff0a 7.5px,#a8ff57 9.5px,#1bffe4 12.5px,#00e9ff 13.5px,#008eff 15.5px,#0042ff 17.5px,#0008ff 19.5px,#0000f2 20.5px,#0000cf 22.5px,#0000c2 23.5px,#00b 24.5px,#0000b4 26.5px,#0000b2 88.5px)"></i>
<i style="background:linear-gradient(90deg,#ff8b00 0.5px,#ff8e00 2.5px,#ff9400 3.5px,#ffa000 4.5px,#ffb200 5.5px,#ffcb00 6.5px,#ffe900 7.5px,#efff10 8.5px,#96ff69 10.5px,#00fbff 13.5px,#009aff 15.5px,#0048ff 17.5px,#0027ff 18.5px,#000bff 19.5px,#0000f3 20.5px,#0000cf 22.5px,#0000c3 23.5px,#00b 24.5px,#0000b4 26.5px,#0000b2 88.5px)"></i>
<i style="background:linear-gradient(90deg,#f60 0.5px,#ff6a00 2.5px,#ff7100 3.5px,#ff7e00 4.5px,#ff9200 5.5px,#ffac00 6.5px,#ffcd00 7.5px,#fff500 8.5px,#dcff23 9.5px,#af5 10.5px,#08fff7 13.5px,#00d3ff 14.5px,#0075ff 16.5px,#004dff 17.5px,#002bff 18.5px,#000eff 19.5px,#0000f5 20.5px,#0000d0 22.5px,#0000c4 23.5px,#0000b6 25.5px,#0000b3 27.5px,#0000b2 88.5px)"></i>
<i style="background:linear-gradient(90deg,#ff3e00 0.5px,#ff4200 2.5px,#ff4b00 3.5px,#ff5a00 4.5px,#ff7100 5.5px,#ff8f00 6.5px,#ffb400 7.5px,#ffe000 8.5px,#ecff13 9.5px,#0dfff2 13.5px,#00d6ff 14.5px,#0076ff 16.5px,#004dff 17.5px,#002bff 18.5px,#000eff 19.5px,#0000f5 20.5px,#0000d1 22.5px,#0000c4 23.5px,#0000b6 25.5px,#0000b3 27.5px,#0000b2 88.5px)"></i>
<i style="background:linear-gradient(90deg,#f10 0.5px,#ff1700 2.5px,#f20 3.5px,#ff3500 4.5px,#ff5000 5.5px,#ff7400 6.5px,#ff9e00 7.5px,#ffcf00 8.5px,#f8ff07 9.5px,#0cfff3 13.5px,#00d4ff 14.5px,#00a1ff 15.5px,#0073ff 16.5px,#004bff 17.5px,#0029ff 18.5px,#000cff 19.5px,#0000f5 20.5px,#0000d1 22.5px,#0000c4 23.5px,#0000b6 25.5px,#0000b3 27.5px,#0000b2 88.5px)"></i>
<i style="background:linear-gradient(90deg,#e10000 0.5px,#e20000 1.5px,#e90000 2.5px,#f70000 3.5px,#ff1000 4.5px,#ff3000 5.5px,#ff5900 6.5px,#ff8a00 7.5px,#fffd00 9.5px,#c3ff3c 10.5px,#08fff7 13.5px,#00cfff 14.5px,#009cff 15.5px,#006fff 16.5px,#0047ff 17.5px,#0026ff 18.5px,#000aff 19.5px,#0000f3 20.5px,#0000d0 22.5px,#0000c4 23.5px,#0000b7 25.5px,#0000b3 27.5px,#0000b2 88.5px)"></i>
<i style="background:linear-gradient(90deg,#ac0000 0.5px,#ae0000 1.5px,#b70000 2.5px,#c90000 3.5px,#e60000 4.5px,#ff0d00 5.5px,#ff3d00 6.5px,#ff7400 7.5px,#fff200 9.5px,#c9ff36 10.5px,#4fb 12.5px,#06fff9 13.5px,#0cf 14.5px,#09f 15.5px,#006bff 16.5px,#04f 17.5px,#0023ff 18.5px,#0009ff 19.5px,#0000f2 20.5px,#0000d0 22.5px,#0000c4 23.5px,#0000b7 25.5px,#0000b3 27.5px,#0000b2 88.5px)"></i>
<i style="background:linear-gradient(90deg,#800000 0.5px,#810000 2.5px,#970000 3.5px,#b80000 4.5px,#e50000 5.5px,#ff1b00 6.5px,#ff5900 7.5px,#ffe300 9.5px,#d3ff2c 10.5px,#47ffb8 12.5px,#07fff8 13.5px,#00cbff 14.5px,#0097ff 15.5px,#0069ff 16.5px,#0042ff 17.5px,#0021ff 18.5px,#0006ff 19.5px,#0000f0 20.5px,#0000cf 22.5px,#0000c3 23.5px,#0000b6 25.5px,#0000b3 27.5px,#0000b2 88.5px)"></i>
<i style="background:linear-gradient(90deg,#800000 0.5px,#800000 3.5px,#840000 4.5px,#b70000 5.5px,#f40000 6.5px,#ff3900 7.5px,#ffd100 9.5px,#dfff20 10.5px,#4affb5 12.5px,#07fff8 13.5px,#00c9ff 14.5px,#0093ff 15.5px,#0065ff 16.5px,#003eff 17.5px,#001dff 18.5px,#0003ff 19.5px,#0000dc 21.5px,#0000c2 23.5px,#00b 24.5px,#0000b4 26.5px,#0000b2 88.5px)"></i>
<i style="background:linear-gradient(90deg,#800000 0.5px,#800000 4.5px,#870000 5.5px,#c00 6.5px,#ff1a00 7.5px,#ffc000 9.5px,#e9ff16 10.5px,#4bffb4 12.5px,#05fffa 13.5px,#00c5ff 14.5px,#008fff 15.5px,#0060ff 16.5px,#0038ff 17.5px,#0018ff 18.5px,#0000fe 19.5px,#0000ea 20.5px,#0000cb 22.5px,#0000ba 24.5px,#0000b4 26.5px,#0000b2 88.5px)"></i>
<i style="background:linear-gradient(90deg,#800000 0.5px,#800000 5.5px,#a00 6.5px,#f00 7.5px,#ffb500 9.5px,#f0ff0f 10.5px,#9aff65 11.5px,#4affb5 12.5px,#01fffe 13.5px,#00c0ff 14.5px,#08f 15.5px,#0059ff 16.5px,#03f 17.5px,#0013ff 18.5px,#0000f9 19.5px,#0000e6 20.5px,#0000c9 22.5px,#0000b9 24.5px,#0000b4 26.5px,#0000b2 88.5px)"></i>
<i style="background:linear-gradient(90deg,#800000 0.5px,#800000 5.5px,#8f0000 6.5px,#eb0000 7.5px,#ff4c00 8.5px,#ffad00 9.5px,#f2ff0d 10.5px,#9f6 11.5px,#46ffb9 12.5px,#00fbff 13.5px,#00baff 14.5px,#0083ff 15.5px,#0054ff 16.5px,#002eff 17.5px,#000fff 18.5px,#0000f6 19.5px,#0000e3 20.5px,#0000c8 22.5px,#0000b9 24.5px,#0000b3 26.5px,#0000b2 88.5px)"></i>
<i style="background:linear-gradient(90deg,#800000 0.5px,#800000 6.5px,#d50000 7.5px,#ff3d00 8.5px,#ffa300 9.5px,#f9ff06 10.5px,#9cff63 11.5px,#48ffb7 12.5px,#00fcff 13.5px,#00baff 14.5px,#0082ff 15.5px,#0054ff 16.5px,#002dff 17.5px,#000fff 18.5px,#0000f6 19.5px,#0000e3 20.5px,#0000c8 22.5px,#0000b9 24.5px,#0000b3 26.5px,#0000b2 88.5px)"></i>
<i style="background:linear-gradient(90deg,#800000 0.5px,#800000 6.5px,#ce0000 7.5px,#ff3900 8.5px,#ffa200 9.5px,#f8ff07 10.5px,#9aff65 11.5px,#46ffb9 12.5px,#00faff 13.5px,#00b9ff 14.5px,#0081ff 15.5px,#0053ff 16.5px,#002eff 17.5px,#000fff 18.5px,#0000f7 19.5px,#0000e4 20.5px,#0000c8 22.5px,#0000b9 24.5px,#0000b3 26.5px,#0000b2 88.5px)"></i>
<i style="background:linear-gradient(90deg,#800000 0.5px,#800000 6.5px,#e20000 7.5px,#ff4d00 8.5px,#ffb500 9.5px,#e7ff18 10.5px,#8cff73 11.5px,#3affc5 12.5px,#00f1ff 13.5px,#00b2ff 14.5px,#007dff 15.5px,#0051ff 16.5px,#002cff 17.5px,#000fff 18.5px,#0000f7 19.5px,#0000d4 21.5px,#0000c7 22.5px,#0000b8 24.5px,#0000b3 26.5px,#0000b2 88.5px)"></i>
<i style="background:linear-gradient(90deg,#800000 0.5px,#800000 5.5px,#9c0000 6.5px,#ff0500 7.5px,#ffd200 9.5px,#ceff31 10.5px,#78ff87 11.5px,#2affd5 12.5px,#00e4ff 13.5px,#00a9ff 14.5px,#07f 15.5px,#004dff 16.5px,#002bff 17.5px,#000fff 18.5px,#0000f8 19.5px,#0000d3 21.5px,#0000c6 22.5px,#0000b7 24.5px,#0000b3 26.5px,#0000b2 88.5px)"></i>
<i style="background:linear-gradient(90deg,#800000 0.5px,#800000 5.5px,#c90000 6.5px,#ff3000 7.5px,#fff300 9.5px,#b2ff4d 10.5px,#61ff9e 11.5px,#18ffe7 12.5px,#00d7ff 13.5px,#00a0ff 14.5px,#0071ff 15.5px,#004aff 16.5px,#0029ff 17.5px,#000fff 18.5px,#0000f7 19.5px,#0000d0 21.5px,#0000c3 22.5px,#00b 23.5px,#0000b3 25.5px,#0000b2 88.5px)"></i>
<i style="background:linear-gradient(90deg,#800000 0.5px,#800000 4.5px,#900 5.5px,#fa0000 6.5px,#ffbc00 8.5px,#e8ff17 9.5px,#95ff6a 10.5px,#4affb5 11.5px,#07fff8 12.5px,#00caff 13.5px,#0097ff 14.5px,#006cff 15.5px,#0047ff 16.5px,#000fff 18.5px,#0000f5 19.5px,#0000cd 21.5px,#0000c1 22.5px,#0000b9 23.5px,#0000b3 25.5px,#0000b2 88.5px)"></i>
<i style="background:linear-gradient(90deg,#800000 0.5px,#800000 3.5px,#860000 4.5px,#e10000 5.5px,#ff3f00 6.5px,#fff100 8.5px,#bf4 9.5px,#71ff8e 10.5px,#2dffd2 11.5px,#00efff 12.5px,#00baff 13.5px,#008dff 14.5px,#0065ff 15.5px,#04f 16.5px,#000dff 18.5px,#0000f2 19.5px,#0000dc 20.5px,#0000cb 21.5px,#0000bf 22.5px,#0000b8 23.5px,#0000b3 25.5px,#0000b2 88.5px)"></i>
<i style="background:linear-gradient(90deg,#800000 0.5px,#800000 2.5px,#930000 3.5px,#e50000 4.5px,#ff3c00 5.5px,#ffe200 7.5px,#ceff31 8.5px,#87ff78 9.5px,#45ffba 10.5px,#0afff5 11.5px,#00d5ff 12.5px,#00a7ff 13.5px,#007eff 14.5px,#005cff 15.5px,#0009ff 18.5px,#00e 19.5px,#0000d8 20.5px,#0000c8 21.5px,#0000bd 22.5px,#0000b3 24.5px,#0000b2 88.5px)"></i>
<i style="background:linear-gradient(90deg,#800000 0.5px,#800000 1.5px,#ab0000 2.5px,#f20000 3.5px,#ff4000 4.5px,#ffdb00 6.5px,#daff25 7.5px,#96ff69 8.5px,#57ffa8 9.5px,#1effe1 10.5px,#00e9ff 11.5px,#00bcff 12.5px,#0093ff 13.5px,#0052ff 15.5px,#0004ff 18.5px,#0000ea 19.5px,#0000d5 20.5px,#0000c6 21.5px,#00b 22.5px,#0000b3 24.5px,#0000b2 88.5px)"></i>
<i style="background:linear-gradient(90deg,#a00 0.5px,#b70000 1.5px,#ef0000 2.5px,#ff3400 3.5px,#ffc500 5.5px,#f2ff0d 6.5px,#70ff8f 8.5px,#37ffc8 9.5px,#02fffd 10.5px,#00d2ff 11.5px,#00a9ff 12.5px,#0064ff 14.5px,#0048ff 15.5px,#0000fe 18.5px,#0000d3 20.5px,#0000c4 21.5px,#0000ba 22.5px,#0000b3 24.5px,#0000b2 88.5px)"></i>
<i style="background:linear-gradient(90deg,#d7ff28 0.5px,#ff3a00 1.5px,#fa0000 2.5px,#ff3800 3.5px,#fc0 5.5px,#e8ff17 6.5px,#a0ff5f 7.5px,#5effa1 8.5px,#2fd 9.5px,#00ebff 10.5px,#0bf 11.5px,#0091ff 12.5px,#006cff 13.5px,#004dff 14.5px,#0032ff 15.5px,#0007ff 17.5px,#0000ef 18.5px,#0000cb 20.5px,#0000bf 21.5px,#0000b8 22.5px,#0000b3 24.5px,#0000b2 88.5px)"></i>
<i style="background:linear-gradient(90deg,#00e6ff 0.5px,#40ffbf 1.5px,#ff8a00 2.5px,#ff4100 3.5px,#ff8200 4.5px,#ffcf00 5.5px,#e0ff1f 6.5px,#95ff6a 7.5px,#4effb1 8.5px,#0ffff0 9.5px,#00d5ff 10.5px,#00a4ff 11.5px,#0079ff 12.5px,#05f 13.5px,#0037ff 14.5px,#001dff 15.5px,#0008ff 16.5px,#0000f5 17.5px,#0000d1 19.5px,#0000c4 20.5px,#00b 21.5px,#0000b3 23.5px,#0000b2 88.5px)"></i>
<i style="background:linear-gradient(90deg,#0085ff 0.5px,#009bff 1.5px,#97ff68 2.5px,#ff8300 3.5px,#ffa200 4.5px,#ffea00 5.5px,#c8ff37 6.5px,#7dff82 7.5px,#38ffc7 8.5px,#00f8ff 9.5px,#00c1ff 10.5px,#0091ff 11.5px,#0068ff 12.5px,#0046ff 13.5px,#0029ff 14.5px,#01f 15.5px,#0000fd 16.5px,#0000db 18.5px,#0000c1 20.5px,#0000b9 21.5px,#0000b3 23.5px,#0000b2 88.5px)"></i>
<i style="background:linear-gradient(90deg,#0032ff 0.5px,#003cff 1.5px,#06fff9 2.5px,#fffc00 3.5px,#ffd200 4.5px,#edff12 5.5px,#5fffa0 7.5px,#1effe1 8.5px,#00e1ff 9.5px,#00adff 10.5px,#0080ff 11.5px,#005aff 12.5px,#003aff 13.5px,#0009ff 15.5px,#0000f6 16.5px,#0000d6 18.5px,#0000bf 20.5px,#0000b8 21.5px,#0000b3 23.5px,#0000b2 88.5px)"></i>
<i style="background:linear-gradient(90deg,#0000fe 0.5px,#0004ff 1.5px,#00a6ff 2.5px,#92ff6d 3.5px,#f7ff08 4.5px,#c2ff3d 5.5px,#40ffbf 7.5px,#02fffd 8.5px,#009aff 10.5px,#0070ff 11.5px,#004cff 12.5px,#002fff 13.5px,#0002ff 15.5px,#0000c7 19.5px,#0000b8 21.5px,#0000b3 23.5px,#0000b2 88.5px)"></i>
<i style="background:linear-gradient(90deg,#0000de 0.5px,#0000e1 1.5px,#0064ff 2.5px,#36ffc9 3.5px,#b8ff47 4.5px,#96ff69 5.5px,#21ffde 7.5px,#00e8ff 8.5px,#00b5ff 9.5px,#0089ff 10.5px,#0062ff 11.5px,#0041ff 12.5px,#0026ff 13.5px,#000fff 14.5px,#0000fb 15.5px,#0000c5 19.5px,#0000b7 21.5px,#0000b3 23.5px,#0000b2 88.5px)"></i>
<i style="background:linear-gradient(90deg,#0000ca 0.5px,#00c 1.5px,#0036ff 2.5px,#00ebff 3.5px,#74ff8b 4.5px,#6bff94 5.5px,#03fffc 7.5px,#00a2ff 9.5px,#0079ff 10.5px,#0056ff 11.5px,#001fff 13.5px,#000aff 14.5px,#0000f7 15.5px,#0000c5 19.5px,#0000b7 21.5px,#0000b3 23.5px,#0000b2 88.5px)"></i>
<i style="background:linear-gradient(90deg,#0000ba 0.5px,#00b 1.5px,#0010ff 2.5px,#00acff 3.5px,#32ffcd 4.5px,#45ffba 5.5px,#19ffe6 6.5px,#00e8ff 7.5px,#0091ff 9.5px,#004bff 11.5px,#0030ff 12.5px,#0005ff 14.5px,#0000f4 15.5px,#0000c4 19.5px,#0000b7 21.5px,#0000b3 23.5px,#0000b2 88.5px)"></i>
<i style="background:linear-gradient(90deg,#0000af 0.5px,#0000af 1.5px,#0000eb 2.5px,#0072ff 3.5px,#00f1ff 4.5px,#1fffe0 5.5px,#00f9ff 6.5px,#00a6ff 8.5px,#005eff 10.5px,#0028ff 12.5px,#00f 14.5px,#0000e4 16.5px,#0000c3 19.5px,#0000b6 21.5px,#0000b3 23.5px,#0000b2 88.5px)"></i>
<i style="background:linear-gradient(90deg,#0000a7 0.5px,#0000a7 1.5px,#0000c9 2.5px,#003fff 3.5px,#00b8ff 4.5px,#00f7ff 5.5px,#00deff 6.5px,#0094ff 8.5px,#0052ff 10.5px,#0020ff 12.5px,#000cff 13.5px,#0000fa 14.5px,#0000e1 16.5px,#0000c2 19.5px,#0000b6 21.5px,#0000b3 23.5px,#0000b2 88.5px)"></i>
<i style="background:linear-gradient(90deg,#0000a0 0.5px,#0000a0 1.5px,#0000b0 2.5px,#0015ff 3.5px,#008aff 4.5px,#00d5ff 5.5px,#00cbff 6.5px,#0067ff 9.5px,#0031ff 11.5px,#0008ff 13.5px,#0000f7 14.5px,#0000df 16.5px,#0000c2 19.5px,#0000b6 21.5px,#0000b3 23.5px,#0000b2 88.5px)"></i>
<i style="background:linear-gradient(90deg,#00009b 0.5px,#00009b 1.5px,#0000a7 2.5px,#0000f3 3.5px,#0065ff 4.5px,#00b8ff 5.5px,#00beff 6.5px,#0062ff 9.5px,#002eff 11.5px,#0006ff 13.5px,#0000f6 14.5px,#0000de 16.5px,#0000c2 19.5px,#0000b6 21.5px,#0000b3 23.5px,#0000b2 88.5px)"></i>
<i style="background:linear-gradient(90deg,#000097 0.5px,#000097 1.5px,#00009f 2.5px,#0000d6 3.5px,#0043ff 4.5px,#009cff 5.5px,#00b4ff 6.5px,#005eff 9.5px,#002bff 11.5px,#0005ff 13.5px,#0000f5 14.5px,#0000de 16.5px,#0000c2 19.5px,#0000b7 21.5px,#0000b3 23.5px,#0000b2 88.5px)"></i>
<i style="background:linear-gradient(90deg,#000093 0.5px,#000098 2.5px,#0000ba 3.5px,#02f 4.5px,#007fff 5.5px,#00a8ff 6.5px,#0091ff 7.5px,#0059ff 9.5px,#0029ff 11.5px,#0003ff 13.5px,#0000f4 14.5px,#00d 16.5px,#0000c3 19.5px,#0000b7 21.5px,#0000b3 23.5px,#0000b2 88.5px)"></i>
<i style="background:linear-gradient(90deg,#000091 0.5px,#000093 2.5px,#0000ac 3.5px,#0004ff 4.5px,#0062ff 5.5px,#0097ff 6.5px,#008aff 7.5px,#003dff 10.5px,#0013ff 12.5px,#0002ff 13.5px,#0000f3 14.5px,#00d 16.5px,#0000c4 19.5px,#0000b8 21.5px,#0000b3 23.5px,#0000b2 88.5px)"></i>
<i style="background:linear-gradient(90deg,#000090 0.5px,#000090 2.5px,#0000a4 3.5px,#0000e7 4.5px,#0045ff 5.5px,#0083ff 6.5px,#0083ff 7.5px,#003aff 10.5px,#0012ff 12.5px,#0001ff 13.5px,#0000e6 15.5px,#0000d4 17.5px,#0000bf 20.5px,#0000b3 23.5px,#0000b2 88.5px)"></i>
<i style="background:linear-gradient(90deg,#00008e 0.5px,#00008e 2.5px,#00009c 3.5px,#0000ca 4.5px,#0026ff 5.5px,#006bff 6.5px,#007aff 7.5px,#02f 11.5px,#00f 13.5px,#0000e5 15.5px,#0000d4 17.5px,#0000ba 21.5px,#0000b3 24.5px,#0000b2 88.5px)"></i>
<i style="background:linear-gradient(90deg,#00008d 0.5px,#00008d 2.5px,#000096 3.5px,#0000b1 4.5px,#0004ff 5.5px,#004dff 6.5px,#006cff 7.5px,#001dff 11.5px,#000cff 12.5px,#0000fc 13.5px,#0000e4 15.5px,#0000d3 17.5px,#00b 21.5px,#0000b3 24.5px,#0000b2 88.5px)"></i>
<i style="background:linear-gradient(90deg,#00008c 0.5px,#00008c 2.5px,#000090 3.5px,#0000a6 4.5px,#0000e2 5.5px,#002cff 6.5px,#0056ff 7.5px,#004eff 8.5px,#0007ff 12.5px,#0000f8 13.5px,#0000e1 15.5px,#0000d1 17.5px,#00b 21.5px,#0000b3 24.5px,#0000b2 88.5px)"></i>
<i style="background:linear-gradient(90deg,#00008c 0.5px,#00008d 3.5px,#00009d 4.5px,#0000c2 5.5px,#000aff 6.5px,#003cff 7.5px,#0041ff 8.5px,#0002ff 12.5px,#0000df 15.5px,#0000d0 17.5px,#0000bc 21.5px,#0000b3 24.5px,#0000b2 88.5px)"></i>
<i style="background:linear-gradient(90deg,#00008b 0.5px,#00008b 3.5px,#000096 4.5px,#0000ad 5.5px,#0000e9 6.5px,#0020ff 7.5px,#0034ff 8.5px,#000aff 11.5px,#0000fc 12.5px,#0000e5 14.5px,#0000ce 17.5px,#0000bc 21.5px,#0000b4 24.5px,#0000b2 88.5px)"></i>
<i style="background:linear-gradient(90deg,#00008b 0.5px,#00008b 3.5px,#000090 4.5px,#0000a3 5.5px,#0000cb 6.5px,#0006ff 7.5px,#0025ff 8.5px,#001fff 9.5px,#0005ff 11.5px,#0000f8 12.5px,#0000e3 14.5px,#0000cd 17.5px,#0000b9 22.5px,#0000b3 25.5px,#0000b2 88.5px)"></i>
<i style="background:linear-gradient(90deg,#00008b 0.5px,#00008c 4.5px,#00009b 5.5px,#0000b1 6.5px,#0000ea 7.5px,#0014ff 8.5px,#0018ff 9.5px,#0001ff 11.5px,#0000f5 12.5px,#0000e1 14.5px,#00c 17.5px,#0000b9 22.5px,#0000b3 25.5px,#0000b2 88.5px)"></i>
<i style="background:linear-gradient(90deg,#00008a 0.5px,#00008a 4.5px,#000093 5.5px,#0000a7 6.5px,#0000cf 7.5px,#0000fe 8.5px,#01f 9.5px,#0000fd 11.5px,#0000e0 14.5px,#00c 17.5px,#0000ba 22.5px,#0000b3 25.5px,#0000b2 88.5px)"></i>
<i style="background:linear-gradient(90deg,#00008a 0.5px,#00008a 4.5px,#00008e 5.5px,#00009d 6.5px,#0000b4 7.5px,#0000e6 8.5px,#0006ff 9.5px,#0004ff 10.5px,#0000f9 11.5px,#0000de 14.5px,#0000cb 17.5px,#0000bf 20.5px,#0000b4 25.5px,#0000b2 88.5px)"></i>
<i style="background:linear-gradient(90deg,#00008a 0.5px,#00008a 5.5px,#000095 6.5px,#0000a8 7.5px,#0000f4 9.5px,#0000fe 10.5px,#00d 14.5px,#0000ca 17.5px,#0000bf 20.5px,#0000b4 25.5px,#0000b2 88.5px)"></i>
<i style="background:linear-gradient(90deg,#00008a 0.5px,#00008a 5.5px,#00008f 6.5px,#00009f 7.5px,#0000b5 8.5px,#0000e1 9.5px,#0000f8 10.5px,#0000d5 15.5px,#0000c5 18.5px,#0000b3 26.5px,#0000b2 88.5px)"></i>
<i style="background:linear-gradient(90deg,#00008a 0.5px,#00008b 6.5px,#000097 7.5px,#00a 8.5px,#0000ec 10.5px,#0000f0 11.5px,#0000d4 15.5px,#0000c5 18.5px,#0000b4 26.5px,#0000b2 88.5px)"></i>
<i style="background:linear-gradient(90deg,#000089 0.5px,#000089 6.5px,#000091 7.5px,#0000a1 8.5px,#0000b6 9.5px,#00d 10.5px,#0000ed 11.5px,#0000d3 15.5px,#0000c5 18.5px,#0000b4 26.5px,#0000b2 88.5px)"></i>
<i style="background:linear-gradient(90deg,#000089 0.5px,#00008c 7.5px,#009 8.5px,#0000ab 9.5px,#00c 10.5px,#0000e6 11.5px,#0000e5 12.5px,#0000cd 16.5px,#0000c1 19.5px,#0000b3 27.5px,#0000b2 88.5px)"></i>
<i style="background:linear-gradient(90deg,#000089 0.5px,#000089 7.5px,#000092 8.5px,#0000a3 9.5px,#0000b8 10.5px,#0000da 11.5px,#0000e3 12.5px,#0000cd 16.5px,#0000c1 19.5px,#0000b3 27.5px,#0000b2 88.5px)"></i>
<i style="background:linear-gradient(90deg,#000089 0.5px,#000089 7.5px,#00008d 8.5px,#0000ac 10.5px,#0000cb 11.5px,#0000df 12.5px,#0000c1 19.5px,#0000b4 27.5px,#0000b2 88.5px)"></i>
<i style="background:linear-gradient(90deg,#000089 0.5px,#00008a 8.5px,#000094 9.5px,#0000a4 10.5px,#0000b9 11.5px,#0000d6 12.5px,#0000db 13.5px,#0000c8 17.5px,#0000be 20.5px,#0000b3 28.5px,#0000b2 88.5px)"></i>
<i style="background:linear-gradient(90deg,#008 0.5px,#008 8.5px,#00008e 9.5px,#0000ad 11.5px,#0000c9 12.5px,#0000d9 13.5px,#0000be 20.5px,#0000b3 28.5px,#0000b2 88.5px)"></i>
<i style="background:linear-gradient(90deg,#008 0.5px,#00008a 9.5px,#000095 10.5px,#0000a5 11.5px,#0000b9 12.5px,#0000d2 13.5px,#0000d4 14.5px,#0000bc 21.5px,#0000b3 29.5px,#0000b2 88.5px)"></i>
<i style="background:linear-gradient(90deg,#008 0.5px,#008 9.5px,#00008f 10.5px,#00009d 11.5px,#0000ad 12.5px,#0000c7 13.5px,#0000d3 14.5px,#0000bc 21.5px,#0000b3 29.5px,#0000b2 88.5px)"></i>
<i style="background:linear-gradient(90deg,#008 0.5px,#00008a 10.5px,#0000a5 12.5px,#0000b7 13.5px,#0000ce 14.5px,#0000cf 15.5px,#0000bc 21.5px,#0000b3 29.5px,#0000b2 88.5px)"></i>
<i style="background:linear-gradient(90deg,#008 0.5px,#008 10.5px,#00008f 11.5px,#00009d 12.5px,#0000ac 13.5px,#0000c3 14.5px,#0000cd 15.5px,#0000ba 22.5px,#0000b3 30.5px,#0000b2 88.5px)"></i>
<i style="background:linear-gradient(90deg,#008 0.5px,#00008a 11.5px,#000095 12.5px,#0000b3 14.5px,#0000c9 15.5px,#0000ca 16.5px,#0000ba 22.5px,#0000b3 30.5px,#0000b2 88.5px)"></i>
<i style="background:linear-gradient(90deg,#008 0.5px,#008 11.5px,#00008e 12.5px,#0000ab 14.5px,#0000be 15.5px,#0000c9 16.5px,#0000b9 23.5px,#0000b3 31.5px,#0000b2 88.5px)"></i>
<i style="background:linear-gradient(90deg,#008 0.5px,#00008a 12.5px,#000094 13.5px,#0000b1 15.5px,#0000c5 16.5px,#0000c6 17.5px,#0000b9 23.5px,#0000b3 31.5px,#0000b2 88.5px)"></i>
<i style="background:linear-gradient(90deg,#008 0.5px,#008 12.5px,#00008e 13.5px,#0000ba 16.5px,#0000c5 17.5px,#0000b8 24.5px,#0000b3 32.5px,#0000b2 88.5px)"></i>
<i style="background:linear-gradient(90deg,#000087 0.5px,#000089 13.5px,#000094 14.5px,#0000c1 17.5px,#0000c3 18.5px,#0000b8 24.5px,#0000b3 32.5px,#0000b2 88.5px)"></i>
<i style="background:linear-gradient(90deg,#000087 0.5px,#000087 13.5px,#00008d 14.5px,#0000b8 17.5px,#0000c2 18.5px,#0000b7 25.5px,#0000b3 33.5px,#0000b2 88.5px)"></i>
<i style="background:linear-gradient(90deg,#000087 0.5px,#000089 14.5px,#000093 15.5px,#0000bf 18.5px,#0000c0 19.5px,#0000b7 25.5px,#0000b3 33.5px,#0000b2 88.5px)"></i>
<i style="background:linear-gradient(90deg,#000087 0.5px,#000087 14.5px,#00008d 15.5px,#0000c0 19.5px,#0000b7 25.5px,#0000b3 33.5px,#0000b2 88.5px)"></i>
<i style="background:linear-gradient(90deg,#000087 0.5px,#000089 15.5px,#000092 16.5px,#0000bc 19.5px,#0000be 20.5px,#0000b6 26.5px,#0000b3 34.5px,#0000b2 88.5px)"></i>
<i style="background:linear-gradient(90deg,#000087 0.5px,#000087 15.5px,#00008d 16.5px,#0000be 20.5px,#0000b6 26.5px,#0000b3 34.5px,#0000b2 88.5px)"></i>
<i style="background:linear-gradient(90deg,#000087 0.5px,#000089 16.5px,#000092 17.5px,#0000ba 20.5px,#0000bc 21.5px,#0000b6 27.5px,#0000b3 35.5px,#0000b2 88.5px)"></i>
<i style="background:linear-gradient(90deg,#000087 0.5px,#000087 16.5px,#00008c 17.5px,#0000bc 21.5px,#0000b3 35.5px,#0000b2 88.5px)"></i>
</div>
<svg width="725" height="291" viewBox="0 0 725 291">
<defs><linearGradient id="jet" x1="0" y1="0" x2="0" y2="1"><stop offset="0.0000" stop-color="#800000"/><stop offset="0.0312" stop-color="#9f0000"/><stop offset="0.0625" stop-color="#bf0000"/><stop offset="0.0938" stop-color="#df0000"/><stop offset="0.1250" stop-color="#f00"/><stop offset="0.1562" stop-color="#ff2000"/><stop offset="0.1875" stop-color="#ff4000"/><stop offset="0.2188" stop-color="#ff6000"/><stop offset="0.2500" stop-color="#ff8000"/><stop offset="0.2812" stop-color="#ff9f00"/><stop offset="0.3125" stop-color="#ffbf00"/><stop offset="0.3438" stop-color="#ffdf00"/><stop offset="0.3750" stop-color="#ff0"/><stop offset="0.4062" stop-color="#dfff20"/><stop offset="0.4375" stop-color="#bfff40"/><stop offset="0.4688" stop-color="#9fff60"/><stop offset="0.5000" stop-color="#80ff80"/><stop offset="0.5312" stop-color="#60ff9f"/><stop offset="0.5625" stop-color="#40ffbf"/><stop offset="0.5938" stop-color="#20ffdf"/><stop offset="0.6250" stop-color="#0ff"/><stop offset="0.6562" stop-color="#00dfff"/><stop offset="0.6875" stop-color="#00bfff"/><stop offset="0.7188" stop-color="#009fff"/><stop offset="0.7500" stop-color="#0080ff"/><stop offset="0.7812" stop-color="#0060ff"/><stop offset="0.8125" stop-color="#0040ff"/><stop offset="0.8438" stop-color="#0020ff"/><stop offset="0.8750" stop-color="#00f"/><stop offset="0.9062" stop-color="#0000df"/><stop offset="0.9375" stop-color="#0000bf"/><stop offset="0.9688" stop-color="#00009f"/><stop offset="1.0000" stop-color="#000080"/></linearGradient></defs>
<path d="M26.60 15.80H121.40V119.50H26.60Z" fill="none" stroke="#9c9c9c" stroke-width="0.9"/>
<path d="M29.00 32.60 L31.11 32.57 L33.23 32.48 L35.34 32.34 L37.45 32.13 L39.57 31.87 L41.68 31.55 L43.79 31.17 L45.91 30.73 L48.02 30.24 L50.13 29.68 L52.25 29.07 L54.36 28.40 L56.47 27.67 L58.59 26.88 L60.70 26.04 L62.81 25.13 L64.93 24.17 L67.04 23.15 L69.16 22.07 L71.27 20.93 L73.38 19.74 L75.50 18.48 L77.61 17.17 L79.72 15.80" fill="none" stroke="#666" stroke-width="0.8"/>
<text x="25.00" y="52.69" font-size="7.5" text-anchor="end" class="s" fill="#111">-5</text>
<text x="25.00" y="70.04" font-size="7.5" text-anchor="end" class="s" fill="#111">-10</text>
<text x="25.00" y="87.39" font-size="7.5" text-anchor="end" class="s" fill="#111">-15</text>
<text x="25.00" y="104.74" font-size="7.5" text-anchor="end" class="s" fill="#111">-20</text>
<text x="25.00" y="122.09" font-size="7.5" text-anchor="end" class="s" fill="#111">-25</text>
<text x="29.00" y="128.74" font-size="7.5" text-anchor="middle" class="s" fill="#111">0</text>
<text x="63.70" y="128.74" font-size="7.5" text-anchor="middle" class="s" fill="#111">1</text>
<path d="M26.60 32.60h1.6M121.40 32.60h-1.6M26.60 49.95h1.6M121.40 49.95h-1.6M26.60 67.30h1.6M121.40 67.30h-1.6M26.60 84.65h1.6M121.40 84.65h-1.6M26.60 102.00h1.6M121.40 102.00h-1.6M26.60 119.35h1.6M121.40 119.35h-1.6M29.00 15.80v1.6M29.00 119.50v-1.6M63.70 15.80v1.6M63.70 119.50v-1.6M98.40 15.80v1.6M98.40 119.50v-1.6" stroke="#444" stroke-width="0.7" fill="none"/>
<text x="122.30" y="128.74" font-size="7.5" text-anchor="end" class="s" fill="#111">×10<tspan dy="-3.75" font-size="5.25">-4</tspan><tspan dy="3.75" font-size="6.525"> m</tspan></text>
<text x="0.30" y="23.14" font-size="7.5" text-anchor="start" class="s" fill="#111">×10<tspan dy="-3.75" font-size="5.25">-5</tspan></text>
<text x="0.50" y="29.80" font-size="6.525" text-anchor="start" class="s" fill="#111">m</text>
<text x="50.80" y="12.74" font-size="7.5" text-anchor="start" class="s" fill="#111">Electric field (kV/cm)</text>
<rect x="127.80" y="40.60" width="4.90" height="66.40" fill="url(#jet)"/>
<text x="134.80" y="43.74" font-size="7.5" text-anchor="start" class="s" fill="#111">200</text>
<text x="134.80" y="60.14" font-size="7.5" text-anchor="start" class="s" fill="#111">150</text>
<text x="134.80" y="76.54" font-size="7.5" text-anchor="start" class="s" fill="#111">100</text>
<text x="134.80" y="92.94" font-size="7.5" text-anchor="start" class="s" fill="#111">50</text>
<text x="134.80" y="109.34" font-size="7.5" text-anchor="start" class="s" fill="#111">0</text>
<path d="M123.70 26.40L130.90 26.40L127.30 20.40Z" fill="#000"/>
<path d="M123.70 113.60L130.90 113.60L127.30 119.30Z" fill="#000"/>
<text x="134.00" y="26.64" font-size="7.5" text-anchor="start" class="s" fill="#111">129</text>
<text x="134.50" y="118.89" font-size="7.5" text-anchor="start" class="s" fill="#111">0</text>
<path d="M210.70 16.30H305.20V119.60H210.70Z" fill="none" stroke="#9c9c9c" stroke-width="0.9"/>
<path d="M213.50 32.80 L215.59 32.77 L217.69 32.69 L219.78 32.54 L221.88 32.34 L223.97 32.08 L226.07 31.77 L228.16 31.40 L230.26 30.97 L232.35 30.48 L234.44 29.94 L236.54 29.33 L238.63 28.67 L240.73 27.96 L242.82 27.19 L244.92 26.35 L247.01 25.47 L249.11 24.52 L251.20 23.52 L253.29 22.46 L255.39 21.34 L257.48 20.17 L259.58 18.94 L261.67 17.65 L263.77 16.30" fill="none" stroke="#666" stroke-width="0.8"/>
<text x="209.10" y="52.89" font-size="7.5" text-anchor="end" class="s" fill="#111">-5</text>
<text x="209.10" y="70.24" font-size="7.5" text-anchor="end" class="s" fill="#111">-10</text>
<text x="209.10" y="87.59" font-size="7.5" text-anchor="end" class="s" fill="#111">-15</text>
<text x="209.10" y="104.94" font-size="7.5" text-anchor="end" class="s" fill="#111">-20</text>
<text x="209.10" y="122.29" font-size="7.5" text-anchor="end" class="s" fill="#111">-25</text>
<text x="213.50" y="128.74" font-size="7.5" text-anchor="middle" class="s" fill="#111">0</text>
<text x="248.20" y="128.74" font-size="7.5" text-anchor="middle" class="s" fill="#111">1</text>
<path d="M210.70 32.80h1.6M305.20 32.80h-1.6M210.70 50.15h1.6M305.20 50.15h-1.6M210.70 67.50h1.6M305.20 67.50h-1.6M210.70 84.85h1.6M305.20 84.85h-1.6M210.70 102.20h1.6M305.20 102.20h-1.6M210.70 119.55h1.6M305.20 119.55h-1.6M213.50 16.30v1.6M213.50 119.60v-1.6M248.20 16.30v1.6M248.20 119.60v-1.6M282.90 16.30v1.6M282.90 119.60v-1.6" stroke="#444" stroke-width="0.7" fill="none"/>
<text x="306.10" y="128.74" font-size="7.5" text-anchor="end" class="s" fill="#111">×10<tspan dy="-3.75" font-size="5.25">-4</tspan><tspan dy="3.75" font-size="6.525"> m</tspan></text>
<text x="184.40" y="23.64" font-size="7.5" text-anchor="start" class="s" fill="#111">×10<tspan dy="-3.75" font-size="5.25">-5</tspan></text>
<text x="184.60" y="30.30" font-size="6.525" text-anchor="start" class="s" fill="#111">m</text>
<text x="234.90" y="12.74" font-size="7.5" text-anchor="start" class="s" fill="#111">Electric field (kV/cm)</text>
<rect x="311.60" y="40.60" width="4.90" height="66.40" fill="url(#jet)"/>
<text x="318.60" y="43.74" font-size="7.5" text-anchor="start" class="s" fill="#111">200</text>
<text x="318.60" y="60.14" font-size="7.5" text-anchor="start" class="s" fill="#111">150</text>
<text x="318.60" y="76.54" font-size="7.5" text-anchor="start" class="s" fill="#111">100</text>
<text x="318.60" y="92.94" font-size="7.5" text-anchor="start" class="s" fill="#111">50</text>
<text x="318.60" y="109.34" font-size="7.5" text-anchor="start" class="s" fill="#111">0</text>
<path d="M307.50 26.40L314.70 26.40L311.10 20.40Z" fill="#000"/>
<path d="M307.50 113.60L314.70 113.60L311.10 119.30Z" fill="#000"/>
<text x="317.80" y="26.64" font-size="7.5" text-anchor="start" class="s" fill="#111">193</text>
<text x="318.30" y="118.89" font-size="7.5" text-anchor="start" class="s" fill="#111">0</text>
<path d="M394.10 15.40H489.30V119.30H394.10Z" fill="none" stroke="#9c9c9c" stroke-width="0.9"/>
<path d="M396.80 32.20 L398.91 32.17 L401.03 32.08 L403.14 31.94 L405.25 31.73 L407.37 31.47 L409.48 31.15 L411.59 30.77 L413.71 30.33 L415.82 29.84 L417.93 29.28 L420.05 28.67 L422.16 28.00 L424.27 27.27 L426.39 26.48 L428.50 25.64 L430.61 24.73 L432.73 23.77 L434.84 22.75 L436.96 21.67 L439.07 20.53 L441.18 19.34 L443.30 18.08 L445.41 16.77 L447.52 15.40" fill="none" stroke="#666" stroke-width="0.8"/>
<text x="392.50" y="52.29" font-size="7.5" text-anchor="end" class="s" fill="#111">-5</text>
<text x="392.50" y="69.64" font-size="7.5" text-anchor="end" class="s" fill="#111">-10</text>
<text x="392.50" y="86.99" font-size="7.5" text-anchor="end" class="s" fill="#111">-15</text>
<text x="392.50" y="104.34" font-size="7.5" text-anchor="end" class="s" fill="#111">-20</text>
<text x="392.50" y="121.69" font-size="7.5" text-anchor="end" class="s" fill="#111">-25</text>
<text x="396.80" y="128.54" font-size="7.5" text-anchor="middle" class="s" fill="#111">0</text>
<text x="431.50" y="128.54" font-size="7.5" text-anchor="middle" class="s" fill="#111">1</text>
<path d="M394.10 32.20h1.6M489.30 32.20h-1.6M394.10 49.55h1.6M489.30 49.55h-1.6M394.10 66.90h1.6M489.30 66.90h-1.6M394.10 84.25h1.6M489.30 84.25h-1.6M394.10 101.60h1.6M489.30 101.60h-1.6M394.10 118.95h1.6M489.30 118.95h-1.6M396.80 15.40v1.6M396.80 119.30v-1.6M431.50 15.40v1.6M431.50 119.30v-1.6M466.20 15.40v1.6M466.20 119.30v-1.6" stroke="#444" stroke-width="0.7" fill="none"/>
<text x="490.20" y="128.54" font-size="7.5" text-anchor="end" class="s" fill="#111">×10<tspan dy="-3.75" font-size="5.25">-4</tspan><tspan dy="3.75" font-size="6.525"> m</tspan></text>
<text x="367.80" y="22.74" font-size="7.5" text-anchor="start" class="s" fill="#111">×10<tspan dy="-3.75" font-size="5.25">-5</tspan></text>
<text x="368.00" y="29.40" font-size="6.525" text-anchor="start" class="s" fill="#111">m</text>
<text x="418.30" y="12.54" font-size="7.5" text-anchor="start" class="s" fill="#111">Electric field (kV/cm)</text>
<rect x="495.70" y="39.70" width="4.90" height="66.40" fill="url(#jet)"/>
<text x="502.70" y="42.84" font-size="7.5" text-anchor="start" class="s" fill="#111">200</text>
<text x="502.70" y="59.24" font-size="7.5" text-anchor="start" class="s" fill="#111">150</text>
<text x="502.70" y="75.64" font-size="7.5" text-anchor="start" class="s" fill="#111">100</text>
<text x="502.70" y="92.04" font-size="7.5" text-anchor="start" class="s" fill="#111">50</text>
<text x="502.70" y="108.44" font-size="7.5" text-anchor="start" class="s" fill="#111">0</text>
<path d="M491.60 25.50L498.80 25.50L495.20 19.50Z" fill="#000"/>
<path d="M491.60 112.70L498.80 112.70L495.20 118.40Z" fill="#000"/>
<text x="501.90" y="25.74" font-size="7.5" text-anchor="start" class="s" fill="#111">158</text>
<text x="502.40" y="117.99" font-size="7.5" text-anchor="start" class="s" fill="#111">0</text>
<path d="M578.80 15.40H673.90V119.50H578.80Z" fill="none" stroke="#9c9c9c" stroke-width="0.9"/>
<path d="M583.70 35.30 L586.12 35.27 L588.54 35.16 L590.97 34.99 L593.39 34.75 L595.81 34.44 L598.23 34.06 L600.65 33.61 L603.08 33.09 L605.50 32.50 L607.92 31.85 L610.34 31.12 L612.76 30.32 L615.18 29.46 L617.61 28.53 L620.03 27.53 L622.45 26.46 L624.87 25.32 L627.29 24.11 L629.72 22.83 L632.14 21.48 L634.56 20.06 L636.98 18.58 L639.40 17.02 L641.83 15.40" fill="none" stroke="#666" stroke-width="0.8"/>
<text x="577.20" y="38.04" font-size="7.5" text-anchor="end" class="s" fill="#111">0</text>
<text x="577.20" y="45.62" font-size="7.5" text-anchor="end" class="s" fill="#111">-2</text>
<text x="577.20" y="53.20" font-size="7.5" text-anchor="end" class="s" fill="#111">-4</text>
<text x="577.20" y="60.78" font-size="7.5" text-anchor="end" class="s" fill="#111">-6</text>
<text x="577.20" y="68.36" font-size="7.5" text-anchor="end" class="s" fill="#111">-8</text>
<text x="577.20" y="75.94" font-size="7.5" text-anchor="end" class="s" fill="#111">-10</text>
<text x="577.20" y="83.52" font-size="7.5" text-anchor="end" class="s" fill="#111">-12</text>
<text x="577.20" y="91.10" font-size="7.5" text-anchor="end" class="s" fill="#111">-14</text>
<text x="577.20" y="98.68" font-size="7.5" text-anchor="end" class="s" fill="#111">-16</text>
<text x="577.20" y="106.26" font-size="7.5" text-anchor="end" class="s" fill="#111">-18</text>
<text x="577.20" y="113.84" font-size="7.5" text-anchor="end" class="s" fill="#111">-20</text>
<text x="577.20" y="121.42" font-size="7.5" text-anchor="end" class="s" fill="#111">-22</text>
<text x="583.70" y="128.74" font-size="7.5" text-anchor="middle" class="s" fill="#111">0</text>
<text x="621.60" y="128.74" font-size="7.5" text-anchor="middle" class="s" fill="#111">1</text>
<path d="M578.80 35.30h1.6M673.90 35.30h-1.6M578.80 42.88h1.6M673.90 42.88h-1.6M578.80 50.46h1.6M673.90 50.46h-1.6M578.80 58.04h1.6M673.90 58.04h-1.6M578.80 65.62h1.6M673.90 65.62h-1.6M578.80 73.20h1.6M673.90 73.20h-1.6M578.80 80.78h1.6M673.90 80.78h-1.6M578.80 88.36h1.6M673.90 88.36h-1.6M578.80 95.94h1.6M673.90 95.94h-1.6M578.80 103.52h1.6M673.90 103.52h-1.6M578.80 111.10h1.6M673.90 111.10h-1.6M578.80 118.68h1.6M673.90 118.68h-1.6M583.70 15.40v1.6M583.70 119.50v-1.6M621.60 15.40v1.6M621.60 119.50v-1.6M659.50 15.40v1.6M659.50 119.50v-1.6" stroke="#444" stroke-width="0.7" fill="none"/>
<text x="674.80" y="128.74" font-size="7.5" text-anchor="end" class="s" fill="#111">×10<tspan dy="-3.75" font-size="5.25">-4</tspan><tspan dy="3.75" font-size="6.525"> m</tspan></text>
<text x="552.50" y="22.74" font-size="7.5" text-anchor="start" class="s" fill="#111">×10<tspan dy="-3.75" font-size="5.25">-5</tspan></text>
<text x="552.70" y="29.40" font-size="6.525" text-anchor="start" class="s" fill="#111">m</text>
<text x="603.00" y="12.74" font-size="7.5" text-anchor="start" class="s" fill="#111">Electric field (kV/cm)</text>
<rect x="680.50" y="40.30" width="4.90" height="66.80" fill="url(#jet)"/>
<text x="687.70" y="43.44" font-size="7.5" text-anchor="start" class="s" fill="#111">200</text>
<text x="687.70" y="59.99" font-size="7.5" text-anchor="start" class="s" fill="#111">150</text>
<text x="687.70" y="76.54" font-size="7.5" text-anchor="start" class="s" fill="#111">100</text>
<text x="687.70" y="93.09" font-size="7.5" text-anchor="start" class="s" fill="#111">50</text>
<text x="687.70" y="109.64" font-size="7.5" text-anchor="start" class="s" fill="#111">0</text>
<path d="M676.20 26.60L683.40 26.60L679.80 20.00Z" fill="#000"/>
<path d="M676.20 113.50L683.40 113.50L679.80 119.20Z" fill="#000"/>
<text x="686.70" y="26.54" font-size="7.5" text-anchor="start" class="s" fill="#111">161</text>
<text x="687.20" y="118.79" font-size="7.5" text-anchor="start" class="s" fill="#111">0</text>
<path d="M26.60 160.50H120.00V261.40H26.60Z" fill="none" stroke="#9c9c9c" stroke-width="0.9"/>
<path d="M29.80 176.40 L31.86 176.37 L33.91 176.29 L35.97 176.15 L38.02 175.96 L40.08 175.71 L42.14 175.41 L44.19 175.05 L46.25 174.63 L48.30 174.16 L50.36 173.64 L52.42 173.06 L54.47 172.43 L56.53 171.73 L58.58 170.99 L60.64 170.19 L62.70 169.33 L64.75 168.42 L66.81 167.46 L68.86 166.43 L70.92 165.36 L72.98 164.23 L75.03 163.04 L77.09 161.80 L79.14 160.50" fill="none" stroke="#aaa" stroke-width="0.6"/>
<text x="25.00" y="195.74" font-size="7.5" text-anchor="end" class="s" fill="#111">-5</text>
<text x="25.00" y="213.14" font-size="7.5" text-anchor="end" class="s" fill="#111">-10</text>
<text x="25.00" y="230.54" font-size="7.5" text-anchor="end" class="s" fill="#111">-15</text>
<text x="25.00" y="247.94" font-size="7.5" text-anchor="end" class="s" fill="#111">-20</text>
<text x="29.80" y="270.94" font-size="7.5" text-anchor="middle" class="s" fill="#111">0</text>
<text x="64.60" y="270.94" font-size="7.5" text-anchor="middle" class="s" fill="#111">1</text>
<path d="M26.60 175.60h1.6M120.00 175.60h-1.6M26.60 193.00h1.6M120.00 193.00h-1.6M26.60 210.40h1.6M120.00 210.40h-1.6M26.60 227.80h1.6M120.00 227.80h-1.6M26.60 245.20h1.6M120.00 245.20h-1.6M29.80 160.50v1.6M29.80 261.40v-1.6M64.60 160.50v1.6M64.60 261.40v-1.6M99.40 160.50v1.6M99.40 261.40v-1.6" stroke="#444" stroke-width="0.7" fill="none"/>
<text x="120.90" y="270.94" font-size="7.5" text-anchor="end" class="s" fill="#111">×10<tspan dy="-3.75" font-size="5.25">-4</tspan><tspan dy="3.75" font-size="6.525"> m</tspan></text>
<text x="0.30" y="167.84" font-size="7.5" text-anchor="start" class="s" fill="#111">×10<tspan dy="-3.75" font-size="5.25">-5</tspan></text>
<text x="0.50" y="174.50" font-size="6.525" text-anchor="start" class="s" fill="#111">m</text>
<text x="38.90" y="157.64" font-size="7.5" class="s" fill="#222">Net number density (1/m<tspan dy="-3.75" font-size="5.25">3</tspan><tspan dy="3.75" font-size="7.5">)</tspan></text>
<rect x="126.30" y="185.60" width="4.90" height="63.10" fill="url(#jet)"/>
<text x="133.20" y="189.24" font-size="7.5" text-anchor="start" class="s" fill="#111">2</text>
<text x="133.20" y="203.44" font-size="7.5" text-anchor="start" class="s" fill="#111">1.5</text>
<text x="133.20" y="217.64" font-size="7.5" text-anchor="start" class="s" fill="#111">1</text>
<text x="133.20" y="231.84" font-size="7.5" text-anchor="start" class="s" fill="#111">0.5</text>
<text x="133.20" y="246.04" font-size="7.5" text-anchor="start" class="s" fill="#111">0</text>
<path d="M122.40 171.90L129.60 171.90L126.00 165.70Z" fill="#000"/>
<path d="M122.40 255.30L129.60 255.30L126.00 260.80Z" fill="#000"/>
<text x="132.20" y="172.04" font-size="7.5" text-anchor="start" class="s" fill="#111">1.22×10<tspan dy="-3.75" font-size="5.25">19</tspan></text>
<text x="132.20" y="260.49" font-size="7.5" text-anchor="start" class="s" fill="#111">-2.11×10<tspan dy="-3.75" font-size="5.25">18</tspan></text>
<text x="130.60" y="180.94" font-size="7.5" text-anchor="start" class="s" fill="#111">×10<tspan dy="-3.75" font-size="5.25">19</tspan></text>
<text x="116.30" y="256.20" font-size="10.3" text-anchor="end" class="r" fill="#f4f4ff"><tspan font-style="italic">t</tspan> = 199.08 μs</text>
<path d="M210.80 160.50H304.10V261.40H210.80Z" fill="none" stroke="#9c9c9c" stroke-width="0.9"/>
<path d="M213.50 176.00 L215.53 175.97 L217.56 175.89 L219.59 175.76 L221.62 175.57 L223.65 175.33 L225.68 175.03 L227.71 174.68 L229.74 174.28 L231.77 173.82 L233.80 173.31 L235.83 172.74 L237.86 172.12 L239.89 171.45 L241.92 170.73 L243.95 169.95 L245.98 169.11 L248.01 168.22 L250.04 167.28 L252.07 166.29 L254.10 165.24 L256.13 164.13 L258.16 162.98 L260.19 161.76 L262.22 160.50" fill="none" stroke="#aaa" stroke-width="0.6"/>
<text x="209.20" y="196.14" font-size="7.5" text-anchor="end" class="s" fill="#111">-5</text>
<text x="209.20" y="213.54" font-size="7.5" text-anchor="end" class="s" fill="#111">-10</text>
<text x="209.20" y="230.94" font-size="7.5" text-anchor="end" class="s" fill="#111">-15</text>
<text x="209.20" y="248.34" font-size="7.5" text-anchor="end" class="s" fill="#111">-20</text>
<text x="213.50" y="270.94" font-size="7.5" text-anchor="middle" class="s" fill="#111">0</text>
<text x="248.30" y="270.94" font-size="7.5" text-anchor="middle" class="s" fill="#111">1</text>
<path d="M210.80 176.00h1.6M304.10 176.00h-1.6M210.80 193.40h1.6M304.10 193.40h-1.6M210.80 210.80h1.6M304.10 210.80h-1.6M210.80 228.20h1.6M304.10 228.20h-1.6M210.80 245.60h1.6M304.10 245.60h-1.6M213.50 160.50v1.6M213.50 261.40v-1.6M248.30 160.50v1.6M248.30 261.40v-1.6M283.10 160.50v1.6M283.10 261.40v-1.6" stroke="#444" stroke-width="0.7" fill="none"/>
<text x="305.00" y="270.94" font-size="7.5" text-anchor="end" class="s" fill="#111">×10<tspan dy="-3.75" font-size="5.25">-4</tspan><tspan dy="3.75" font-size="6.525"> m</tspan></text>
<text x="184.50" y="167.84" font-size="7.5" text-anchor="start" class="s" fill="#111">×10<tspan dy="-3.75" font-size="5.25">-5</tspan></text>
<text x="184.70" y="174.50" font-size="6.525" text-anchor="start" class="s" fill="#111">m</text>
<text x="223.10" y="157.64" font-size="7.5" class="s" fill="#222">Net number density (1/m<tspan dy="-3.75" font-size="5.25">3</tspan><tspan dy="3.75" font-size="7.5">)</tspan></text>
<rect x="310.40" y="185.60" width="4.90" height="63.10" fill="url(#jet)"/>
<text x="317.30" y="189.24" font-size="7.5" text-anchor="start" class="s" fill="#111">2</text>
<text x="317.30" y="203.44" font-size="7.5" text-anchor="start" class="s" fill="#111">1.5</text>
<text x="317.30" y="217.64" font-size="7.5" text-anchor="start" class="s" fill="#111">1</text>
<text x="317.30" y="231.84" font-size="7.5" text-anchor="start" class="s" fill="#111">0.5</text>
<text x="317.30" y="246.04" font-size="7.5" text-anchor="start" class="s" fill="#111">0</text>
<path d="M306.50 171.90L313.70 171.90L310.10 165.70Z" fill="#000"/>
<path d="M306.50 255.30L313.70 255.30L310.10 260.80Z" fill="#000"/>
<text x="316.30" y="172.04" font-size="7.5" text-anchor="start" class="s" fill="#111">3.3×10<tspan dy="-3.75" font-size="5.25">19</tspan></text>
<text x="316.30" y="260.49" font-size="7.5" text-anchor="start" class="s" fill="#111">-2.62×10<tspan dy="-3.75" font-size="5.25">18</tspan></text>
<text x="314.70" y="180.94" font-size="7.5" text-anchor="start" class="s" fill="#111">×10<tspan dy="-3.75" font-size="5.25">19</tspan></text>
<text x="301.70" y="256.20" font-size="10.3" text-anchor="end" class="r" fill="#f4f4ff"><tspan font-style="italic">t</tspan> = 199.36 μs</text>
<path d="M394.10 160.50H487.90V261.40H394.10Z" fill="none" stroke="#9c9c9c" stroke-width="0.9"/>
<path d="M397.20 176.20 L399.24 176.17 L401.29 176.09 L403.33 175.95 L405.37 175.76 L407.42 175.52 L409.46 175.22 L411.50 174.86 L413.54 174.46 L415.59 173.99 L417.63 173.47 L419.67 172.90 L421.72 172.27 L423.76 171.59 L425.80 170.86 L427.85 170.07 L429.89 169.22 L431.93 168.32 L433.98 167.37 L436.02 166.36 L438.06 165.30 L440.10 164.18 L442.15 163.01 L444.19 161.78 L446.23 160.50" fill="none" stroke="#aaa" stroke-width="0.6"/>
<text x="392.50" y="196.34" font-size="7.5" text-anchor="end" class="s" fill="#111">-5</text>
<text x="392.50" y="213.74" font-size="7.5" text-anchor="end" class="s" fill="#111">-10</text>
<text x="392.50" y="231.14" font-size="7.5" text-anchor="end" class="s" fill="#111">-15</text>
<text x="392.50" y="248.54" font-size="7.5" text-anchor="end" class="s" fill="#111">-20</text>
<text x="397.20" y="270.94" font-size="7.5" text-anchor="middle" class="s" fill="#111">0</text>
<text x="432.00" y="270.94" font-size="7.5" text-anchor="middle" class="s" fill="#111">1</text>
<path d="M394.10 176.20h1.6M487.90 176.20h-1.6M394.10 193.60h1.6M487.90 193.60h-1.6M394.10 211.00h1.6M487.90 211.00h-1.6M394.10 228.40h1.6M487.90 228.40h-1.6M394.10 245.80h1.6M487.90 245.80h-1.6M397.20 160.50v1.6M397.20 261.40v-1.6M432.00 160.50v1.6M432.00 261.40v-1.6M466.80 160.50v1.6M466.80 261.40v-1.6" stroke="#444" stroke-width="0.7" fill="none"/>
<text x="488.80" y="270.94" font-size="7.5" text-anchor="end" class="s" fill="#111">×10<tspan dy="-3.75" font-size="5.25">-4</tspan><tspan dy="3.75" font-size="6.525"> m</tspan></text>
<text x="367.80" y="167.84" font-size="7.5" text-anchor="start" class="s" fill="#111">×10<tspan dy="-3.75" font-size="5.25">-5</tspan></text>
<text x="368.00" y="174.50" font-size="6.525" text-anchor="start" class="s" fill="#111">m</text>
<text x="406.40" y="157.64" font-size="7.5" class="s" fill="#222">Net number density (1/m<tspan dy="-3.75" font-size="5.25">3</tspan><tspan dy="3.75" font-size="7.5">)</tspan></text>
<rect x="494.20" y="185.60" width="4.90" height="63.10" fill="url(#jet)"/>
<text x="501.10" y="189.24" font-size="7.5" text-anchor="start" class="s" fill="#111">2</text>
<text x="501.10" y="203.44" font-size="7.5" text-anchor="start" class="s" fill="#111">1.5</text>
<text x="501.10" y="217.64" font-size="7.5" text-anchor="start" class="s" fill="#111">1</text>
<text x="501.10" y="231.84" font-size="7.5" text-anchor="start" class="s" fill="#111">0.5</text>
<text x="501.10" y="246.04" font-size="7.5" text-anchor="start" class="s" fill="#111">0</text>
<path d="M490.30 171.90L497.50 171.90L493.90 165.70Z" fill="#000"/>
<path d="M490.30 255.30L497.50 255.30L493.90 260.80Z" fill="#000"/>
<text x="500.10" y="172.04" font-size="7.5" text-anchor="start" class="s" fill="#111">2.47×10<tspan dy="-3.75" font-size="5.25">19</tspan></text>
<text x="500.10" y="260.49" font-size="7.5" text-anchor="start" class="s" fill="#111">-2.77×10<tspan dy="-3.75" font-size="5.25">18</tspan></text>
<text x="498.50" y="180.94" font-size="7.5" text-anchor="start" class="s" fill="#111">×10<tspan dy="-3.75" font-size="5.25">19</tspan></text>
<text x="485.60" y="256.20" font-size="10.3" text-anchor="end" class="r" fill="#f4f4ff"><tspan font-style="italic">t</tspan> = 199.48 μs</text>
<path d="M577.80 160.50H671.80V261.40H577.80Z" fill="none" stroke="#9c9c9c" stroke-width="0.9"/>
<path d="M583.80 176.90 L585.95 176.87 L588.10 176.79 L590.25 176.64 L592.40 176.44 L594.55 176.19 L596.70 175.88 L598.85 175.50 L601.00 175.08 L603.15 174.59 L605.30 174.05 L607.45 173.45 L609.60 172.80 L611.75 172.09 L613.90 171.32 L616.05 170.49 L618.20 169.61 L620.35 168.67 L622.50 167.68 L624.65 166.62 L626.80 165.51 L628.95 164.34 L631.10 163.12 L633.25 161.84 L635.40 160.50" fill="none" stroke="#aaa" stroke-width="0.6"/>
<text x="576.20" y="187.10" font-size="7.5" text-anchor="end" class="s" fill="#111">-2</text>
<text x="576.20" y="194.56" font-size="7.5" text-anchor="end" class="s" fill="#111">-4</text>
<text x="576.20" y="202.02" font-size="7.5" text-anchor="end" class="s" fill="#111">-6</text>
<text x="576.20" y="209.48" font-size="7.5" text-anchor="end" class="s" fill="#111">-8</text>
<text x="576.20" y="216.94" font-size="7.5" text-anchor="end" class="s" fill="#111">-10</text>
<text x="576.20" y="224.40" font-size="7.5" text-anchor="end" class="s" fill="#111">-12</text>
<text x="576.20" y="231.86" font-size="7.5" text-anchor="end" class="s" fill="#111">-14</text>
<text x="576.20" y="239.32" font-size="7.5" text-anchor="end" class="s" fill="#111">-16</text>
<text x="576.20" y="246.78" font-size="7.5" text-anchor="end" class="s" fill="#111">-18</text>
<text x="576.20" y="254.24" font-size="7.5" text-anchor="end" class="s" fill="#111">-20</text>
<text x="576.20" y="261.70" font-size="7.5" text-anchor="end" class="s" fill="#111">-22</text>
<text x="583.80" y="270.94" font-size="7.5" text-anchor="middle" class="s" fill="#111">0</text>
<text x="621.10" y="270.94" font-size="7.5" text-anchor="middle" class="s" fill="#111">1</text>
<path d="M577.80 176.90h1.6M671.80 176.90h-1.6M577.80 184.36h1.6M671.80 184.36h-1.6M577.80 191.82h1.6M671.80 191.82h-1.6M577.80 199.28h1.6M671.80 199.28h-1.6M577.80 206.74h1.6M671.80 206.74h-1.6M577.80 214.20h1.6M671.80 214.20h-1.6M577.80 221.66h1.6M671.80 221.66h-1.6M577.80 229.12h1.6M671.80 229.12h-1.6M577.80 236.58h1.6M671.80 236.58h-1.6M577.80 244.04h1.6M671.80 244.04h-1.6M577.80 251.50h1.6M671.80 251.50h-1.6M577.80 258.96h1.6M671.80 258.96h-1.6M583.80 160.50v1.6M583.80 261.40v-1.6M621.10 160.50v1.6M621.10 261.40v-1.6M658.40 160.50v1.6M658.40 261.40v-1.6" stroke="#444" stroke-width="0.7" fill="none"/>
<text x="672.70" y="270.94" font-size="7.5" text-anchor="end" class="s" fill="#111">×10<tspan dy="-3.75" font-size="5.25">-4</tspan><tspan dy="3.75" font-size="6.525"> m</tspan></text>
<text x="551.50" y="167.84" font-size="7.5" text-anchor="start" class="s" fill="#111">×10<tspan dy="-3.75" font-size="5.25">-5</tspan></text>
<text x="551.70" y="174.50" font-size="6.525" text-anchor="start" class="s" fill="#111">m</text>
<text x="590.10" y="157.64" font-size="7.5" class="s" fill="#222">Net number density (1/m<tspan dy="-3.75" font-size="5.25">3</tspan><tspan dy="3.75" font-size="7.5">)</tspan></text>
<rect x="678.10" y="185.60" width="4.90" height="63.10" fill="url(#jet)"/>
<text x="685.00" y="189.24" font-size="7.5" text-anchor="start" class="s" fill="#111">2</text>
<text x="685.00" y="203.44" font-size="7.5" text-anchor="start" class="s" fill="#111">1.5</text>
<text x="685.00" y="217.64" font-size="7.5" text-anchor="start" class="s" fill="#111">1</text>
<text x="685.00" y="231.84" font-size="7.5" text-anchor="start" class="s" fill="#111">0.5</text>
<text x="685.00" y="246.04" font-size="7.5" text-anchor="start" class="s" fill="#111">0</text>
<path d="M674.20 171.90L681.40 171.90L677.80 165.70Z" fill="#000"/>
<path d="M674.20 255.30L681.40 255.30L677.80 260.80Z" fill="#000"/>
<text x="684.00" y="172.04" font-size="7.5" text-anchor="start" class="s" fill="#111">2.9×10<tspan dy="-3.75" font-size="5.25">19</tspan></text>
<text x="684.00" y="260.49" font-size="7.5" text-anchor="start" class="s" fill="#111">-2.59×10<tspan dy="-3.75" font-size="5.25">18</tspan></text>
<text x="682.40" y="180.94" font-size="7.5" text-anchor="start" class="s" fill="#111">×10<tspan dy="-3.75" font-size="5.25">19</tspan></text>
<text x="670.00" y="256.90" font-size="10.3" text-anchor="end" class="r" fill="#f4f4ff"><tspan font-style="italic">t</tspan> = 200 μs</text>
<path d="M548.1 1.6V291" stroke="#444" stroke-width="1.3" stroke-dasharray="9.3 6.32" fill="none"/>
<text x="287.9" y="288.3" font-size="12.4" text-anchor="middle" class="r" fill="#111" stroke="#111" stroke-width=".3">(a)</text>
<text x="629" y="286.2" font-size="12.4" text-anchor="middle" class="r" fill="#111" stroke="#111" stroke-width=".3">(b)</text>
</svg>
</div>
</body></html>
